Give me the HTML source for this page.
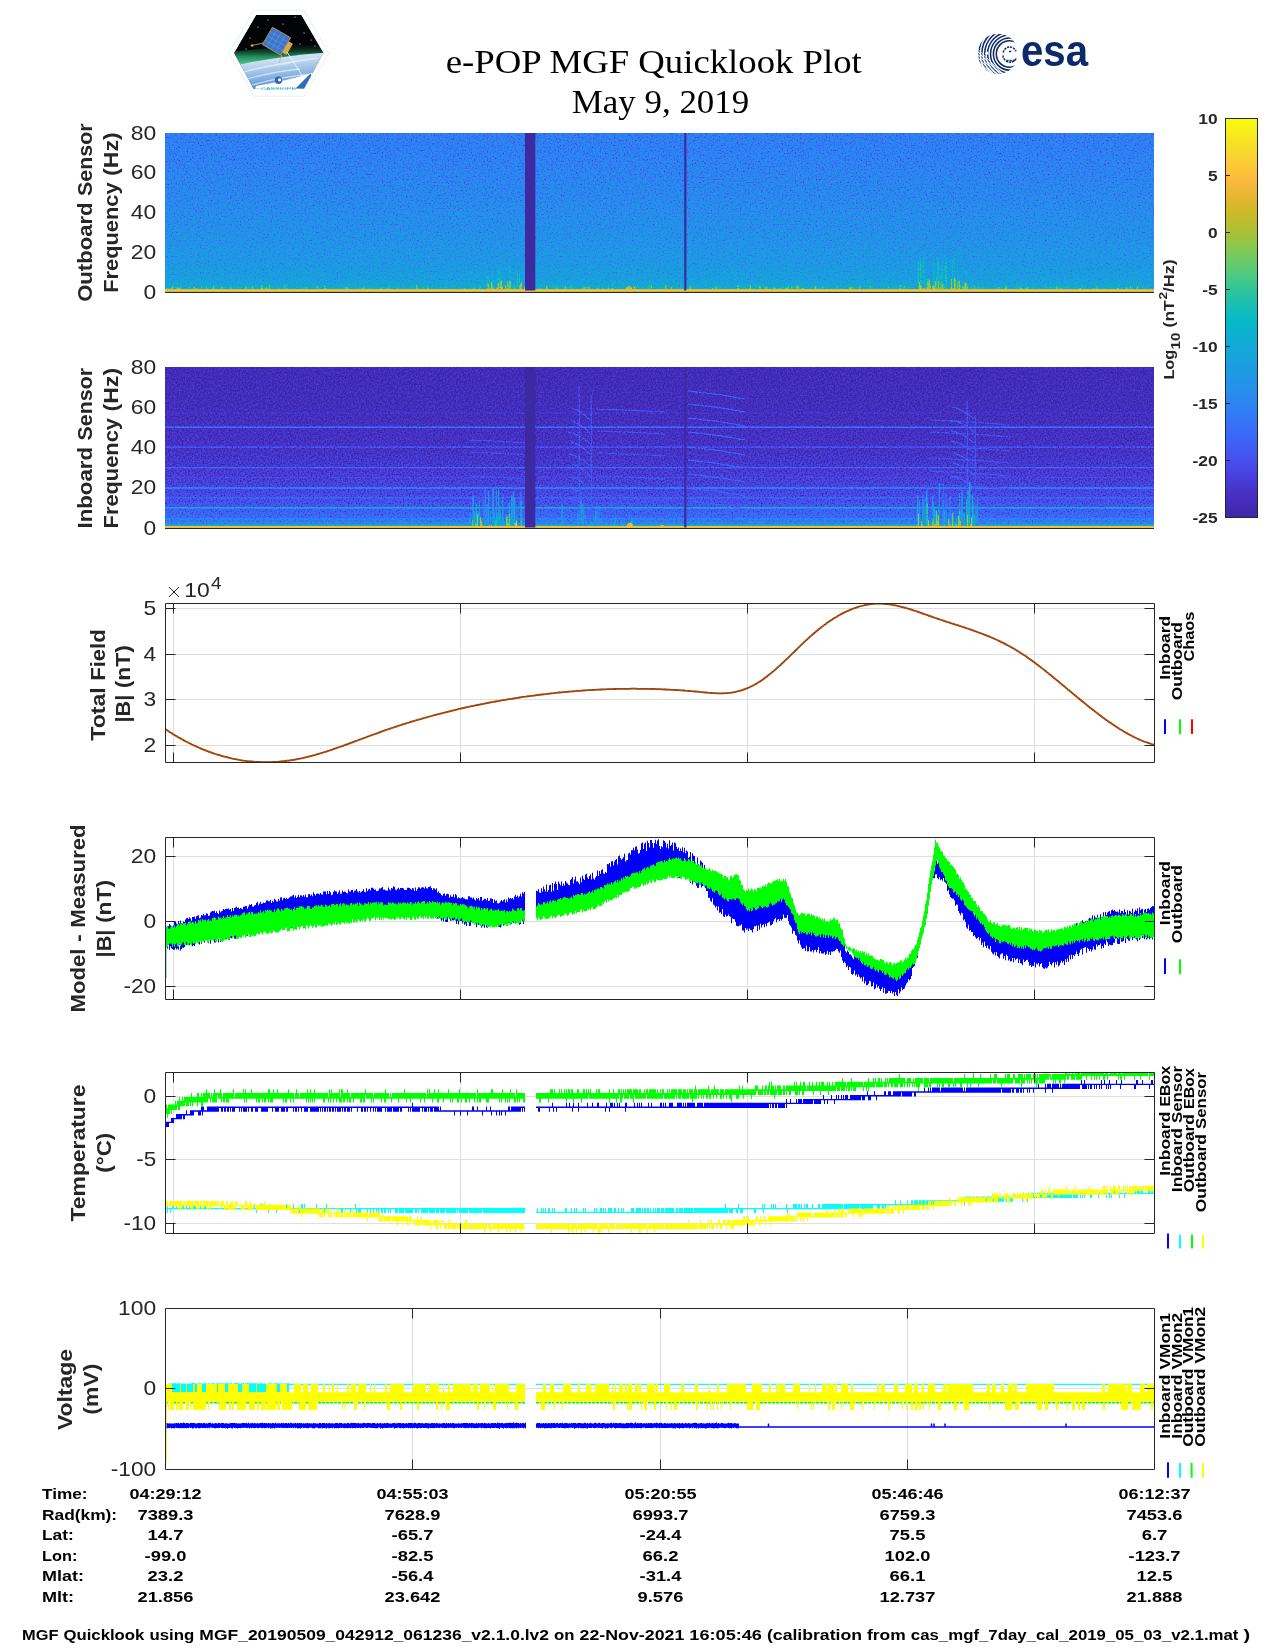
<!DOCTYPE html><html><head><meta charset="utf-8"><title>e-POP MGF Quicklook Plot</title><style>html,body{margin:0;padding:0;background:#fff;}body{width:1275px;height:1650px;overflow:hidden;position:relative;}svg{position:absolute;left:0;top:0;display:block;will-change:transform;}text{font-family:"Liberation Sans",sans-serif;}</style></head><body>
<svg width="1275" height="1650" viewBox="0 0 1275 1650">
<defs><clipPath id="hexclip"><polygon points="256.0,15.0 301.5,15.0 323.5,53.0 304.0,88.8 253.5,88.8 234.0,53.0"/></clipPath><linearGradient id="earth" x1="0" y1="0" x2="0.25" y2="1"><stop offset="0" stop-color="#eef5fb"/><stop offset="0.3" stop-color="#c9def2"/><stop offset="0.65" stop-color="#8db6e2"/><stop offset="1" stop-color="#4f86c8"/></linearGradient><linearGradient id="aur" x1="0" y1="0" x2="0" y2="1"><stop offset="0" stop-color="#06140e" stop-opacity="0"/><stop offset="0.55" stop-color="#1f8a58"/><stop offset="0.85" stop-color="#52c48e"/><stop offset="1" stop-color="#bfe8dc"/></linearGradient><clipPath id="esac"><circle cx="997.9" cy="53.8" r="20.1"/></clipPath><clipPath id="esall"><path d="M976.9 47.8 L1005.9 75.8 L976.9 75.8 Z"/></clipPath><linearGradient id="gout" gradientUnits="userSpaceOnUse" x1="0" y1="133" x2="0" y2="292"><stop offset="0.0000" stop-color="#4e4e4e"/><stop offset="0.2327" stop-color="#525252"/><stop offset="0.4214" stop-color="#575757"/><stop offset="0.6730" stop-color="#606060"/><stop offset="0.8302" stop-color="#676767"/><stop offset="0.9245" stop-color="#6e6e6e"/><stop offset="0.9623" stop-color="#787878"/><stop offset="0.9786" stop-color="#808080"/><stop offset="0.9811" stop-color="#dedede"/><stop offset="0.9937" stop-color="#dbdbdb"/><stop offset="0.9938" stop-color="#9e9e9e"/><stop offset="1.0000" stop-color="#9e9e9e"/></linearGradient><filter id="fout" filterUnits="userSpaceOnUse" x="165" y="133" width="989" height="159" color-interpolation-filters="sRGB"><feTurbulence type="fractalNoise" baseFrequency="0.62" numOctaves="2" seed="5" result="n"/><feColorMatrix in="n" type="matrix" values="1 0 0 0 0  1 0 0 0 0  1 0 0 0 0  0 0 0 0 1" result="ng0"/><feComponentTransfer in="ng0" result="ng"><feFuncR type="table" tableValues="0 0.16 0.38 0.5 0.56 0.6"/><feFuncG type="table" tableValues="0 0.16 0.38 0.5 0.56 0.6"/><feFuncB type="table" tableValues="0 0.16 0.38 0.5 0.56 0.6"/></feComponentTransfer><feComposite in="SourceGraphic" in2="ng" operator="arithmetic" k1="0" k2="1" k3="0.6" k4="-0.3000" result="v"/><feComponentTransfer in="v"><feFuncR type="table" tableValues="0.2431 0.2531 0.2631 0.2730 0.2766 0.2791 0.2816 0.2803 0.2774 0.2745 0.2637 0.2528 0.2418 0.2303 0.2179 0.2054 0.1935 0.1831 0.1727 0.1614 0.1501 0.1391 0.1291 0.1192 0.1091 0.0966 0.0842 0.0717 0.0583 0.0448 0.0313 0.0235 0.0530 0.0826 0.1163 0.1528 0.1896 0.2404 0.2912 0.3420 0.3949 0.4479 0.5008 0.5564 0.6120 0.6675 0.7135 0.7595 0.8045 0.8418 0.8792 0.9141 0.9474 0.9807 0.9873 0.9907 0.9873 0.9786 0.9698 0.9658 0.9685 0.9711 0.9738 0.9765"/><feFuncG type="table" tableValues="0.1490 0.1590 0.1689 0.1789 0.1973 0.2172 0.2372 0.2614 0.2874 0.3135 0.3375 0.3616 0.3856 0.4090 0.4314 0.4538 0.4766 0.5008 0.5251 0.5422 0.5591 0.5754 0.5891 0.6028 0.6166 0.6315 0.6465 0.6614 0.6769 0.6925 0.7080 0.7228 0.7321 0.7415 0.7507 0.7598 0.7689 0.7778 0.7867 0.7955 0.7936 0.7909 0.7883 0.7779 0.7673 0.7567 0.7472 0.7377 0.7287 0.7224 0.7162 0.7155 0.7184 0.7213 0.7456 0.7725 0.7997 0.8270 0.8544 0.8812 0.9069 0.9327 0.9585 0.9843"/><feFuncB type="table" tableValues="0.6588 0.6887 0.7186 0.7485 0.7805 0.8128 0.8452 0.8752 0.9041 0.9331 0.9442 0.9551 0.9660 0.9725 0.9725 0.9725 0.9700 0.9596 0.9492 0.9351 0.9210 0.9077 0.8978 0.8878 0.8777 0.8652 0.8528 0.8403 0.8260 0.8115 0.7969 0.7807 0.7527 0.7246 0.6878 0.6453 0.6028 0.5596 0.5164 0.4732 0.4283 0.3832 0.3382 0.2958 0.2534 0.2114 0.1925 0.1735 0.1584 0.1708 0.1833 0.2004 0.2207 0.2409 0.2326 0.2209 0.2052 0.1866 0.1679 0.1474 0.1243 0.1011 0.0780 0.0549"/></feComponentTransfer></filter><linearGradient id="gin" gradientUnits="userSpaceOnUse" x1="0" y1="367" x2="0" y2="528"><stop offset="0.0000" stop-color="#111111"/><stop offset="0.2671" stop-color="#131313"/><stop offset="0.5155" stop-color="#181818"/><stop offset="0.7019" stop-color="#212121"/><stop offset="0.8261" stop-color="#2b2b2b"/><stop offset="0.9006" stop-color="#383838"/><stop offset="0.9503" stop-color="#424242"/><stop offset="0.9752" stop-color="#575757"/><stop offset="0.9851" stop-color="#808080"/><stop offset="0.9876" stop-color="#dedede"/><stop offset="1.0000" stop-color="#dedede"/></linearGradient><filter id="fin" filterUnits="userSpaceOnUse" x="165" y="367" width="989" height="161" color-interpolation-filters="sRGB"><feTurbulence type="fractalNoise" baseFrequency="0.62" numOctaves="2" seed="9" result="n"/><feColorMatrix in="n" type="matrix" values="1 0 0 0 0  1 0 0 0 0  1 0 0 0 0  0 0 0 0 1" result="ng0"/><feComponentTransfer in="ng0" result="ng"><feFuncR type="table" tableValues="0 0.16 0.38 0.5 0.56 0.6"/><feFuncG type="table" tableValues="0 0.16 0.38 0.5 0.56 0.6"/><feFuncB type="table" tableValues="0 0.16 0.38 0.5 0.56 0.6"/></feComponentTransfer><feComposite in="SourceGraphic" in2="ng" operator="arithmetic" k1="0" k2="1" k3="0.5" k4="-0.2500" result="v"/><feComponentTransfer in="v"><feFuncR type="table" tableValues="0.2431 0.2531 0.2631 0.2730 0.2766 0.2791 0.2816 0.2803 0.2774 0.2745 0.2637 0.2528 0.2418 0.2303 0.2179 0.2054 0.1935 0.1831 0.1727 0.1614 0.1501 0.1391 0.1291 0.1192 0.1091 0.0966 0.0842 0.0717 0.0583 0.0448 0.0313 0.0235 0.0530 0.0826 0.1163 0.1528 0.1896 0.2404 0.2912 0.3420 0.3949 0.4479 0.5008 0.5564 0.6120 0.6675 0.7135 0.7595 0.8045 0.8418 0.8792 0.9141 0.9474 0.9807 0.9873 0.9907 0.9873 0.9786 0.9698 0.9658 0.9685 0.9711 0.9738 0.9765"/><feFuncG type="table" tableValues="0.1490 0.1590 0.1689 0.1789 0.1973 0.2172 0.2372 0.2614 0.2874 0.3135 0.3375 0.3616 0.3856 0.4090 0.4314 0.4538 0.4766 0.5008 0.5251 0.5422 0.5591 0.5754 0.5891 0.6028 0.6166 0.6315 0.6465 0.6614 0.6769 0.6925 0.7080 0.7228 0.7321 0.7415 0.7507 0.7598 0.7689 0.7778 0.7867 0.7955 0.7936 0.7909 0.7883 0.7779 0.7673 0.7567 0.7472 0.7377 0.7287 0.7224 0.7162 0.7155 0.7184 0.7213 0.7456 0.7725 0.7997 0.8270 0.8544 0.8812 0.9069 0.9327 0.9585 0.9843"/><feFuncB type="table" tableValues="0.6588 0.6887 0.7186 0.7485 0.7805 0.8128 0.8452 0.8752 0.9041 0.9331 0.9442 0.9551 0.9660 0.9725 0.9725 0.9725 0.9700 0.9596 0.9492 0.9351 0.9210 0.9077 0.8978 0.8878 0.8777 0.8652 0.8528 0.8403 0.8260 0.8115 0.7969 0.7807 0.7527 0.7246 0.6878 0.6453 0.6028 0.5596 0.5164 0.4732 0.4283 0.3832 0.3382 0.2958 0.2534 0.2114 0.1925 0.1735 0.1584 0.1708 0.1833 0.2004 0.2207 0.2409 0.2326 0.2209 0.2052 0.1866 0.1679 0.1474 0.1243 0.1011 0.0780 0.0549"/></feComponentTransfer></filter><linearGradient id="parula" x1="0" y1="0" x2="0" y2="1"><stop offset="0.000" stop-color="#f9fb0e"/><stop offset="0.070" stop-color="#f6de28"/><stop offset="0.120" stop-color="#fdc837"/><stop offset="0.157" stop-color="#fbb83e"/><stop offset="0.200" stop-color="#e4b630"/><stop offset="0.240" stop-color="#ccba28"/><stop offset="0.286" stop-color="#aac136"/><stop offset="0.333" stop-color="#80c956"/><stop offset="0.380" stop-color="#58cb78"/><stop offset="0.429" stop-color="#30c49a"/><stop offset="0.470" stop-color="#18beb6"/><stop offset="0.510" stop-color="#05b8c8"/><stop offset="0.570" stop-color="#12a9d6"/><stop offset="0.620" stop-color="#1c9de0"/><stop offset="0.670" stop-color="#2492e8"/><stop offset="0.714" stop-color="#2c86f2"/><stop offset="0.750" stop-color="#3278f8"/><stop offset="0.800" stop-color="#3c66f8"/><stop offset="0.857" stop-color="#4650ee"/><stop offset="0.900" stop-color="#483eda"/><stop offset="0.950" stop-color="#462ec0"/><stop offset="1.000" stop-color="#3e26a8"/></linearGradient><clipPath id="tfclip"><rect x="165" y="603" width="990" height="160"/></clipPath><clipPath id="mmclip"><rect x="165" y="837" width="990" height="163"/></clipPath><clipPath id="tpclip"><rect x="165" y="1072" width="990" height="162"/></clipPath><clipPath id="vlclip"><rect x="165" y="1308" width="990" height="162"/></clipPath></defs>
<polygon points="254.0,10.2 304.0,10.2 329.0,53.2 304.0,96.2 254.0,96.2 229.0,53.2" fill="#fff" stroke="#c4e8f4" stroke-width="0.9" stroke-dasharray="1.2 0.8"/>
<g clip-path="url(#hexclip)">
<polygon points="256.0,15.0 301.5,15.0 323.5,53.0 304.0,88.8 253.5,88.8 234.0,53.0" fill="#020306"/>
<path d="M230 52 L326 42 L326 54 L230 68 Z" fill="url(#aur)"/>
<path d="M230 67 Q275 56 326 52.5 L326 92 L230 92 Z" fill="url(#earth)"/>
<path d="M238 74 Q262 66 290 63 M244 80 Q270 72 300 69 M252 85 Q280 77 312 74 M270 66 Q290 62 318 58" stroke="#ffffff" stroke-width="1.4" fill="none" opacity="0.55"/>
<path d="M236 78 Q250 84 258 90 L236 90 Z" fill="#3f78c0" opacity="0.5"/>
<path d="M256 86 Q286 81 312 73 L326 71 L326 92 L254 92 Z" fill="#fff"/>
<path d="M295.5 88.5 L310.5 73.5 L313 79 L305 89 Z" fill="#2e6cc0"/>
<g transform="rotate(30 276 42)"><rect x="265.5" y="31" width="21" height="20" fill="#3b76cc" stroke="#c99a48" stroke-width="0.8"/><path d="M265.5 36 H286.5 M265.5 41 H286.5 M265.5 46 H286.5 M270.5 31 V51 M275.5 31 V51 M280.5 31 V51" stroke="#6a9ee0" stroke-width="0.5"/><rect x="286.5" y="35" width="5" height="13" fill="#d8a850"/></g>
<path d="M263 43 L252 45.5 M282 55 L279 63" stroke="#d9b06a" stroke-width="0.8" fill="none"/>
<path d="M287 52 L302.5 76" stroke="#eef4ff" stroke-width="0.9" fill="none"/>
<circle cx="252" cy="45.5" r="1.3" fill="#f0a030"/>
<circle cx="258" cy="27" r="0.55" fill="#fff"/>
<circle cx="295" cy="17" r="0.55" fill="#fff"/>
<circle cx="283" cy="24" r="0.55" fill="#fff"/>
<circle cx="246" cy="49" r="0.55" fill="#fff"/>
<circle cx="304" cy="33" r="0.55" fill="#fff"/>
<circle cx="311" cy="40" r="0.55" fill="#fff"/>
<circle cx="268" cy="20" r="0.55" fill="#fff"/>
<circle cx="300" cy="44" r="0.55" fill="#fff"/>
<circle cx="315" cy="46" r="0.55" fill="#fff"/>
<circle cx="250" cy="38" r="0.55" fill="#fff"/>
<circle cx="278.5" cy="80.3" r="3.7" fill="#2c68b8"/><circle cx="279.6" cy="79.8" r="1.6" fill="#fff"/>
</g>
<text x="278.5" y="90.2" font-size="4.3" text-anchor="middle" fill="#33a9d9" textLength="35" lengthAdjust="spacingAndGlyphs">CASSIOPE</text>
<g clip-path="url(#esac)">
<g fill="none" stroke="#0c2a6a" stroke-width="1.55"><circle cx="1009.5" cy="54.0" r="13.2"/><circle cx="1009.5" cy="54.0" r="16.1"/><circle cx="1009.5" cy="54.0" r="19.0"/><circle cx="1009.5" cy="54.0" r="21.9"/><circle cx="1009.5" cy="54.0" r="24.8"/><circle cx="1009.5" cy="54.0" r="27.7"/><circle cx="1009.5" cy="54.0" r="30.6"/><circle cx="1009.5" cy="54.0" r="33.5"/><circle cx="1009.5" cy="54.0" r="36.4"/><circle cx="1009.5" cy="54.0" r="39.3"/><circle cx="1009.5" cy="54.0" r="42.2"/><circle cx="1009.5" cy="54.0" r="45.1"/></g>
<g clip-path="url(#esall)"><path d="M937.9 23.8 l60 60M940.9 23.8 l60 60M943.9 23.8 l60 60M946.9 23.8 l60 60M949.9 23.8 l60 60M952.9 23.8 l60 60M955.9 23.8 l60 60M958.9 23.8 l60 60M961.9 23.8 l60 60M964.9 23.8 l60 60M967.9 23.8 l60 60M970.9 23.8 l60 60M973.9 23.8 l60 60M976.9 23.8 l60 60M979.9 23.8 l60 60M982.9 23.8 l60 60M985.9 23.8 l60 60M988.9 23.8 l60 60M991.9 23.8 l60 60M994.9 23.8 l60 60M997.9 23.8 l60 60M1000.9 23.8 l60 60M1003.9 23.8 l60 60M1006.9 23.8 l60 60" stroke="#fff" stroke-width="1.1" fill="none" opacity="0.9"/></g>
<circle cx="1009.5" cy="54.0" r="11.6" fill="#fff"/>
<circle cx="987" cy="53.2" r="1.6" fill="#fff"/>
</g>
<path d="M1003.3 52.5 A6.6 6.6 0 0 1 1016 51.3 M1009 51.4 H1011.7 M1003 55.5 A7 7 0 0 0 1016.5 57.8 M1006.5 60.6 H1015" stroke="#0c2a6a" stroke-width="1.5" fill="none" stroke-dasharray="2.2 0.9"/>
<text x="1021" y="66" font-size="45" font-weight="bold" fill="#0c2a6a" textLength="67" lengthAdjust="spacingAndGlyphs">esa</text>
<text x="653.80" y="72.80" font-size="33.60" text-anchor="middle" fill="#000" style="font-family:&quot;Liberation Serif&quot;,serif" textLength="416.00" lengthAdjust="spacingAndGlyphs">e-POP MGF Quicklook Plot</text>
<text x="660.50" y="112.50" font-size="33.60" text-anchor="middle" fill="#000" style="font-family:&quot;Liberation Serif&quot;,serif" textLength="177.50" lengthAdjust="spacingAndGlyphs">May 9, 2019</text>
<g filter="url(#fout)"><rect x="165" y="133" width="989" height="159" fill="url(#gout)"/>
<path d="M498.0 289V287.8" stroke="#8c8c8c" stroke-width="0.54"/><path d="M505.8 289V284.0" stroke="#6e6e6e" stroke-width="0.75"/><path d="M487.4 289V282.4" stroke="#6f6f6f" stroke-width="0.55"/><path d="M501.7 289V270.6" stroke="#717171" stroke-width="0.61"/><path d="M509.2 289V266.1" stroke="#898989" stroke-width="0.70"/><path d="M522.1 289V288.8" stroke="#979797" stroke-width="0.64"/><path d="M491.3 289V288.2" stroke="#7b7b7b" stroke-width="0.91"/><path d="M492.7 289V278.5" stroke="#8c8c8c" stroke-width="0.69"/><path d="M506.3 289V288.7" stroke="#6e6e6e" stroke-width="0.60"/><path d="M511.2 289V282.6" stroke="#7b7b7b" stroke-width="0.79"/><path d="M502.8 289V285.4" stroke="#949494" stroke-width="0.85"/><path d="M495.0 289V278.7" stroke="#868686" stroke-width="0.94"/><path d="M513.0 289V285.6" stroke="#9d9d9d" stroke-width="0.56"/><path d="M501.5 289V273.0" stroke="#737373" stroke-width="0.74"/><path d="M487.5 289V275.9" stroke="#929292" stroke-width="0.79"/><path d="M518.4 289V285.1" stroke="#8f8f8f" stroke-width="0.80"/><path d="M507.5 289V281.9" stroke="#969696" stroke-width="0.97"/><path d="M503.5 289V276.0" stroke="#6e6e6e" stroke-width="0.85"/><path d="M509.9 289V264.3" stroke="#959595" stroke-width="0.64"/><path d="M500.3 289V275.9" stroke="#6c6c6c" stroke-width="0.73"/><path d="M492.2 289V288.2" stroke="#6e6e6e" stroke-width="0.88"/><path d="M490.8 289V286.3" stroke="#7f7f7f" stroke-width="0.94"/><path d="M489.0 289V282.1" stroke="#878787" stroke-width="0.94"/><path d="M516.3 289V269.2" stroke="#797979" stroke-width="0.71"/><path d="M499.3 289V268.5" stroke="#9c9c9c" stroke-width="0.58"/><path d="M492.5 289V286.6" stroke="#777777" stroke-width="0.74"/><path d="M507.8 289V286.1" stroke="#6b6b6b" stroke-width="0.71"/><path d="M499.7 289V278.9" stroke="#9c9c9c" stroke-width="0.85"/><path d="M505.1 289V277.4" stroke="#8e8e8e" stroke-width="0.53"/><path d="M519.3 289V272.2" stroke="#989898" stroke-width="0.90"/><path d="M500.5 289V283.3" stroke="#707070" stroke-width="0.82"/><path d="M488.3 289V288.7" stroke="#767676" stroke-width="0.58"/><path d="M498.6 289V288.8" stroke="#6b6b6b" stroke-width="0.58"/><path d="M489.8 289V284.0" stroke="#6c6c6c" stroke-width="0.94"/><path d="M508.7 289V287.8" stroke="#787878" stroke-width="0.67"/><path d="M499.5 289V288.1" stroke="#969696" stroke-width="1.00"/><path d="M503.2 289V281.2" stroke="#6f6f6f" stroke-width="0.55"/><path d="M498.7 289V286.0" stroke="#959595" stroke-width="0.58"/><path d="M486.9 289V265.9" stroke="#868686" stroke-width="0.57"/><path d="M506.1 289V288.9" stroke="#868686" stroke-width="0.99"/><path d="M517.9 289V275.0" stroke="#787878" stroke-width="0.68"/><path d="M492.2 289V272.5" stroke="#868686" stroke-width="0.89"/><path d="M498.2 289V286.7" stroke="#949494" stroke-width="0.99"/><path d="M517.5 289V271.3" stroke="#959595" stroke-width="0.87"/><path d="M494.4 289V280.3" stroke="#7d7d7d" stroke-width="0.51"/><path d="M487.0 289V285.7" stroke="#787878" stroke-width="0.85"/><path d="M521.4 289V282.1" stroke="#9b9b9b" stroke-width="0.99"/><path d="M521.3 289V284.0" stroke="#767676" stroke-width="0.61"/><path d="M493.3 289V287.0" stroke="#8b8b8b" stroke-width="0.95"/><path d="M517.1 289V281.3" stroke="#8c8c8c" stroke-width="0.90"/><path d="M489.1 289V276.1" stroke="#999999" stroke-width="0.89"/><path d="M513.8 289V281.3" stroke="#747474" stroke-width="0.89"/><path d="M498.3 289V271.5" stroke="#9d9d9d" stroke-width="0.70"/><path d="M500.9 289V266.1" stroke="#909090" stroke-width="0.59"/><path d="M490.7 289V287.8" stroke="#999999" stroke-width="0.90"/>
<path d="M923.6 289V261.7" stroke="#a2a2a2" stroke-width="0.83"/><path d="M934.2 289V274.8" stroke="#727272" stroke-width="0.51"/><path d="M966.5 289V270.4" stroke="#898989" stroke-width="0.97"/><path d="M938.6 289V259.3" stroke="#999999" stroke-width="0.61"/><path d="M929.1 289V283.8" stroke="#797979" stroke-width="0.79"/><path d="M929.5 289V279.8" stroke="#727272" stroke-width="0.96"/><path d="M934.4 289V278.4" stroke="#8c8c8c" stroke-width="0.95"/><path d="M937.9 289V256.7" stroke="#878787" stroke-width="0.77"/><path d="M943.2 289V288.9" stroke="#848484" stroke-width="0.59"/><path d="M916.2 289V263.2" stroke="#757575" stroke-width="0.74"/><path d="M953.7 289V274.5" stroke="#7d7d7d" stroke-width="0.76"/><path d="M944.9 289V263.9" stroke="#717171" stroke-width="0.78"/><path d="M928.9 289V284.3" stroke="#969696" stroke-width="0.75"/><path d="M945.2 289V265.1" stroke="#9e9e9e" stroke-width="0.72"/><path d="M947.9 289V276.6" stroke="#888888" stroke-width="0.85"/><path d="M939.5 289V275.5" stroke="#868686" stroke-width="0.97"/><path d="M952.4 289V259.0" stroke="#a0a0a0" stroke-width="0.63"/><path d="M945.1 289V255.3" stroke="#9a9a9a" stroke-width="0.57"/><path d="M922.3 289V279.0" stroke="#6f6f6f" stroke-width="0.62"/><path d="M919.8 289V269.5" stroke="#979797" stroke-width="0.95"/><path d="M924.0 289V267.3" stroke="#909090" stroke-width="0.57"/><path d="M961.9 289V253.9" stroke="#777777" stroke-width="0.98"/><path d="M936.7 289V277.3" stroke="#a3a3a3" stroke-width="0.92"/><path d="M924.4 289V279.4" stroke="#888888" stroke-width="0.67"/><path d="M926.2 289V283.1" stroke="#949494" stroke-width="0.51"/><path d="M944.8 289V279.0" stroke="#6c6c6c" stroke-width="0.67"/><path d="M948.4 289V276.3" stroke="#6f6f6f" stroke-width="0.99"/><path d="M957.0 289V253.7" stroke="#717171" stroke-width="0.63"/><path d="M918.1 289V264.2" stroke="#7a7a7a" stroke-width="0.56"/><path d="M938.0 289V257.1" stroke="#999999" stroke-width="0.63"/><path d="M923.8 289V256.7" stroke="#8b8b8b" stroke-width="0.85"/><path d="M920.7 289V288.6" stroke="#929292" stroke-width="0.71"/><path d="M919.8 289V255.6" stroke="#8f8f8f" stroke-width="0.90"/><path d="M920.4 289V260.1" stroke="#6f6f6f" stroke-width="0.93"/><path d="M939.6 289V282.4" stroke="#8a8a8a" stroke-width="0.96"/><path d="M929.9 289V287.6" stroke="#898989" stroke-width="0.62"/><path d="M921.7 289V287.0" stroke="#6e6e6e" stroke-width="0.60"/><path d="M932.2 289V283.5" stroke="#969696" stroke-width="0.64"/><path d="M942.0 289V286.7" stroke="#7f7f7f" stroke-width="0.51"/><path d="M929.0 289V289.0" stroke="#949494" stroke-width="0.78"/><path d="M925.9 289V277.8" stroke="#a0a0a0" stroke-width="0.55"/><path d="M958.6 289V279.3" stroke="#878787" stroke-width="0.92"/><path d="M936.4 289V276.5" stroke="#929292" stroke-width="0.99"/><path d="M933.8 289V261.4" stroke="#939393" stroke-width="0.82"/><path d="M937.0 289V282.2" stroke="#6e6e6e" stroke-width="0.56"/><path d="M919.7 289V266.1" stroke="#797979" stroke-width="0.58"/><path d="M920.4 289V260.9" stroke="#9c9c9c" stroke-width="0.84"/><path d="M930.7 289V285.2" stroke="#7c7c7c" stroke-width="0.73"/><path d="M924.2 289V278.8" stroke="#7a7a7a" stroke-width="0.98"/><path d="M966.6 289V274.9" stroke="#797979" stroke-width="0.98"/><path d="M932.1 289V281.9" stroke="#6b6b6b" stroke-width="0.69"/><path d="M940.7 289V276.7" stroke="#767676" stroke-width="0.75"/><path d="M916.3 289V284.6" stroke="#707070" stroke-width="0.70"/><path d="M918.2 289V288.9" stroke="#7c7c7c" stroke-width="0.62"/><path d="M946.5 289V275.6" stroke="#959595" stroke-width="0.83"/><path d="M953.2 289V258.9" stroke="#818181" stroke-width="0.66"/><path d="M967.2 289V287.2" stroke="#949494" stroke-width="0.82"/><path d="M918.3 289V261.3" stroke="#9d9d9d" stroke-width="0.81"/><path d="M954.2 289V262.5" stroke="#737373" stroke-width="0.76"/><path d="M942.2 289V261.3" stroke="#989898" stroke-width="0.91"/><path d="M946.4 289V258.1" stroke="#919191" stroke-width="0.85"/><path d="M928.0 289V288.9" stroke="#737373" stroke-width="0.68"/><path d="M921.5 289V261.2" stroke="#8a8a8a" stroke-width="0.81"/><path d="M948.6 289V269.0" stroke="#878787" stroke-width="0.50"/><path d="M957.5 289V265.7" stroke="#878787" stroke-width="0.77"/><path d="M950.3 289V288.5" stroke="#949494" stroke-width="0.63"/><path d="M919.9 289V284.6" stroke="#949494" stroke-width="0.60"/><path d="M954.5 289V253.4" stroke="#878787" stroke-width="0.69"/><path d="M940.9 289V268.9" stroke="#969696" stroke-width="0.81"/><path d="M949.4 289V288.4" stroke="#737373" stroke-width="0.63"/>
<path d="M644.6 289V287.7" stroke="#9c9c9c" stroke-width="0.61"/><path d="M603.6 289V287.9" stroke="#a2a2a2" stroke-width="0.95"/><path d="M640.5 289V287.8" stroke="#9a9a9a" stroke-width="0.83"/><path d="M628.0 289V288.7" stroke="#adadad" stroke-width="0.70"/><path d="M658.7 289V280.9" stroke="#808080" stroke-width="0.83"/><path d="M649.2 289V280.5" stroke="#969696" stroke-width="0.73"/><path d="M612.6 289V280.8" stroke="#8a8a8a" stroke-width="0.89"/><path d="M608.5 289V285.8" stroke="#b0b0b0" stroke-width="0.67"/><path d="M649.2 289V285.9" stroke="#adadad" stroke-width="0.95"/><path d="M613.9 289V281.4" stroke="#989898" stroke-width="0.61"/>
<path d="M488.1 289V286.1" stroke="#d3d3d3" stroke-width="0.78"/><path d="M492.9 289V287.4" stroke="#cdcdcd" stroke-width="1.10"/><path d="M488.1 289V283.3" stroke="#e4e4e4" stroke-width="0.67"/><path d="M520.4 289V283.8" stroke="#e6e6e6" stroke-width="0.77"/><path d="M501.0 289V287.0" stroke="#ebebeb" stroke-width="0.95"/><path d="M500.6 289V286.7" stroke="#cbcbcb" stroke-width="0.63"/><path d="M491.6 289V282.3" stroke="#cccccc" stroke-width="1.16"/><path d="M496.7 289V287.9" stroke="#d5d5d5" stroke-width="0.71"/><path d="M501.1 289V280.6" stroke="#e6e6e6" stroke-width="1.09"/><path d="M510.1 289V281.2" stroke="#e8e8e8" stroke-width="0.93"/><path d="M513.2 289V288.9" stroke="#dfdfdf" stroke-width="0.87"/><path d="M514.3 289V284.5" stroke="#cccccc" stroke-width="0.63"/><path d="M520.4 289V288.7" stroke="#d4d4d4" stroke-width="0.81"/><path d="M498.4 289V283.5" stroke="#eaeaea" stroke-width="0.76"/><path d="M511.0 289V287.7" stroke="#d7d7d7" stroke-width="0.84"/><path d="M493.9 289V288.5" stroke="#c8c8c8" stroke-width="1.14"/><path d="M505.4 289V288.2" stroke="#e7e7e7" stroke-width="1.20"/><path d="M503.7 289V288.6" stroke="#c8c8c8" stroke-width="0.65"/><path d="M500.0 289V288.8" stroke="#cacaca" stroke-width="0.76"/><path d="M507.9 289V281.6" stroke="#e0e0e0" stroke-width="0.85"/><path d="M502.5 289V285.8" stroke="#d0d0d0" stroke-width="0.80"/><path d="M490.2 289V287.8" stroke="#e9e9e9" stroke-width="0.68"/><path d="M505.6 289V284.7" stroke="#e5e5e5" stroke-width="0.73"/><path d="M497.5 289V288.0" stroke="#d1d1d1" stroke-width="0.87"/><path d="M521.4 289V282.1" stroke="#e5e5e5" stroke-width="0.61"/>
<path d="M919.6 289V282.6" stroke="#e6e6e6" stroke-width="0.88"/><path d="M947.4 289V289.0" stroke="#d0d0d0" stroke-width="1.16"/><path d="M959.3 289V280.4" stroke="#e9e9e9" stroke-width="0.75"/><path d="M923.5 289V288.4" stroke="#d6d6d6" stroke-width="1.01"/><path d="M965.1 289V282.5" stroke="#dbdbdb" stroke-width="1.06"/><path d="M940.9 289V284.8" stroke="#c1c1c1" stroke-width="1.07"/><path d="M929.6 289V279.4" stroke="#dbdbdb" stroke-width="0.78"/><path d="M924.4 289V287.8" stroke="#dbdbdb" stroke-width="1.02"/><path d="M923.6 289V288.8" stroke="#d6d6d6" stroke-width="0.95"/><path d="M937.4 289V288.0" stroke="#d9d9d9" stroke-width="0.61"/><path d="M933.1 289V285.8" stroke="#e9e9e9" stroke-width="0.99"/><path d="M962.2 289V285.7" stroke="#c9c9c9" stroke-width="0.75"/><path d="M966.0 289V282.7" stroke="#cdcdcd" stroke-width="0.61"/><path d="M942.9 289V283.1" stroke="#d1d1d1" stroke-width="0.75"/><path d="M951.4 289V279.3" stroke="#c9c9c9" stroke-width="0.62"/><path d="M934.9 289V286.2" stroke="#dddddd" stroke-width="0.72"/><path d="M957.9 289V282.2" stroke="#d5d5d5" stroke-width="0.72"/><path d="M966.5 289V287.3" stroke="#e3e3e3" stroke-width="0.74"/><path d="M929.1 289V281.9" stroke="#cccccc" stroke-width="1.17"/><path d="M942.8 289V288.2" stroke="#c9c9c9" stroke-width="0.85"/><path d="M951.3 289V278.9" stroke="#c6c6c6" stroke-width="0.84"/><path d="M928.6 289V278.5" stroke="#c5c5c5" stroke-width="0.63"/><path d="M921.0 289V286.5" stroke="#e6e6e6" stroke-width="1.13"/><path d="M954.6 289V278.0" stroke="#e8e8e8" stroke-width="0.80"/><path d="M927.3 289V279.1" stroke="#e0e0e0" stroke-width="0.62"/><path d="M951.2 289V286.7" stroke="#cfcfcf" stroke-width="0.80"/><path d="M926.5 289V289.0" stroke="#cbcbcb" stroke-width="0.81"/><path d="M965.8 289V288.6" stroke="#e9e9e9" stroke-width="0.72"/><path d="M935.8 289V281.0" stroke="#e3e3e3" stroke-width="0.86"/><path d="M920.5 289V285.7" stroke="#cfcfcf" stroke-width="1.15"/><path d="M927.7 289V286.8" stroke="#e6e6e6" stroke-width="0.62"/><path d="M938.5 289V281.1" stroke="#e0e0e0" stroke-width="0.62"/><path d="M919.7 289V288.9" stroke="#e7e7e7" stroke-width="0.75"/><path d="M955.4 289V279.7" stroke="#cecece" stroke-width="0.76"/><path d="M965.9 289V283.9" stroke="#cbcbcb" stroke-width="1.03"/>
<path d="M1005.3 289V288.1" stroke="#808080" stroke-width="0.98"/><path d="M1053.3 289V285.6" stroke="#b0b0b0" stroke-width="0.61"/><path d="M998.7 289V286.9" stroke="#b0b0b0" stroke-width="1.08"/><path d="M1010.9 289V288.2" stroke="#959595" stroke-width="0.85"/><path d="M1054.2 289V288.5" stroke="#a8a8a8" stroke-width="0.97"/><path d="M1045.8 289V284.4" stroke="#9e9e9e" stroke-width="0.76"/><path d="M1005.6 289V287.6" stroke="#a7a7a7" stroke-width="0.64"/><path d="M995.8 289V284.6" stroke="#8c8c8c" stroke-width="0.63"/><path d="M982.7 289V286.3" stroke="#909090" stroke-width="1.09"/><path d="M1050.7 289V282.1" stroke="#8d8d8d" stroke-width="0.64"/>
<path d="M625 290 q4 -8 8 0 Z" fill="#d9d9d9"/>
<path d="M261.2 289V287.7" stroke="#b9b9b9" stroke-width="1.11"/><path d="M397.2 289V288.0" stroke="#b4b4b4" stroke-width="1.27"/><path d="M904.3 289V285.9" stroke="#b7b7b7" stroke-width="0.88"/><path d="M995.9 289V288.4" stroke="#b0b0b0" stroke-width="1.06"/><path d="M894.5 289V288.7" stroke="#9c9c9c" stroke-width="0.97"/><path d="M317.3 289V285.7" stroke="#b1b1b1" stroke-width="1.03"/><path d="M556.9 289V285.0" stroke="#adadad" stroke-width="0.96"/><path d="M963.9 289V287.0" stroke="#cbcbcb" stroke-width="0.87"/><path d="M634.6 289V286.1" stroke="#c2c2c2" stroke-width="1.44"/><path d="M205.8 289V288.4" stroke="#949494" stroke-width="0.93"/><path d="M1126.3 289V287.3" stroke="#c8c8c8" stroke-width="1.06"/><path d="M1020.9 289V287.9" stroke="#9d9d9d" stroke-width="1.34"/><path d="M1099.4 289V288.9" stroke="#b2b2b2" stroke-width="1.23"/><path d="M380.8 289V288.2" stroke="#959595" stroke-width="0.94"/><path d="M417.6 289V287.2" stroke="#b6b6b6" stroke-width="0.94"/><path d="M177.2 289V288.3" stroke="#b7b7b7" stroke-width="0.93"/><path d="M474.1 289V288.7" stroke="#bfbfbf" stroke-width="1.18"/><path d="M228.4 289V288.9" stroke="#a5a5a5" stroke-width="1.19"/><path d="M796.9 289V288.9" stroke="#979797" stroke-width="1.29"/><path d="M570.5 289V288.5" stroke="#a0a0a0" stroke-width="1.47"/><path d="M474.3 289V287.4" stroke="#a3a3a3" stroke-width="1.09"/><path d="M1019.0 289V285.0" stroke="#a3a3a3" stroke-width="0.94"/><path d="M884.6 289V288.7" stroke="#8d8d8d" stroke-width="1.43"/><path d="M584.2 289V286.1" stroke="#a6a6a6" stroke-width="1.42"/><path d="M620.9 289V288.8" stroke="#8d8d8d" stroke-width="1.19"/><path d="M798.3 289V285.6" stroke="#929292" stroke-width="1.24"/><path d="M532.0 289V287.7" stroke="#969696" stroke-width="1.00"/><path d="M680.4 289V285.5" stroke="#939393" stroke-width="1.14"/><path d="M960.4 289V285.2" stroke="#999999" stroke-width="0.89"/><path d="M1096.8 289V285.2" stroke="#ababab" stroke-width="0.84"/><path d="M1080.1 289V288.1" stroke="#c6c6c6" stroke-width="1.23"/><path d="M979.8 289V288.8" stroke="#bebebe" stroke-width="0.96"/><path d="M565.2 289V285.9" stroke="#c1c1c1" stroke-width="0.93"/><path d="M381.3 289V288.1" stroke="#adadad" stroke-width="1.07"/><path d="M287.5 289V288.6" stroke="#bababa" stroke-width="1.43"/><path d="M206.6 289V287.4" stroke="#bdbdbd" stroke-width="0.83"/><path d="M993.3 289V288.9" stroke="#b2b2b2" stroke-width="1.19"/><path d="M784.9 289V288.4" stroke="#a7a7a7" stroke-width="1.21"/><path d="M586.2 289V286.9" stroke="#a9a9a9" stroke-width="1.11"/><path d="M189.1 289V287.1" stroke="#ababab" stroke-width="0.96"/><path d="M919.6 289V286.3" stroke="#a9a9a9" stroke-width="0.93"/><path d="M633.1 289V288.9" stroke="#949494" stroke-width="1.10"/><path d="M256.5 289V287.9" stroke="#adadad" stroke-width="0.83"/><path d="M794.2 289V288.9" stroke="#bbbbbb" stroke-width="1.34"/><path d="M670.8 289V289.0" stroke="#acacac" stroke-width="1.06"/><path d="M1104.5 289V288.8" stroke="#c3c3c3" stroke-width="1.50"/><path d="M888.6 289V286.1" stroke="#999999" stroke-width="1.49"/><path d="M651.5 289V285.3" stroke="#c7c7c7" stroke-width="0.92"/><path d="M944.1 289V285.4" stroke="#909090" stroke-width="1.05"/><path d="M912.3 289V288.8" stroke="#c5c5c5" stroke-width="0.99"/><path d="M971.0 289V288.8" stroke="#acacac" stroke-width="1.44"/><path d="M371.6 289V288.5" stroke="#adadad" stroke-width="1.02"/><path d="M202.4 289V288.7" stroke="#979797" stroke-width="1.46"/><path d="M836.8 289V285.6" stroke="#979797" stroke-width="1.35"/><path d="M279.6 289V287.5" stroke="#b5b5b5" stroke-width="1.05"/><path d="M1027.6 289V287.4" stroke="#b1b1b1" stroke-width="1.42"/><path d="M269.2 289V285.0" stroke="#b4b4b4" stroke-width="1.08"/><path d="M953.3 289V288.5" stroke="#cbcbcb" stroke-width="1.20"/><path d="M521.6 289V286.4" stroke="#a8a8a8" stroke-width="0.92"/><path d="M899.9 289V289.0" stroke="#c1c1c1" stroke-width="0.98"/><path d="M796.9 289V285.1" stroke="#b2b2b2" stroke-width="1.26"/><path d="M474.6 289V289.0" stroke="#8e8e8e" stroke-width="0.90"/><path d="M774.0 289V288.0" stroke="#adadad" stroke-width="1.43"/><path d="M296.3 289V288.6" stroke="#b6b6b6" stroke-width="0.82"/><path d="M168.6 289V288.2" stroke="#939393" stroke-width="1.05"/><path d="M387.3 289V287.3" stroke="#b2b2b2" stroke-width="0.94"/><path d="M781.8 289V287.8" stroke="#959595" stroke-width="1.46"/><path d="M406.4 289V288.8" stroke="#929292" stroke-width="1.25"/><path d="M1026.0 289V286.3" stroke="#a6a6a6" stroke-width="0.98"/><path d="M177.3 289V287.0" stroke="#b0b0b0" stroke-width="1.05"/><path d="M803.2 289V287.9" stroke="#c8c8c8" stroke-width="1.31"/><path d="M411.3 289V285.6" stroke="#8f8f8f" stroke-width="1.17"/><path d="M566.7 289V288.6" stroke="#909090" stroke-width="1.35"/><path d="M178.2 289V287.5" stroke="#c8c8c8" stroke-width="0.90"/><path d="M362.9 289V287.2" stroke="#adadad" stroke-width="1.25"/><path d="M968.8 289V288.8" stroke="#a0a0a0" stroke-width="1.01"/><path d="M213.9 289V285.7" stroke="#bebebe" stroke-width="1.30"/><path d="M172.3 289V285.9" stroke="#bcbcbc" stroke-width="1.13"/><path d="M898.1 289V287.9" stroke="#9b9b9b" stroke-width="0.87"/><path d="M395.3 289V289.0" stroke="#a2a2a2" stroke-width="1.32"/><path d="M852.1 289V285.9" stroke="#bababa" stroke-width="0.99"/><path d="M712.6 289V287.9" stroke="#bfbfbf" stroke-width="1.17"/><path d="M427.8 289V287.0" stroke="#cacaca" stroke-width="0.95"/><path d="M1034.6 289V289.0" stroke="#9d9d9d" stroke-width="0.97"/><path d="M900.2 289V285.3" stroke="#bcbcbc" stroke-width="1.03"/><path d="M1034.7 289V288.3" stroke="#9b9b9b" stroke-width="1.44"/><path d="M788.5 289V286.8" stroke="#b7b7b7" stroke-width="1.49"/><path d="M629.4 289V286.0" stroke="#b9b9b9" stroke-width="1.40"/><path d="M597.5 289V286.6" stroke="#b1b1b1" stroke-width="1.02"/><path d="M375.2 289V287.1" stroke="#919191" stroke-width="1.44"/><path d="M308.7 289V289.0" stroke="#939393" stroke-width="1.45"/><path d="M506.4 289V288.8" stroke="#8e8e8e" stroke-width="0.83"/><path d="M849.6 289V287.1" stroke="#b9b9b9" stroke-width="1.32"/><path d="M230.9 289V287.3" stroke="#a3a3a3" stroke-width="1.37"/><path d="M974.9 289V285.7" stroke="#909090" stroke-width="1.41"/><path d="M1068.5 289V285.4" stroke="#939393" stroke-width="0.94"/><path d="M276.5 289V289.0" stroke="#c2c2c2" stroke-width="1.37"/><path d="M791.9 289V286.1" stroke="#b5b5b5" stroke-width="1.00"/><path d="M264.6 289V288.9" stroke="#bdbdbd" stroke-width="0.94"/><path d="M481.0 289V288.0" stroke="#8e8e8e" stroke-width="0.98"/><path d="M444.9 289V286.7" stroke="#a4a4a4" stroke-width="1.02"/><path d="M1117.5 289V287.7" stroke="#c3c3c3" stroke-width="1.23"/><path d="M196.6 289V288.0" stroke="#a8a8a8" stroke-width="1.34"/><path d="M508.3 289V286.7" stroke="#afafaf" stroke-width="0.95"/><path d="M1017.0 289V288.9" stroke="#c1c1c1" stroke-width="0.92"/><path d="M167.3 289V288.7" stroke="#bdbdbd" stroke-width="1.48"/><path d="M170.3 289V287.7" stroke="#acacac" stroke-width="1.36"/><path d="M348.1 289V287.7" stroke="#a2a2a2" stroke-width="1.38"/><path d="M423.2 289V285.4" stroke="#9e9e9e" stroke-width="0.95"/><path d="M856.4 289V287.7" stroke="#939393" stroke-width="1.25"/><path d="M245.8 289V286.3" stroke="#b9b9b9" stroke-width="1.35"/><path d="M785.8 289V288.2" stroke="#a6a6a6" stroke-width="1.08"/><path d="M1044.8 289V288.9" stroke="#c5c5c5" stroke-width="0.82"/><path d="M369.4 289V288.5" stroke="#c6c6c6" stroke-width="1.15"/><path d="M540.4 289V285.7" stroke="#9b9b9b" stroke-width="1.12"/><path d="M690.6 289V286.5" stroke="#bcbcbc" stroke-width="1.25"/><path d="M510.0 289V288.3" stroke="#969696" stroke-width="1.39"/><path d="M819.5 289V286.5" stroke="#979797" stroke-width="1.11"/><path d="M929.4 289V287.3" stroke="#949494" stroke-width="1.12"/><path d="M1039.6 289V288.6" stroke="#989898" stroke-width="1.01"/><path d="M860.0 289V286.0" stroke="#969696" stroke-width="0.91"/><path d="M410.4 289V288.3" stroke="#aeaeae" stroke-width="0.91"/><path d="M489.8 289V288.7" stroke="#cacaca" stroke-width="1.31"/><path d="M266.5 289V285.2" stroke="#939393" stroke-width="1.07"/><path d="M1137.0 289V286.2" stroke="#bbbbbb" stroke-width="1.10"/><path d="M359.6 289V287.1" stroke="#939393" stroke-width="0.94"/><path d="M549.3 289V289.0" stroke="#a6a6a6" stroke-width="1.35"/><path d="M850.4 289V287.7" stroke="#b5b5b5" stroke-width="1.12"/><path d="M306.0 289V287.2" stroke="#a6a6a6" stroke-width="1.32"/><path d="M1062.2 289V288.0" stroke="#b1b1b1" stroke-width="1.32"/><path d="M581.7 289V288.6" stroke="#bababa" stroke-width="1.42"/><path d="M930.0 289V286.7" stroke="#c3c3c3" stroke-width="1.28"/><path d="M799.2 289V287.9" stroke="#a0a0a0" stroke-width="1.24"/><path d="M262.6 289V288.0" stroke="#bebebe" stroke-width="1.30"/><path d="M787.4 289V288.6" stroke="#a7a7a7" stroke-width="1.12"/><path d="M779.5 289V288.0" stroke="#b7b7b7" stroke-width="1.45"/><path d="M346.7 289V287.0" stroke="#bebebe" stroke-width="1.07"/><path d="M649.5 289V285.2" stroke="#8f8f8f" stroke-width="1.18"/><path d="M324.8 289V286.3" stroke="#c8c8c8" stroke-width="1.16"/><path d="M265.8 289V287.4" stroke="#afafaf" stroke-width="1.30"/><path d="M671.5 289V287.0" stroke="#c1c1c1" stroke-width="1.17"/><path d="M571.0 289V285.3" stroke="#9a9a9a" stroke-width="1.28"/><path d="M553.4 289V286.4" stroke="#949494" stroke-width="1.49"/><path d="M516.9 289V289.0" stroke="#9e9e9e" stroke-width="1.08"/><path d="M179.1 289V288.0" stroke="#a7a7a7" stroke-width="1.29"/><path d="M513.5 289V288.5" stroke="#9b9b9b" stroke-width="1.32"/><path d="M1093.7 289V287.6" stroke="#9a9a9a" stroke-width="1.36"/><path d="M552.9 289V288.7" stroke="#949494" stroke-width="1.34"/><path d="M965.0 289V287.1" stroke="#aaaaaa" stroke-width="1.19"/><path d="M389.0 289V285.2" stroke="#a3a3a3" stroke-width="1.25"/><path d="M974.1 289V286.1" stroke="#aaaaaa" stroke-width="1.01"/><path d="M707.1 289V288.9" stroke="#c1c1c1" stroke-width="1.05"/><path d="M1005.6 289V288.5" stroke="#a4a4a4" stroke-width="0.98"/><path d="M586.6 289V288.7" stroke="#8c8c8c" stroke-width="1.31"/><path d="M443.6 289V288.6" stroke="#9f9f9f" stroke-width="1.14"/><path d="M588.9 289V287.1" stroke="#b6b6b6" stroke-width="1.05"/><path d="M1082.7 289V285.9" stroke="#909090" stroke-width="1.38"/><path d="M1060.0 289V286.3" stroke="#959595" stroke-width="1.38"/><path d="M790.9 289V289.0" stroke="#8d8d8d" stroke-width="1.47"/><path d="M813.4 289V288.6" stroke="#939393" stroke-width="0.90"/><path d="M396.6 289V286.3" stroke="#a2a2a2" stroke-width="0.91"/><path d="M1058.3 289V286.2" stroke="#979797" stroke-width="1.42"/><path d="M766.5 289V286.3" stroke="#b7b7b7" stroke-width="1.43"/><path d="M943.8 289V286.0" stroke="#999999" stroke-width="1.28"/><path d="M689.9 289V286.5" stroke="#a8a8a8" stroke-width="1.42"/><path d="M713.8 289V288.5" stroke="#9b9b9b" stroke-width="0.90"/><path d="M652.7 289V289.0" stroke="#aaaaaa" stroke-width="0.90"/><path d="M651.0 289V287.7" stroke="#afafaf" stroke-width="1.40"/><path d="M172.5 289V286.0" stroke="#aaaaaa" stroke-width="1.19"/><path d="M822.7 289V286.0" stroke="#a4a4a4" stroke-width="1.09"/><path d="M1114.1 289V288.9" stroke="#b5b5b5" stroke-width="1.25"/><path d="M194.2 289V287.2" stroke="#b8b8b8" stroke-width="1.45"/><path d="M492.2 289V285.1" stroke="#adadad" stroke-width="1.14"/><path d="M1051.9 289V289.0" stroke="#bababa" stroke-width="1.24"/><path d="M500.2 289V285.8" stroke="#a4a4a4" stroke-width="1.13"/><path d="M684.7 289V286.4" stroke="#9a9a9a" stroke-width="1.10"/><path d="M582.9 289V287.4" stroke="#c1c1c1" stroke-width="1.01"/><path d="M983.0 289V288.1" stroke="#acacac" stroke-width="0.99"/><path d="M665.8 289V285.2" stroke="#b6b6b6" stroke-width="1.35"/><path d="M492.6 289V288.4" stroke="#9f9f9f" stroke-width="1.21"/><path d="M792.6 289V286.3" stroke="#8f8f8f" stroke-width="1.31"/><path d="M1040.1 289V287.5" stroke="#8f8f8f" stroke-width="1.01"/><path d="M172.1 289V288.7" stroke="#c7c7c7" stroke-width="1.23"/><path d="M815.5 289V286.3" stroke="#c6c6c6" stroke-width="1.23"/><path d="M774.7 289V287.1" stroke="#b9b9b9" stroke-width="1.22"/><path d="M838.1 289V288.7" stroke="#b7b7b7" stroke-width="1.12"/><path d="M918.8 289V288.9" stroke="#989898" stroke-width="0.83"/><path d="M930.5 289V285.5" stroke="#b6b6b6" stroke-width="1.06"/><path d="M977.9 289V286.3" stroke="#b0b0b0" stroke-width="0.98"/><path d="M464.1 289V288.0" stroke="#a1a1a1" stroke-width="1.10"/><path d="M799.4 289V285.4" stroke="#909090" stroke-width="1.20"/><path d="M204.9 289V288.9" stroke="#c0c0c0" stroke-width="1.20"/><path d="M1072.7 289V287.9" stroke="#8d8d8d" stroke-width="1.07"/><path d="M750.3 289V285.4" stroke="#cbcbcb" stroke-width="1.13"/><path d="M573.1 289V288.9" stroke="#b5b5b5" stroke-width="0.95"/><path d="M315.8 289V289.0" stroke="#8d8d8d" stroke-width="1.28"/><path d="M286.1 289V285.2" stroke="#929292" stroke-width="1.41"/><path d="M293.3 289V289.0" stroke="#bababa" stroke-width="0.97"/><path d="M890.0 289V288.7" stroke="#8f8f8f" stroke-width="1.34"/><path d="M870.3 289V285.9" stroke="#bbbbbb" stroke-width="0.86"/><path d="M786.5 289V286.7" stroke="#aaaaaa" stroke-width="1.45"/><path d="M416.7 289V285.2" stroke="#bababa" stroke-width="0.81"/><path d="M180.5 289V287.0" stroke="#c0c0c0" stroke-width="0.86"/><path d="M473.0 289V286.6" stroke="#979797" stroke-width="1.40"/><path d="M646.0 289V289.0" stroke="#a4a4a4" stroke-width="1.20"/><path d="M599.0 289V286.9" stroke="#959595" stroke-width="1.36"/><path d="M524.5 289V287.0" stroke="#b4b4b4" stroke-width="1.09"/><path d="M546.7 289V286.3" stroke="#c8c8c8" stroke-width="1.35"/><path d="M725.4 289V288.4" stroke="#909090" stroke-width="1.48"/><path d="M860.1 289V286.0" stroke="#a1a1a1" stroke-width="1.22"/><path d="M1130.7 289V286.0" stroke="#b3b3b3" stroke-width="1.02"/><path d="M589.0 289V285.7" stroke="#a4a4a4" stroke-width="1.28"/><path d="M760.0 289V285.6" stroke="#c0c0c0" stroke-width="1.00"/><path d="M167.7 289V288.5" stroke="#a7a7a7" stroke-width="1.21"/><path d="M971.4 289V285.7" stroke="#8f8f8f" stroke-width="1.38"/><path d="M967.2 289V285.8" stroke="#b1b1b1" stroke-width="0.99"/><path d="M1006.1 289V286.2" stroke="#b8b8b8" stroke-width="1.44"/><path d="M508.3 289V288.9" stroke="#b0b0b0" stroke-width="1.36"/><path d="M363.8 289V286.5" stroke="#c8c8c8" stroke-width="0.96"/><path d="M765.0 289V286.9" stroke="#aaaaaa" stroke-width="0.94"/><path d="M417.4 289V286.5" stroke="#bfbfbf" stroke-width="1.12"/><path d="M252.6 289V286.2" stroke="#bdbdbd" stroke-width="0.96"/><path d="M738.1 289V285.6" stroke="#c5c5c5" stroke-width="1.17"/><path d="M636.4 289V287.3" stroke="#989898" stroke-width="0.93"/><path d="M344.3 289V286.7" stroke="#a3a3a3" stroke-width="1.20"/><path d="M563.3 289V287.6" stroke="#969696" stroke-width="0.83"/><path d="M1150.2 289V288.2" stroke="#939393" stroke-width="1.24"/><path d="M943.1 289V288.8" stroke="#b2b2b2" stroke-width="1.04"/><path d="M678.7 289V289.0" stroke="#8e8e8e" stroke-width="1.49"/><path d="M1020.8 289V287.7" stroke="#b0b0b0" stroke-width="0.98"/><path d="M935.1 289V288.0" stroke="#c9c9c9" stroke-width="1.34"/><path d="M974.2 289V285.2" stroke="#9c9c9c" stroke-width="0.83"/><path d="M364.4 289V288.7" stroke="#929292" stroke-width="0.84"/><path d="M716.1 289V285.8" stroke="#a9a9a9" stroke-width="1.46"/><path d="M1064.1 289V289.0" stroke="#b2b2b2" stroke-width="1.08"/><path d="M284.4 289V285.3" stroke="#9d9d9d" stroke-width="1.20"/><path d="M798.3 289V285.3" stroke="#b7b7b7" stroke-width="1.08"/><path d="M608.5 289V288.8" stroke="#cacaca" stroke-width="1.49"/><path d="M384.8 289V289.0" stroke="#9d9d9d" stroke-width="1.05"/><path d="M1057.0 289V285.6" stroke="#c2c2c2" stroke-width="0.83"/><path d="M942.2 289V286.7" stroke="#b5b5b5" stroke-width="1.49"/><path d="M221.0 289V288.8" stroke="#bcbcbc" stroke-width="1.46"/><path d="M834.1 289V288.4" stroke="#b2b2b2" stroke-width="1.33"/><path d="M270.0 289V288.3" stroke="#9d9d9d" stroke-width="0.89"/><path d="M641.1 289V288.8" stroke="#9b9b9b" stroke-width="0.90"/><path d="M834.8 289V289.0" stroke="#bababa" stroke-width="0.94"/><path d="M201.5 289V285.5" stroke="#9a9a9a" stroke-width="1.45"/><path d="M1021.5 289V285.7" stroke="#959595" stroke-width="1.11"/><path d="M261.7 289V285.4" stroke="#c2c2c2" stroke-width="1.24"/><path d="M612.5 289V288.3" stroke="#c1c1c1" stroke-width="1.13"/><path d="M786.0 289V288.8" stroke="#9a9a9a" stroke-width="0.84"/><path d="M870.4 289V287.4" stroke="#959595" stroke-width="1.41"/><path d="M428.9 289V288.0" stroke="#969696" stroke-width="0.99"/><path d="M994.6 289V288.3" stroke="#979797" stroke-width="1.14"/><path d="M479.9 289V285.6" stroke="#949494" stroke-width="1.49"/><path d="M222.1 289V285.7" stroke="#b7b7b7" stroke-width="0.95"/><path d="M637.2 289V288.5" stroke="#9d9d9d" stroke-width="0.94"/><path d="M525.5 289V285.1" stroke="#cccccc" stroke-width="1.45"/><path d="M262.3 289V288.4" stroke="#c5c5c5" stroke-width="0.84"/><path d="M883.0 289V288.4" stroke="#cbcbcb" stroke-width="0.81"/>
</g>
<g filter="url(#fin)"><rect x="165" y="367" width="989" height="161" fill="url(#gin)"/>
<path d="M165 427.3H1154" stroke="#454545" stroke-width="1.5"/>
<path d="M165 447.1H1154" stroke="#383838" stroke-width="1.3"/>
<path d="M165 467.6H1154" stroke="#3d3d3d" stroke-width="1.4"/>
<path d="M165 477.6H1154" stroke="#2b2b2b" stroke-width="1.0"/>
<path d="M165 488.0H1154" stroke="#545454" stroke-width="1.5"/>
<path d="M165 497.9H1154" stroke="#454545" stroke-width="1.0"/>
<path d="M165 507.8H1154" stroke="#737373" stroke-width="1.6"/>
<path d="M165 519.0H1154" stroke="#5c5c5c" stroke-width="1.0"/>
<path d="M165 413.0H1154" stroke="#1f1f1f" stroke-width="0.9"/>
<path d="M165 392.0H1154" stroke="#171717" stroke-width="0.8"/>
<path d="M597 409 Q631 409.9 665 412 M597 431 Q631 431.9 665 434 M597 453 Q631 453.9 665 456 M597 476 Q631 476.9 665 479 M597 498 Q631 498.9 665 501 M597 513 Q631 513.9 665 516 M470 440 Q498 440.9 525 443 M470 452 Q498 452.9 525 455 M470 476 Q498 476.9 525 479 M470 500 Q498 500.9 525 503 M930 420 Q970 421.5 1010 425 M930 432 Q970 433.5 1010 437 M930 446 Q970 447.5 1010 451 M930 458 Q970 459.5 1010 463 M930 471 Q970 472.5 1010 476 M930 484 Q970 485.5 1010 489 M930 497 Q970 498.5 1010 502 M930 509 Q970 510.5 1010 514" stroke="#333333" stroke-width="1.1" fill="none"/>
<path d="M688 391 Q716 393.4 745 399 M688 404 Q716 406.4 745 412 M688 418 Q716 420.4 745 426 M688 432 Q716 434.4 745 440 M688 447 Q716 449.4 745 455 M688 460 Q716 462.4 745 468 M688 474 Q716 476.4 745 482 M688 488 Q716 490.4 745 496 M688 501 Q716 503.4 745 509 M688 514 Q716 516.4 745 522" stroke="#404040" stroke-width="1.1" fill="none"/>
<path d="M579 385 C580 425 578 475 581 526 M591 395 C592 435 590 485 593 526 M967 400 C968 440 966 490 969 526 M975 415 C976 455 974 505 977 526" stroke="#383838" stroke-width="1.0" fill="none"/>
<path d="M572 408 Q580 410 590 420 M952 407 Q963 409 974 419 M571 421 Q580 423 590 433 M950 420 Q963 422 974 432 M568 432 Q580 434 590 444 M951 431 Q963 433 974 443 M571 442 Q580 444 590 454 M951 441 Q963 443 974 453 M569 454 Q580 456 590 466 M953 453 Q963 455 974 465 M572 464 Q580 466 590 476 M953 463 Q963 465 974 475 M571 477 Q580 479 590 489 M951 476 Q963 478 974 488 M568 488 Q580 490 590 500 M952 487 Q963 489 974 499 M572 499 Q580 501 590 511 M953 498 Q963 500 974 510 M570 511 Q580 513 590 523 M950 510 Q963 512 974 522" stroke="#404040" stroke-width="1.0" fill="none"/>
<path d="M512.8 526V519.2" stroke="#5c5c5c" stroke-width="0.50"/><path d="M514.1 526V512.4" stroke="#606060" stroke-width="0.72"/><path d="M518.3 526V522.7" stroke="#7d7d7d" stroke-width="0.57"/><path d="M479.5 526V501.0" stroke="#888888" stroke-width="0.60"/><path d="M474.2 526V525.2" stroke="#808080" stroke-width="0.75"/><path d="M484.5 526V523.0" stroke="#808080" stroke-width="0.85"/><path d="M513.0 526V510.0" stroke="#616161" stroke-width="0.53"/><path d="M508.8 526V516.9" stroke="#898989" stroke-width="0.53"/><path d="M513.0 526V519.4" stroke="#929292" stroke-width="0.93"/><path d="M496.1 526V526.0" stroke="#979797" stroke-width="0.74"/><path d="M516.2 526V521.4" stroke="#606060" stroke-width="0.92"/><path d="M489.5 526V523.9" stroke="#6e6e6e" stroke-width="0.80"/><path d="M470.2 526V512.7" stroke="#747474" stroke-width="0.76"/><path d="M476.4 526V503.8" stroke="#909090" stroke-width="0.93"/><path d="M487.0 526V504.0" stroke="#6f6f6f" stroke-width="0.88"/><path d="M473.2 526V495.4" stroke="#9b9b9b" stroke-width="0.75"/><path d="M497.2 526V512.2" stroke="#7b7b7b" stroke-width="0.51"/><path d="M521.3 526V522.5" stroke="#606060" stroke-width="0.55"/><path d="M483.3 526V498.5" stroke="#545454" stroke-width="0.55"/><path d="M507.0 526V523.2" stroke="#535353" stroke-width="0.80"/><path d="M500.6 526V512.5" stroke="#878787" stroke-width="0.55"/><path d="M516.1 526V503.7" stroke="#555555" stroke-width="0.56"/><path d="M496.2 526V513.4" stroke="#676767" stroke-width="0.56"/><path d="M491.5 526V524.4" stroke="#7f7f7f" stroke-width="0.93"/><path d="M477.8 526V510.4" stroke="#8b8b8b" stroke-width="0.58"/><path d="M513.8 526V491.7" stroke="#6f6f6f" stroke-width="0.71"/><path d="M514.5 526V512.4" stroke="#707070" stroke-width="0.97"/><path d="M511.2 526V519.3" stroke="#646464" stroke-width="0.67"/><path d="M493.1 526V489.1" stroke="#8f8f8f" stroke-width="0.96"/><path d="M513.2 526V496.8" stroke="#565656" stroke-width="0.76"/><path d="M520.8 526V491.9" stroke="#656565" stroke-width="0.71"/><path d="M503.5 526V518.4" stroke="#7a7a7a" stroke-width="0.53"/><path d="M493.0 526V513.3" stroke="#535353" stroke-width="0.57"/><path d="M521.4 526V500.6" stroke="#999999" stroke-width="0.82"/><path d="M512.9 526V494.8" stroke="#959595" stroke-width="0.52"/><path d="M504.0 526V521.4" stroke="#868686" stroke-width="0.64"/><path d="M498.7 526V492.5" stroke="#818181" stroke-width="0.63"/><path d="M497.6 526V516.0" stroke="#9a9a9a" stroke-width="0.64"/><path d="M486.2 526V507.0" stroke="#5b5b5b" stroke-width="0.80"/><path d="M520.7 526V512.9" stroke="#666666" stroke-width="0.73"/><path d="M498.3 526V524.2" stroke="#5b5b5b" stroke-width="0.57"/><path d="M485.6 526V517.0" stroke="#686868" stroke-width="0.62"/><path d="M474.7 526V511.6" stroke="#929292" stroke-width="0.80"/><path d="M500.2 526V506.9" stroke="#616161" stroke-width="0.86"/><path d="M494.4 526V511.5" stroke="#808080" stroke-width="0.73"/><path d="M486.5 526V522.1" stroke="#636363" stroke-width="0.76"/><path d="M490.3 526V509.9" stroke="#535353" stroke-width="0.68"/><path d="M515.7 526V522.2" stroke="#7c7c7c" stroke-width="0.75"/><path d="M485.1 526V488.8" stroke="#686868" stroke-width="0.89"/><path d="M478.4 526V525.5" stroke="#949494" stroke-width="0.72"/><path d="M473.3 526V517.6" stroke="#737373" stroke-width="0.87"/><path d="M475.8 526V522.5" stroke="#9b9b9b" stroke-width="0.87"/><path d="M478.2 526V519.3" stroke="#6d6d6d" stroke-width="0.84"/><path d="M502.7 526V496.7" stroke="#909090" stroke-width="0.76"/><path d="M509.2 526V502.4" stroke="#8c8c8c" stroke-width="0.74"/><path d="M511.6 526V504.1" stroke="#989898" stroke-width="0.56"/><path d="M516.2 526V526.0" stroke="#8c8c8c" stroke-width="0.79"/><path d="M496.4 526V490.2" stroke="#7d7d7d" stroke-width="0.71"/><path d="M511.5 526V495.4" stroke="#808080" stroke-width="0.69"/><path d="M494.0 526V515.1" stroke="#898989" stroke-width="0.65"/><path d="M490.7 526V511.2" stroke="#6f6f6f" stroke-width="0.66"/><path d="M511.7 526V496.7" stroke="#787878" stroke-width="0.72"/><path d="M479.8 526V520.3" stroke="#5d5d5d" stroke-width="0.79"/><path d="M500.8 526V525.2" stroke="#989898" stroke-width="0.66"/><path d="M514.7 526V497.4" stroke="#9b9b9b" stroke-width="0.60"/><path d="M492.6 526V493.3" stroke="#525252" stroke-width="0.52"/><path d="M499.9 526V513.6" stroke="#989898" stroke-width="0.89"/><path d="M498.5 526V488.1" stroke="#797979" stroke-width="0.76"/><path d="M506.3 526V517.6" stroke="#6d6d6d" stroke-width="0.80"/><path d="M488.6 526V491.1" stroke="#858585" stroke-width="0.76"/>
<path d="M564.0 526V520.6" stroke="#696969" stroke-width="0.78"/><path d="M583.0 526V504.8" stroke="#8a8a8a" stroke-width="0.74"/><path d="M577.6 526V513.8" stroke="#8c8c8c" stroke-width="0.67"/><path d="M581.2 526V507.2" stroke="#5c5c5c" stroke-width="0.66"/><path d="M599.1 526V506.9" stroke="#707070" stroke-width="0.56"/><path d="M595.8 526V511.6" stroke="#828282" stroke-width="1.00"/><path d="M595.5 526V519.5" stroke="#5b5b5b" stroke-width="0.64"/><path d="M580.5 526V517.3" stroke="#5d5d5d" stroke-width="0.59"/><path d="M585.2 526V514.4" stroke="#666666" stroke-width="1.00"/><path d="M585.5 526V525.8" stroke="#6a6a6a" stroke-width="0.89"/><path d="M572.3 526V511.6" stroke="#525252" stroke-width="0.65"/><path d="M593.7 526V514.9" stroke="#797979" stroke-width="0.60"/><path d="M579.9 526V515.9" stroke="#616161" stroke-width="0.82"/><path d="M581.3 526V500.1" stroke="#737373" stroke-width="0.71"/><path d="M564.9 526V524.7" stroke="#7e7e7e" stroke-width="0.55"/><path d="M564.0 526V524.5" stroke="#707070" stroke-width="0.91"/><path d="M584.5 526V507.6" stroke="#555555" stroke-width="0.51"/><path d="M590.8 526V521.7" stroke="#7c7c7c" stroke-width="0.68"/><path d="M566.8 526V522.9" stroke="#575757" stroke-width="0.95"/><path d="M583.3 526V521.2" stroke="#6c6c6c" stroke-width="0.69"/><path d="M562.2 526V504.4" stroke="#747474" stroke-width="0.98"/><path d="M577.6 526V513.9" stroke="#606060" stroke-width="0.52"/><path d="M597.2 526V505.8" stroke="#646464" stroke-width="0.95"/><path d="M592.6 526V522.1" stroke="#757575" stroke-width="0.98"/><path d="M579.8 526V502.1" stroke="#606060" stroke-width="0.69"/>
<path d="M960.5 526V521.9" stroke="#6c6c6c" stroke-width="0.94"/><path d="M946.0 526V494.3" stroke="#676767" stroke-width="0.59"/><path d="M938.2 526V522.9" stroke="#a6a6a6" stroke-width="0.65"/><path d="M950.8 526V524.6" stroke="#808080" stroke-width="0.69"/><path d="M941.0 526V525.4" stroke="#5c5c5c" stroke-width="0.91"/><path d="M937.8 526V521.2" stroke="#626262" stroke-width="0.64"/><path d="M930.7 526V525.8" stroke="#8b8b8b" stroke-width="0.67"/><path d="M925.7 526V499.7" stroke="#5a5a5a" stroke-width="0.63"/><path d="M967.8 526V524.3" stroke="#787878" stroke-width="0.92"/><path d="M965.9 526V523.6" stroke="#707070" stroke-width="0.86"/><path d="M939.4 526V483.0" stroke="#646464" stroke-width="0.98"/><path d="M947.3 526V521.7" stroke="#797979" stroke-width="0.57"/><path d="M959.8 526V520.6" stroke="#a0a0a0" stroke-width="0.79"/><path d="M938.8 526V521.1" stroke="#868686" stroke-width="0.61"/><path d="M970.1 526V524.4" stroke="#7e7e7e" stroke-width="0.77"/><path d="M932.8 526V495.6" stroke="#737373" stroke-width="0.83"/><path d="M951.2 526V518.9" stroke="#737373" stroke-width="0.54"/><path d="M927.0 526V490.5" stroke="#6d6d6d" stroke-width="0.83"/><path d="M922.8 526V507.7" stroke="#717171" stroke-width="0.75"/><path d="M934.4 526V525.4" stroke="#6d6d6d" stroke-width="0.61"/><path d="M923.8 526V499.0" stroke="#6a6a6a" stroke-width="0.70"/><path d="M972.4 526V495.4" stroke="#9e9e9e" stroke-width="0.93"/><path d="M924.2 526V520.1" stroke="#545454" stroke-width="0.84"/><path d="M957.1 526V517.4" stroke="#757575" stroke-width="0.83"/><path d="M959.4 526V521.0" stroke="#9b9b9b" stroke-width="0.68"/><path d="M955.0 526V523.0" stroke="#5c5c5c" stroke-width="0.96"/><path d="M961.5 526V499.3" stroke="#555555" stroke-width="0.52"/><path d="M926.0 526V522.6" stroke="#6c6c6c" stroke-width="0.69"/><path d="M918.4 526V518.9" stroke="#898989" stroke-width="0.59"/><path d="M968.0 526V507.3" stroke="#909090" stroke-width="0.63"/><path d="M943.0 526V500.9" stroke="#707070" stroke-width="0.50"/><path d="M967.7 526V495.3" stroke="#6a6a6a" stroke-width="0.52"/><path d="M969.0 526V505.3" stroke="#565656" stroke-width="0.62"/><path d="M922.9 526V494.4" stroke="#646464" stroke-width="0.96"/><path d="M962.5 526V525.1" stroke="#8e8e8e" stroke-width="0.70"/><path d="M962.3 526V491.9" stroke="#6a6a6a" stroke-width="0.54"/><path d="M974.7 526V514.3" stroke="#a2a2a2" stroke-width="0.85"/><path d="M961.8 526V491.9" stroke="#888888" stroke-width="0.73"/><path d="M919.4 526V500.1" stroke="#777777" stroke-width="0.76"/><path d="M973.5 526V524.3" stroke="#949494" stroke-width="0.52"/><path d="M959.6 526V493.4" stroke="#686868" stroke-width="0.77"/><path d="M976.1 526V503.6" stroke="#818181" stroke-width="0.62"/><path d="M919.7 526V517.1" stroke="#757575" stroke-width="0.60"/><path d="M935.3 526V524.1" stroke="#8f8f8f" stroke-width="0.84"/><path d="M930.7 526V521.3" stroke="#7e7e7e" stroke-width="0.72"/><path d="M974.0 526V517.4" stroke="#6c6c6c" stroke-width="0.94"/><path d="M924.8 526V507.6" stroke="#6f6f6f" stroke-width="0.91"/><path d="M950.0 526V496.3" stroke="#606060" stroke-width="0.83"/><path d="M953.1 526V512.7" stroke="#949494" stroke-width="0.92"/><path d="M923.1 526V519.7" stroke="#717171" stroke-width="0.60"/><path d="M919.7 526V520.0" stroke="#636363" stroke-width="0.85"/><path d="M943.8 526V524.6" stroke="#6e6e6e" stroke-width="0.73"/><path d="M938.5 526V523.3" stroke="#585858" stroke-width="0.51"/><path d="M977.5 526V496.9" stroke="#595959" stroke-width="0.86"/><path d="M976.8 526V507.6" stroke="#5b5b5b" stroke-width="0.74"/><path d="M942.9 526V522.8" stroke="#818181" stroke-width="0.50"/><path d="M973.0 526V503.2" stroke="#888888" stroke-width="0.97"/><path d="M956.5 526V520.9" stroke="#676767" stroke-width="0.57"/><path d="M917.7 526V495.4" stroke="#9a9a9a" stroke-width="0.65"/><path d="M927.5 526V503.6" stroke="#9b9b9b" stroke-width="0.96"/><path d="M926.4 526V494.8" stroke="#9a9a9a" stroke-width="0.87"/><path d="M936.3 526V522.9" stroke="#999999" stroke-width="0.66"/><path d="M938.8 526V508.3" stroke="#727272" stroke-width="0.92"/><path d="M930.8 526V525.7" stroke="#838383" stroke-width="0.81"/><path d="M966.8 526V499.7" stroke="#a0a0a0" stroke-width="0.97"/><path d="M946.7 526V510.8" stroke="#5f5f5f" stroke-width="0.65"/><path d="M952.0 526V525.2" stroke="#8d8d8d" stroke-width="0.58"/><path d="M943.5 526V482.2" stroke="#595959" stroke-width="0.52"/><path d="M943.2 526V522.8" stroke="#909090" stroke-width="0.50"/><path d="M968.1 526V490.2" stroke="#969696" stroke-width="0.71"/><path d="M933.6 526V502.2" stroke="#7e7e7e" stroke-width="0.71"/><path d="M937.0 526V513.7" stroke="#8b8b8b" stroke-width="0.91"/><path d="M972.0 526V523.4" stroke="#6b6b6b" stroke-width="0.72"/><path d="M950.9 526V517.5" stroke="#636363" stroke-width="0.54"/><path d="M936.1 526V512.7" stroke="#a6a6a6" stroke-width="0.95"/><path d="M969.7 526V481.9" stroke="#a5a5a5" stroke-width="0.81"/><path d="M966.3 526V525.5" stroke="#8c8c8c" stroke-width="0.80"/><path d="M934.4 526V507.2" stroke="#a4a4a4" stroke-width="0.74"/><path d="M956.1 526V519.3" stroke="#6f6f6f" stroke-width="0.94"/><path d="M917.7 526V522.8" stroke="#8c8c8c" stroke-width="0.72"/>
<path d="M614.3 526V520.3" stroke="#8a8a8a" stroke-width="0.89"/><path d="M630.8 526V522.0" stroke="#979797" stroke-width="0.80"/><path d="M615.7 526V525.3" stroke="#ababab" stroke-width="0.87"/><path d="M615.6 526V517.3" stroke="#838383" stroke-width="0.65"/><path d="M636.5 526V524.8" stroke="#929292" stroke-width="0.88"/><path d="M621.3 526V521.5" stroke="#7a7a7a" stroke-width="0.86"/><path d="M639.4 526V525.8" stroke="#8d8d8d" stroke-width="0.64"/><path d="M632.0 526V517.3" stroke="#969696" stroke-width="0.96"/>
<path d="M510.6 526V525.6" stroke="#eaeaea" stroke-width="1.03"/><path d="M477.2 526V515.6" stroke="#cccccc" stroke-width="0.70"/><path d="M521.0 526V520.4" stroke="#dfdfdf" stroke-width="0.68"/><path d="M511.6 526V525.9" stroke="#c4c4c4" stroke-width="0.82"/><path d="M472.8 526V519.9" stroke="#c2c2c2" stroke-width="0.78"/><path d="M508.1 526V522.4" stroke="#e5e5e5" stroke-width="0.97"/><path d="M516.5 526V520.4" stroke="#e6e6e6" stroke-width="1.12"/><path d="M480.6 526V517.3" stroke="#c9c9c9" stroke-width="1.06"/><path d="M506.7 526V515.7" stroke="#bebebe" stroke-width="0.82"/><path d="M509.6 526V513.1" stroke="#dcdcdc" stroke-width="0.63"/><path d="M502.8 526V525.7" stroke="#d4d4d4" stroke-width="1.08"/><path d="M477.8 526V513.6" stroke="#dadada" stroke-width="0.75"/><path d="M481.9 526V522.1" stroke="#e2e2e2" stroke-width="0.95"/><path d="M477.8 526V526.0" stroke="#bdbdbd" stroke-width="1.08"/><path d="M481.4 526V520.6" stroke="#c6c6c6" stroke-width="1.01"/><path d="M491.4 526V525.4" stroke="#e4e4e4" stroke-width="0.92"/><path d="M507.2 526V516.0" stroke="#e8e8e8" stroke-width="0.61"/><path d="M489.5 526V525.3" stroke="#d1d1d1" stroke-width="1.12"/><path d="M512.8 526V525.9" stroke="#c1c1c1" stroke-width="1.09"/><path d="M506.7 526V522.9" stroke="#d0d0d0" stroke-width="0.69"/><path d="M515.1 526V522.9" stroke="#e4e4e4" stroke-width="0.97"/><path d="M475.9 526V523.6" stroke="#c3c3c3" stroke-width="1.14"/><path d="M502.1 526V525.9" stroke="#c0c0c0" stroke-width="0.82"/><path d="M495.9 526V520.2" stroke="#cbcbcb" stroke-width="0.81"/><path d="M472.3 526V520.2" stroke="#c9c9c9" stroke-width="0.61"/>
<path d="M944.2 526V510.3" stroke="#bababa" stroke-width="0.69"/><path d="M956.2 526V524.0" stroke="#c6c6c6" stroke-width="0.90"/><path d="M932.9 526V519.5" stroke="#d3d3d3" stroke-width="1.17"/><path d="M974.6 526V525.9" stroke="#d4d4d4" stroke-width="1.06"/><path d="M967.7 526V515.4" stroke="#d8d8d8" stroke-width="0.98"/><path d="M938.7 526V523.9" stroke="#e0e0e0" stroke-width="1.12"/><path d="M971.5 526V517.3" stroke="#c7c7c7" stroke-width="1.06"/><path d="M960.2 526V520.6" stroke="#d8d8d8" stroke-width="0.81"/><path d="M949.4 526V522.2" stroke="#bbbbbb" stroke-width="0.80"/><path d="M936.4 526V510.3" stroke="#d0d0d0" stroke-width="0.82"/><path d="M931.9 526V524.4" stroke="#c9c9c9" stroke-width="0.68"/><path d="M918.4 526V513.2" stroke="#cfcfcf" stroke-width="0.87"/><path d="M950.4 526V523.6" stroke="#c0c0c0" stroke-width="0.64"/><path d="M935.2 526V523.6" stroke="#dddddd" stroke-width="0.93"/><path d="M971.4 526V523.1" stroke="#e7e7e7" stroke-width="0.95"/><path d="M922.6 526V525.0" stroke="#d5d5d5" stroke-width="1.19"/><path d="M938.3 526V515.4" stroke="#cdcdcd" stroke-width="1.12"/><path d="M921.9 526V521.0" stroke="#e5e5e5" stroke-width="0.77"/><path d="M932.7 526V526.0" stroke="#c0c0c0" stroke-width="0.76"/><path d="M958.2 526V524.6" stroke="#cccccc" stroke-width="0.72"/><path d="M952.4 526V513.3" stroke="#d9d9d9" stroke-width="0.72"/><path d="M959.8 526V510.9" stroke="#d6d6d6" stroke-width="0.65"/><path d="M964.1 526V513.1" stroke="#c9c9c9" stroke-width="0.68"/><path d="M928.7 526V520.1" stroke="#e4e4e4" stroke-width="0.98"/><path d="M970.6 526V524.7" stroke="#c8c8c8" stroke-width="1.05"/><path d="M955.0 526V522.2" stroke="#dadada" stroke-width="0.80"/><path d="M921.3 526V522.1" stroke="#bababa" stroke-width="0.98"/><path d="M937.1 526V520.8" stroke="#d6d6d6" stroke-width="0.75"/><path d="M944.4 526V526.0" stroke="#e7e7e7" stroke-width="0.94"/><path d="M974.3 526V525.8" stroke="#d7d7d7" stroke-width="1.03"/><path d="M936.8 526V525.6" stroke="#c0c0c0" stroke-width="0.69"/><path d="M961.7 526V525.7" stroke="#e1e1e1" stroke-width="0.85"/><path d="M948.7 526V519.1" stroke="#d4d4d4" stroke-width="0.99"/><path d="M952.3 526V523.3" stroke="#dddddd" stroke-width="0.75"/><path d="M958.6 526V515.6" stroke="#dfdfdf" stroke-width="0.79"/>
<path d="M626 527 q4 -9 8 0 Z M659 527 q3 -5 6 0 Z" fill="#d9d9d9"/>
</g>
<path d="M165 290.4H1154" stroke="#f3b938" stroke-width="2.8"/>
<path d="M165 527H1154" stroke="#f5bd38" stroke-width="2"/>
<rect x="525" y="133" width="10.3" height="157.5" fill="#3d2aa0"/>
<rect x="684.2" y="133" width="2.2" height="157.5" fill="#3d2aa0"/>
<rect x="525" y="367" width="10.3" height="160.5" fill="#3d2aa0"/>
<rect x="684.2" y="367" width="2.2" height="160.5" fill="#3d2aa0"/>
<path d="M165 292.5H1154M165 528.5H1154" stroke="#262626" stroke-width="1"/>
<text x="156.20" y="139.50" font-size="21.00" text-anchor="end" fill="#262626" textLength="25.45" lengthAdjust="spacingAndGlyphs">80</text>
<text x="156.20" y="179.25" font-size="21.00" text-anchor="end" fill="#262626" textLength="25.45" lengthAdjust="spacingAndGlyphs">60</text>
<text x="156.20" y="219.00" font-size="21.00" text-anchor="end" fill="#262626" textLength="25.45" lengthAdjust="spacingAndGlyphs">40</text>
<text x="156.20" y="258.75" font-size="21.00" text-anchor="end" fill="#262626" textLength="25.45" lengthAdjust="spacingAndGlyphs">20</text>
<text x="156.20" y="298.50" font-size="21.00" text-anchor="end" fill="#262626" textLength="12.72" lengthAdjust="spacingAndGlyphs">0</text>
<text x="156.20" y="373.50" font-size="21.00" text-anchor="end" fill="#262626" textLength="25.45" lengthAdjust="spacingAndGlyphs">80</text>
<text x="156.20" y="413.75" font-size="21.00" text-anchor="end" fill="#262626" textLength="25.45" lengthAdjust="spacingAndGlyphs">60</text>
<text x="156.20" y="454.00" font-size="21.00" text-anchor="end" fill="#262626" textLength="25.45" lengthAdjust="spacingAndGlyphs">40</text>
<text x="156.20" y="494.25" font-size="21.00" text-anchor="end" fill="#262626" textLength="25.45" lengthAdjust="spacingAndGlyphs">20</text>
<text x="156.20" y="534.50" font-size="21.00" text-anchor="end" fill="#262626" textLength="12.72" lengthAdjust="spacingAndGlyphs">0</text>
<g transform="translate(91.90 212.60) rotate(-90)" font-size="19.60" font-weight="bold" fill="#262626"><text x="-89.25" y="0" textLength="99.45" lengthAdjust="spacingAndGlyphs">Outboard</text><text x="16.70" y="0" textLength="72.55" lengthAdjust="spacingAndGlyphs">Sensor</text></g>
<g transform="translate(117.90 212.60) rotate(-90)" font-size="19.60" font-weight="bold" fill="#262626"><text x="-80.27" y="0" textLength="110.47" lengthAdjust="spacingAndGlyphs">Frequency</text><text x="36.71" y="0" textLength="43.56" lengthAdjust="spacingAndGlyphs">(Hz)</text></g>
<g transform="translate(92.20 448.20) rotate(-90)" font-size="19.60" font-weight="bold" fill="#262626"><text x="-80.33" y="0" textLength="81.60" lengthAdjust="spacingAndGlyphs">Inboard</text><text x="7.78" y="0" textLength="72.55" lengthAdjust="spacingAndGlyphs">Sensor</text></g>
<g transform="translate(117.80 448.20) rotate(-90)" font-size="19.60" font-weight="bold" fill="#262626"><text x="-80.27" y="0" textLength="110.47" lengthAdjust="spacingAndGlyphs">Frequency</text><text x="36.71" y="0" textLength="43.56" lengthAdjust="spacingAndGlyphs">(Hz)</text></g>
<rect x="1225.5" y="118.5" width="32" height="399" fill="url(#parula)" stroke="#262626" stroke-width="1"/>
<text x="1217.60" y="123.60" font-size="14.60" font-weight="bold" text-anchor="end" fill="#262626" textLength="19.34" lengthAdjust="spacingAndGlyphs">10</text>
<text x="1217.60" y="180.60" font-size="14.60" font-weight="bold" text-anchor="end" fill="#262626" textLength="9.67" lengthAdjust="spacingAndGlyphs">5</text>
<text x="1217.60" y="237.60" font-size="14.60" font-weight="bold" text-anchor="end" fill="#262626" textLength="9.67" lengthAdjust="spacingAndGlyphs">0</text>
<text x="1217.60" y="294.60" font-size="14.60" font-weight="bold" text-anchor="end" fill="#262626" textLength="15.44" lengthAdjust="spacingAndGlyphs">-5</text>
<text x="1217.60" y="351.60" font-size="14.60" font-weight="bold" text-anchor="end" fill="#262626" textLength="25.11" lengthAdjust="spacingAndGlyphs">-10</text>
<text x="1217.60" y="408.60" font-size="14.60" font-weight="bold" text-anchor="end" fill="#262626" textLength="25.11" lengthAdjust="spacingAndGlyphs">-15</text>
<text x="1217.60" y="465.60" font-size="14.60" font-weight="bold" text-anchor="end" fill="#262626" textLength="25.11" lengthAdjust="spacingAndGlyphs">-20</text>
<text x="1217.60" y="522.60" font-size="14.60" font-weight="bold" text-anchor="end" fill="#262626" textLength="25.11" lengthAdjust="spacingAndGlyphs">-25</text>
<path d="M1225.5 175.5h4.5M1225.5 232.5h4.5M1225.5 289.5h4.5M1225.5 346.5h4.5M1225.5 403.5h4.5M1225.5 460.5h4.5" stroke="#262626" stroke-width="1"/>
<text x="1174.20" y="379.60" font-size="15.40" font-weight="bold" fill="#262626" textLength="29.93" lengthAdjust="spacingAndGlyphs" transform="rotate(-90 1174.20 379.60)">Log</text>
<text x="1179.60" y="349.40" font-size="12.81" font-weight="bold" fill="#262626" textLength="16.98" lengthAdjust="spacingAndGlyphs" transform="rotate(-90 1179.60 349.40)">10</text>
<text x="1174.20" y="327.40" font-size="15.40" font-weight="bold" fill="#262626" textLength="27.16" lengthAdjust="spacingAndGlyphs" transform="rotate(-90 1174.20 327.40)">(nT</text>
<text x="1166.60" y="299.60" font-size="11.55" font-weight="bold" fill="#262626" textLength="7.65" lengthAdjust="spacingAndGlyphs" transform="rotate(-90 1166.60 299.60)">2</text>
<text x="1174.20" y="292.20" font-size="15.40" font-weight="bold" fill="#262626" textLength="32.88" lengthAdjust="spacingAndGlyphs" transform="rotate(-90 1174.20 292.20)">/Hz)</text>
<path d="M165 608.5H1155M165 654.5H1155M165 699.5H1155M165 745.5H1155M173.5 603V763M460.5 603V763M747.5 603V763M1034.5 603V763" stroke="#dfdfdf" stroke-width="1" fill="none"/>
<g clip-path="url(#tfclip)"><path d="M165.5 729.3 167.5 730.6 169.5 731.9 171.5 733.1 173.5 734.4 175.5 735.6 177.5 736.7 179.5 737.9 181.5 739 183.5 740.1 185.5 741.2 187.5 742.2 189.5 743.2 191.5 744.2 193.5 745.2 195.5 746.1 197.5 747 199.5 747.9 201.5 748.8 203.5 749.6 205.5 750.4 207.5 751.2 209.5 751.9 211.5 752.6 213.5 753.3 215.5 754 217.5 754.6 219.5 755.2 221.5 755.8 223.5 756.4 225.5 756.9 227.5 757.4 229.5 757.9 231.5 758.4 233.5 758.8 235.5 759.2 237.5 759.6 239.5 759.9 241.5 760.3 243.5 760.6 245.5 760.8 247.5 761.1 249.5 761.3 251.5 761.5 253.5 761.7 255.5 761.8 257.5 761.9 259.5 762 261.5 762.1 263.5 762.2 265.5 762.2 267.5 762.2 269.5 762.1 271.5 762.1 273.5 762 275.5 761.9 277.5 761.8 279.5 761.6 281.5 761.4 283.5 761.2 285.5 761 287.5 760.7 289.5 760.5 291.5 760.1 293.5 759.8 295.5 759.5 297.5 759.1 299.5 758.7 301.5 758.3 303.5 757.8 305.5 757.4 307.5 756.9 309.5 756.4 311.5 755.9 313.5 755.3 315.5 754.8 317.5 754.2 319.5 753.6 321.5 753 323.5 752.4 325.5 751.8 327.5 751.1 329.5 750.5 331.5 749.8 333.5 749.1 335.5 748.4 337.5 747.7 339.5 747 341.5 746.3 343.5 745.6 345.5 744.9 347.5 744.2 349.5 743.4 351.5 742.7 353.5 741.9 355.5 741.2 357.5 740.5 359.5 739.7 361.5 739 363.5 738.2 365.5 737.5 367.5 736.7 369.5 736 371.5 735.2 373.5 734.5 375.5 733.8 377.5 733.1 379.5 732.3 381.5 731.6 383.5 730.9 385.5 730.2 387.5 729.5 389.5 728.8 391.5 728.2 393.5 727.5 395.5 726.8 397.5 726.2 399.5 725.5 401.5 724.9 403.5 724.2 405.5 723.6 407.5 723 409.5 722.4 411.5 721.7 413.5 721.1 415.5 720.5 417.5 719.9 419.5 719.4 421.5 718.8 423.5 718.2 425.5 717.6 427.5 717.1 429.5 716.5 431.5 716 433.5 715.4 435.5 714.9 437.5 714.4 439.5 713.8 441.5 713.3 443.5 712.8 445.5 712.3 447.5 711.8 449.5 711.3 451.5 710.8 453.5 710.3 455.5 709.8 457.5 709.4 459.5 708.9 461.5 708.4 463.5 708 465.5 707.5 467.5 707.1 469.5 706.7 471.5 706.2 473.5 705.8 475.5 705.4 477.5 705 479.5 704.6 481.5 704.2 483.5 703.8 485.5 703.4 487.5 703 489.5 702.6 491.5 702.2 493.5 701.9 495.5 701.5 497.5 701.1 499.5 700.8 501.5 700.4 503.5 700.1 505.5 699.8 507.5 699.4 509.5 699.1 511.5 698.8 513.5 698.5 515.5 698.1 517.5 697.8 519.5 697.5 521.5 697.2 523.5 696.9 525.5 696.7 527.5 696.4 529.5 696.1 531.5 695.8 533.5 695.6 535.5 695.3 537.5 695 539.5 694.8 541.5 694.5 543.5 694.3 545.5 694.1 547.5 693.8 549.5 693.6 551.5 693.4 553.5 693.2 555.5 692.9 557.5 692.7 559.5 692.5 561.5 692.3 563.5 692.1 565.5 692 567.5 691.8 569.5 691.6 571.5 691.4 573.5 691.3 575.5 691.1 577.5 690.9 579.5 690.8 581.5 690.6 583.5 690.5 585.5 690.4 587.5 690.2 589.5 690.1 591.5 690 593.5 689.9 595.5 689.8 597.5 689.7 599.5 689.6 601.5 689.5 603.5 689.4 605.5 689.3 607.5 689.2 609.5 689.2 611.5 689.1 613.5 689 615.5 689 617.5 688.9 619.5 688.9 621.5 688.9 623.5 688.8 625.5 688.8 627.5 688.8 629.5 688.8 631.5 688.7 633.5 688.7 635.5 688.7 637.5 688.8 639.5 688.8 641.5 688.8 643.5 688.8 645.5 688.8 647.5 688.9 649.5 688.9 651.5 689 653.5 689 655.5 689.1 657.5 689.1 659.5 689.2 661.5 689.3 663.5 689.4 665.5 689.5 667.5 689.6 669.5 689.7 671.5 689.8 673.5 689.9 675.5 690 677.5 690.1 679.5 690.2 681.5 690.4 683.5 690.5 685.5 690.7 687.5 690.8 689.5 691 691.5 691.2 693.5 691.3 695.5 691.5 697.5 691.7 699.5 691.9 701.5 692.1 703.5 692.3 705.5 692.5 707.5 692.7 709.5 692.8 711.5 693 713.5 693.1 715.5 693.2 717.5 693.3 719.5 693.4 721.5 693.4 723.5 693.3 725.5 693.2 727.5 693.1 729.5 692.9 731.5 692.7 733.5 692.3 735.5 691.9 737.5 691.5 739.5 690.9 741.5 690.3 743.5 689.6 745.5 688.9 747.5 688.1 749.5 687.2 751.5 686.2 753.5 685.2 755.5 684.1 757.5 682.9 759.5 681.7 761.5 680.4 763.5 679 765.5 677.5 767.5 676 769.5 674.4 771.5 672.8 773.5 671.1 775.5 669.4 777.5 667.6 779.5 665.8 781.5 664 783.5 662.1 785.5 660.2 787.5 658.3 789.5 656.4 791.5 654.4 793.5 652.5 795.5 650.5 797.5 648.6 799.5 646.6 801.5 644.7 803.5 642.8 805.5 640.9 807.5 639.1 809.5 637.2 811.5 635.4 813.5 633.7 815.5 632 817.5 630.3 819.5 628.7 821.5 627.1 823.5 625.6 825.5 624.1 827.5 622.6 829.5 621.3 831.5 619.9 833.5 618.6 835.5 617.4 837.5 616.2 839.5 615 841.5 613.9 843.5 612.9 845.5 611.9 847.5 611 849.5 610.1 851.5 609.3 853.5 608.5 855.5 607.8 857.5 607.1 859.5 606.5 861.5 606 863.5 605.5 865.5 605 867.5 604.6 869.5 604.3 871.5 604.1 873.5 603.9 875.5 603.7 877.5 603.7 879.5 603.7 881.5 603.7 883.5 603.8 885.5 604 887.5 604.2 889.5 604.4 891.5 604.7 893.5 605.1 895.5 605.4 897.5 605.9 899.5 606.3 901.5 606.8 903.5 607.3 905.5 607.9 907.5 608.5 909.5 609.1 911.5 609.7 913.5 610.4 915.5 611 917.5 611.7 919.5 612.4 921.5 613.1 923.5 613.8 925.5 614.5 927.5 615.2 929.5 615.9 931.5 616.6 933.5 617.3 935.5 618 937.5 618.7 939.5 619.4 941.5 620 943.5 620.7 945.5 621.4 947.5 622 949.5 622.6 951.5 623.3 953.5 623.9 955.5 624.6 957.5 625.2 959.5 625.9 961.5 626.5 963.5 627.2 965.5 627.9 967.5 628.5 969.5 629.2 971.5 629.9 973.5 630.6 975.5 631.3 977.5 632 979.5 632.8 981.5 633.5 983.5 634.3 985.5 635.1 987.5 635.9 989.5 636.7 991.5 637.5 993.5 638.4 995.5 639.3 997.5 640.2 999.5 641.1 1001.5 642.1 1003.5 643.1 1005.5 644.1 1007.5 645.2 1009.5 646.3 1011.5 647.4 1013.5 648.5 1015.5 649.7 1017.5 650.9 1019.5 652.2 1021.5 653.5 1023.5 654.8 1025.5 656.1 1027.5 657.5 1029.5 658.9 1031.5 660.3 1033.5 661.8 1035.5 663.3 1037.5 664.8 1039.5 666.3 1041.5 667.9 1043.5 669.4 1045.5 671 1047.5 672.6 1049.5 674.2 1051.5 675.8 1053.5 677.5 1055.5 679.1 1057.5 680.7 1059.5 682.4 1061.5 684.1 1063.5 685.7 1065.5 687.4 1067.5 689.1 1069.5 690.7 1071.5 692.4 1073.5 694.1 1075.5 695.7 1077.5 697.4 1079.5 699 1081.5 700.7 1083.5 702.3 1085.5 703.9 1087.5 705.6 1089.5 707.2 1091.5 708.8 1093.5 710.3 1095.5 711.9 1097.5 713.4 1099.5 715 1101.5 716.5 1103.5 717.9 1105.5 719.4 1107.5 720.8 1109.5 722.2 1111.5 723.6 1113.5 725 1115.5 726.3 1117.5 727.6 1119.5 728.9 1121.5 730.1 1123.5 731.3 1125.5 732.5 1127.5 733.6 1129.5 734.7 1131.5 735.8 1133.5 736.8 1135.5 737.8 1137.5 738.7 1139.5 739.6 1141.5 740.5 1143.5 741.3 1145.5 742 1147.5 742.7 1149.5 743.4 1151.5 744 1153.5 744.5 1154.5 744.8" stroke="#d81c08" stroke-width="1.8" fill="none"/><path d="M165.5 729.3 167.5 730.6 169.5 731.9 171.5 733.1 173.5 734.4 175.5 735.6 177.5 736.7 179.5 737.9 181.5 739 183.5 740.1 185.5 741.2 187.5 742.2 189.5 743.2 191.5 744.2 193.5 745.2 195.5 746.1 197.5 747 199.5 747.9 201.5 748.8 203.5 749.6 205.5 750.4 207.5 751.2 209.5 751.9 211.5 752.6 213.5 753.3 215.5 754 217.5 754.6 219.5 755.2 221.5 755.8 223.5 756.4 225.5 756.9 227.5 757.4 229.5 757.9 231.5 758.4 233.5 758.8 235.5 759.2 237.5 759.6 239.5 759.9 241.5 760.3 243.5 760.6 245.5 760.8 247.5 761.1 249.5 761.3 251.5 761.5 253.5 761.7 255.5 761.8 257.5 761.9 259.5 762 261.5 762.1 263.5 762.2 265.5 762.2 267.5 762.2 269.5 762.1 271.5 762.1 273.5 762 275.5 761.9 277.5 761.8 279.5 761.6 281.5 761.4 283.5 761.2 285.5 761 287.5 760.7 289.5 760.5 291.5 760.1 293.5 759.8 295.5 759.5 297.5 759.1 299.5 758.7 301.5 758.3 303.5 757.8 305.5 757.4 307.5 756.9 309.5 756.4 311.5 755.9 313.5 755.3 315.5 754.8 317.5 754.2 319.5 753.6 321.5 753 323.5 752.4 325.5 751.8 327.5 751.1 329.5 750.5 331.5 749.8 333.5 749.1 335.5 748.4 337.5 747.7 339.5 747 341.5 746.3 343.5 745.6 345.5 744.9 347.5 744.2 349.5 743.4 351.5 742.7 353.5 741.9 355.5 741.2 357.5 740.5 359.5 739.7 361.5 739 363.5 738.2 365.5 737.5 367.5 736.7 369.5 736 371.5 735.2 373.5 734.5 375.5 733.8 377.5 733.1 379.5 732.3 381.5 731.6 383.5 730.9 385.5 730.2 387.5 729.5 389.5 728.8 391.5 728.2 393.5 727.5 395.5 726.8 397.5 726.2 399.5 725.5 401.5 724.9 403.5 724.2 405.5 723.6 407.5 723 409.5 722.4 411.5 721.7 413.5 721.1 415.5 720.5 417.5 719.9 419.5 719.4 421.5 718.8 423.5 718.2 425.5 717.6 427.5 717.1 429.5 716.5 431.5 716 433.5 715.4 435.5 714.9 437.5 714.4 439.5 713.8 441.5 713.3 443.5 712.8 445.5 712.3 447.5 711.8 449.5 711.3 451.5 710.8 453.5 710.3 455.5 709.8 457.5 709.4 459.5 708.9 461.5 708.4 463.5 708 465.5 707.5 467.5 707.1 469.5 706.7 471.5 706.2 473.5 705.8 475.5 705.4 477.5 705 479.5 704.6 481.5 704.2 483.5 703.8 485.5 703.4 487.5 703 489.5 702.6 491.5 702.2 493.5 701.9 495.5 701.5 497.5 701.1 499.5 700.8 501.5 700.4 503.5 700.1 505.5 699.8 507.5 699.4 509.5 699.1 511.5 698.8 513.5 698.5 515.5 698.1 517.5 697.8 519.5 697.5 521.5 697.2 523.5 696.9 525.5 696.7 527.5 696.4 529.5 696.1 531.5 695.8 533.5 695.6 535.5 695.3 537.5 695 539.5 694.8 541.5 694.5 543.5 694.3 545.5 694.1 547.5 693.8 549.5 693.6 551.5 693.4 553.5 693.2 555.5 692.9 557.5 692.7 559.5 692.5 561.5 692.3 563.5 692.1 565.5 692 567.5 691.8 569.5 691.6 571.5 691.4 573.5 691.3 575.5 691.1 577.5 690.9 579.5 690.8 581.5 690.6 583.5 690.5 585.5 690.4 587.5 690.2 589.5 690.1 591.5 690 593.5 689.9 595.5 689.8 597.5 689.7 599.5 689.6 601.5 689.5 603.5 689.4 605.5 689.3 607.5 689.2 609.5 689.2 611.5 689.1 613.5 689 615.5 689 617.5 688.9 619.5 688.9 621.5 688.9 623.5 688.8 625.5 688.8 627.5 688.8 629.5 688.8 631.5 688.7 633.5 688.7 635.5 688.7 637.5 688.8 639.5 688.8 641.5 688.8 643.5 688.8 645.5 688.8 647.5 688.9 649.5 688.9 651.5 689 653.5 689 655.5 689.1 657.5 689.1 659.5 689.2 661.5 689.3 663.5 689.4 665.5 689.5 667.5 689.6 669.5 689.7 671.5 689.8 673.5 689.9 675.5 690 677.5 690.1 679.5 690.2 681.5 690.4 683.5 690.5 685.5 690.7 687.5 690.8 689.5 691 691.5 691.2 693.5 691.3 695.5 691.5 697.5 691.7 699.5 691.9 701.5 692.1 703.5 692.3 705.5 692.5 707.5 692.7 709.5 692.8 711.5 693 713.5 693.1 715.5 693.2 717.5 693.3 719.5 693.4 721.5 693.4 723.5 693.3 725.5 693.2 727.5 693.1 729.5 692.9 731.5 692.7 733.5 692.3 735.5 691.9 737.5 691.5 739.5 690.9 741.5 690.3 743.5 689.6 745.5 688.9 747.5 688.1 749.5 687.2 751.5 686.2 753.5 685.2 755.5 684.1 757.5 682.9 759.5 681.7 761.5 680.4 763.5 679 765.5 677.5 767.5 676 769.5 674.4 771.5 672.8 773.5 671.1 775.5 669.4 777.5 667.6 779.5 665.8 781.5 664 783.5 662.1 785.5 660.2 787.5 658.3 789.5 656.4 791.5 654.4 793.5 652.5 795.5 650.5 797.5 648.6 799.5 646.6 801.5 644.7 803.5 642.8 805.5 640.9 807.5 639.1 809.5 637.2 811.5 635.4 813.5 633.7 815.5 632 817.5 630.3 819.5 628.7 821.5 627.1 823.5 625.6 825.5 624.1 827.5 622.6 829.5 621.3 831.5 619.9 833.5 618.6 835.5 617.4 837.5 616.2 839.5 615 841.5 613.9 843.5 612.9 845.5 611.9 847.5 611 849.5 610.1 851.5 609.3 853.5 608.5 855.5 607.8 857.5 607.1 859.5 606.5 861.5 606 863.5 605.5 865.5 605 867.5 604.6 869.5 604.3 871.5 604.1 873.5 603.9 875.5 603.7 877.5 603.7 879.5 603.7 881.5 603.7 883.5 603.8 885.5 604 887.5 604.2 889.5 604.4 891.5 604.7 893.5 605.1 895.5 605.4 897.5 605.9 899.5 606.3 901.5 606.8 903.5 607.3 905.5 607.9 907.5 608.5 909.5 609.1 911.5 609.7 913.5 610.4 915.5 611 917.5 611.7 919.5 612.4 921.5 613.1 923.5 613.8 925.5 614.5 927.5 615.2 929.5 615.9 931.5 616.6 933.5 617.3 935.5 618 937.5 618.7 939.5 619.4 941.5 620 943.5 620.7 945.5 621.4 947.5 622 949.5 622.6 951.5 623.3 953.5 623.9 955.5 624.6 957.5 625.2 959.5 625.9 961.5 626.5 963.5 627.2 965.5 627.9 967.5 628.5 969.5 629.2 971.5 629.9 973.5 630.6 975.5 631.3 977.5 632 979.5 632.8 981.5 633.5 983.5 634.3 985.5 635.1 987.5 635.9 989.5 636.7 991.5 637.5 993.5 638.4 995.5 639.3 997.5 640.2 999.5 641.1 1001.5 642.1 1003.5 643.1 1005.5 644.1 1007.5 645.2 1009.5 646.3 1011.5 647.4 1013.5 648.5 1015.5 649.7 1017.5 650.9 1019.5 652.2 1021.5 653.5 1023.5 654.8 1025.5 656.1 1027.5 657.5 1029.5 658.9 1031.5 660.3 1033.5 661.8 1035.5 663.3 1037.5 664.8 1039.5 666.3 1041.5 667.9 1043.5 669.4 1045.5 671 1047.5 672.6 1049.5 674.2 1051.5 675.8 1053.5 677.5 1055.5 679.1 1057.5 680.7 1059.5 682.4 1061.5 684.1 1063.5 685.7 1065.5 687.4 1067.5 689.1 1069.5 690.7 1071.5 692.4 1073.5 694.1 1075.5 695.7 1077.5 697.4 1079.5 699 1081.5 700.7 1083.5 702.3 1085.5 703.9 1087.5 705.6 1089.5 707.2 1091.5 708.8 1093.5 710.3 1095.5 711.9 1097.5 713.4 1099.5 715 1101.5 716.5 1103.5 717.9 1105.5 719.4 1107.5 720.8 1109.5 722.2 1111.5 723.6 1113.5 725 1115.5 726.3 1117.5 727.6 1119.5 728.9 1121.5 730.1 1123.5 731.3 1125.5 732.5 1127.5 733.6 1129.5 734.7 1131.5 735.8 1133.5 736.8 1135.5 737.8 1137.5 738.7 1139.5 739.6 1141.5 740.5 1143.5 741.3 1145.5 742 1147.5 742.7 1149.5 743.4 1151.5 744 1153.5 744.5 1154.5 744.8" stroke="#14b010" stroke-width="1.8" fill="none" stroke-dasharray="1.2 2.0" opacity="0.8"/></g>
<path d="M165.5 603.5H1154.5V762.5H165.5ZM166 608.5h9.5M1154 608.5h-9.5M166 654.5h9.5M1154 654.5h-9.5M166 699.5h9.5M1154 699.5h-9.5M166 745.5h9.5M1154 745.5h-9.5M173.5 604v9.5M173.5 762v-9.5M460.5 604v9.5M460.5 762v-9.5M747.5 604v9.5M747.5 762v-9.5M1034.5 604v9.5M1034.5 762v-9.5" stroke="#262626" stroke-width="1" fill="none"/>
<text x="156.20" y="614.80" font-size="21.00" text-anchor="end" fill="#262626" textLength="12.72" lengthAdjust="spacingAndGlyphs">5</text>
<text x="156.20" y="660.80" font-size="21.00" text-anchor="end" fill="#262626" textLength="12.72" lengthAdjust="spacingAndGlyphs">4</text>
<text x="156.20" y="705.80" font-size="21.00" text-anchor="end" fill="#262626" textLength="12.72" lengthAdjust="spacingAndGlyphs">3</text>
<text x="156.20" y="751.80" font-size="21.00" text-anchor="end" fill="#262626" textLength="12.72" lengthAdjust="spacingAndGlyphs">2</text>
<path d="M169 587L179 597M179 587L169 597" stroke="#262626" stroke-width="1"/>
<text x="184.20" y="597.20" font-size="21.00" fill="#262626" textLength="25.45" lengthAdjust="spacingAndGlyphs">10</text>
<text x="211.00" y="588.80" font-size="17.32" fill="#262626" textLength="10.50" lengthAdjust="spacingAndGlyphs">4</text>
<g transform="translate(105.20 685.00) rotate(-90)" font-size="19.60" font-weight="bold" fill="#262626"><text x="-55.78" y="0" textLength="53.49" lengthAdjust="spacingAndGlyphs">Total</text><text x="4.20" y="0" textLength="51.58" lengthAdjust="spacingAndGlyphs">Field</text></g>
<g transform="translate(130.20 683.90) rotate(-90)" font-size="19.60" font-weight="bold" fill="#262626"><text x="-38.73" y="0" textLength="27.87" lengthAdjust="spacingAndGlyphs">|B|</text><text x="-4.36" y="0" textLength="43.09" lengthAdjust="spacingAndGlyphs">(nT)</text></g>
<text x="1170.40" y="679.80" font-size="15.40" font-weight="bold" fill="#000" textLength="64.12" lengthAdjust="spacingAndGlyphs" transform="rotate(-90 1170.40 679.80)">Inboard</text>
<text x="1181.90" y="700.20" font-size="15.40" font-weight="bold" fill="#000" textLength="78.15" lengthAdjust="spacingAndGlyphs" transform="rotate(-90 1181.90 700.20)">Outboard</text>
<text x="1193.90" y="661.60" font-size="15.40" font-weight="bold" fill="#000" textLength="49.92" lengthAdjust="spacingAndGlyphs" transform="rotate(-90 1193.90 661.60)">Chaos</text>
<path d="M1165 719.3V734" stroke="#0000ff" stroke-width="2"/>
<path d="M1180 719.3V734" stroke="#00ff00" stroke-width="2"/>
<path d="M1192 719.3V734" stroke="#ff0000" stroke-width="2"/>
<path d="M165 856.5H1155M165 921.5H1155M165 986.5H1155M173.5 837V1000M460.5 837V1000M747.5 837V1000M1034.5 837V1000" stroke="#dfdfdf" stroke-width="1" fill="none"/>
<g clip-path="url(#mmclip)">
<path d="M166 928.1h1V926.2h1V926.2h1V924.1h1V925.2h1V926.4h1V927.2h1V925.6h1V922.1h1V921.8h1V923.5h1V925.2h1V921.1h1V923.4h1V920.4h1V922.9h1V923.6h1V921.5h1V922h1V919.4h1V918.2h1V917.8h1V918.9h1V917.3h1V918.4h1V920.8h1V917.1h1V917h1V916.6h1V918.8h1V916.3h1V915.7h1V915.2h1V918.3h1V917.4h1V914.9h1V915.6h1V913.9h1V915.6h1V915.2h1V913.3h1V913.7h1V915.9h1V915.6h1V912.6h1V911.6h1V911.1h1V911.2h1V910.8h1V913.1h1V911.3h1V913h1V914.1h1V910.4h1V912.3h1V911.2h1V910.7h1V908.9h1V909.8h1V908.9h1V908.7h1V908.7h1V908.4h1V909.8h1V908.9h1V911.5h1V908h1V911h1V907.9h1V907.6h1V906.7h1V907.9h1V907.5h1V908.9h1V908h1V908.5h1V909.3h1V906.7h1V906.6h1V906.2h1V906h1V908.7h1V906.5h1V904.6h1V904.9h1V903.9h1V906.6h1V906.7h1V905.4h1V904.9h1V903.1h1V901.7h1V905.2h1V903.6h1V901.8h1V903.9h1V903.5h1V902.4h1V902.9h1V902.5h1V900.5h1V900.5h1V901.2h1V901.2h1V899.7h1V902.9h1V900.7h1V901.9h1V898.8h1V899.8h1V901.5h1V901.5h1V898.9h1V900.8h1V897.6h1V897.2h1V900.2h1V898.3h1V897.8h1V899.1h1V897.8h1V899h1V898.4h1V897.5h1V896.6h1V896.5h1V895.5h1V894.8h1V897.6h1V895.6h1V897.9h1V896.8h1V894.7h1V897.3h1V895.2h1V895.4h1V896.6h1V895h1V896.8h1V894.6h1V897.2h1V897.3h1V894.2h1V893.9h1V895.8h1V894.5h1V896.3h1V892.3h1V893.9h1V895.6h1V893.7h1V893.4h1V893.7h1V894.4h1V893h1V894.3h1V894.7h1V891.6h1V891.4h1V891.4h1V894.3h1V891.1h1V893.9h1V891h1V892.3h1V895.2h1V894.4h1V891.7h1V890.5h1V891.3h1V891.4h1V894h1V892.2h1V890.2h1V893.8h1V893.6h1V890.5h1V891.9h1V891.5h1V892h1V893h1V893.5h1V889.5h1V891.4h1V891.5h1V890.1h1V890.1h1V892.4h1V890.7h1V890.5h1V888.9h1V891.3h1V892.4h1V891h1V892.6h1V891.8h1V891.1h1V889.3h1V891.8h1V892.2h1V888.3h1V891.3h1V889.4h1V888.7h1V890.6h1V887.8h1V887.7h1V888.5h1V889.8h1V889.6h1V891.3h1V890.9h1V890.6h1V888.5h1V888.4h1V887.7h1V887.1h1V889.8h1V889.5h1V890.2h1V890.6h1V890.7h1V887.4h1V889.5h1V890.4h1V888.1h1V888.5h1V886.3h1V886.9h1V889.6h1V890.2h1V888.8h1V887.8h1V889.4h1V888.1h1V888h1V887.9h1V888.6h1V889.9h1V890h1V890.1h1V887.7h1V887.8h1V887.9h1V888.7h1V890.1h1V887.9h1V888.4h1V891h1V887.6h1V890.9h1V888.9h1V887.3h1V887.4h1V888.8h1V887.4h1V887.3h1V887.4h1V888.5h1V886.5h1V888.3h1V888.6h1V887h1V886.7h1V886.2h1V888.1h1V889.9h1V888.3h1V888.4h1V889.7h1V888.2h1V892.5h1V891.3h1V893h1V893.6h1V894.9h1V895.7h1V893.7h1V893.6h1V895.7h1V894.2h1V893.7h1V894.3h1V897.7h1V895.2h1V896.8h1V896.7h1V894.3h1V897.4h1V894.1h1V895.2h1V898.4h1V897.3h1V897.9h1V898.4h1V898.1h1V897h1V898.2h1V898.6h1V899.2h1V899.3h1V899.5h1V896.2h1V896.2h1V897.4h1V897.6h1V898.7h1V897.4h1V899.5h1V900.4h1V897.9h1V899.2h1V897.9h1V900.4h1V896.9h1V897.1h1V900.7h1V899.8h1V898.7h1V898.9h1V900.2h1V898.1h1V900.9h1V900.8h1V898.6h1V898.5h1V899.1h1V902.9h1V899.5h1V901.3h1V900.4h1V903.3h1V903.6h1V902.8h1V901.4h1V900h1V901.3h1V900.3h1V899.3h1V902.4h1V899.6h1V901.7h1V897.6h1V898.7h1V897.9h1V898.8h1V897.9h1V899.4h1V896.4h1V894.8h1V897.1h1V895.5h1V897.4h1V896.2h1V893.8h1V896.5h1V892.3h1V893.4h1V891.8h1V919.8h-1V924.1h-1V921.2h-1V919.3h-1V924.1h-1V924.7h-1V920.8h-1V920.8h-1V922.2h-1V920.5h-1V919.7h-1V923.1h-1V922h-1V924.1h-1V922.4h-1V920.5h-1V923h-1V922.8h-1V921.2h-1V924.1h-1V924h-1V925.4h-1V922.6h-1V921.8h-1V927.5h-1V927h-1V927h-1V925.3h-1V925.5h-1V922.9h-1V923.1h-1V926.6h-1V927.2h-1V923.8h-1V924.9h-1V924.1h-1V926.6h-1V927.7h-1V927.5h-1V923.9h-1V927.7h-1V926.2h-1V926.3h-1V927.8h-1V925.6h-1V923.5h-1V924.7h-1V922.9h-1V927.3h-1V922.7h-1V923.6h-1V922.8h-1V923.1h-1V921.6h-1V925.8h-1V925.9h-1V921.7h-1V922h-1V925.9h-1V923.4h-1V924.7h-1V921.5h-1V923.5h-1V920.9h-1V921.1h-1V919.6h-1V924.4h-1V921h-1V923.9h-1V920.4h-1V919.7h-1V920.6h-1V920.3h-1V918.3h-1V920.8h-1V918.7h-1V917.2h-1V921.9h-1V922.1h-1V921.8h-1V918.1h-1V921.5h-1V919.2h-1V920.7h-1V917.9h-1V918.1h-1V915.3h-1V918.5h-1V914.9h-1V917.4h-1V912.6h-1V916h-1V916.7h-1V915.6h-1V915h-1V915.8h-1V912.8h-1V913.2h-1V912.5h-1V911.4h-1V911.8h-1V911.9h-1V916.5h-1V915h-1V915.2h-1V914.2h-1V914.6h-1V914.2h-1V916.5h-1V916.6h-1V914.5h-1V912.1h-1V911.4h-1V916.3h-1V915.2h-1V913.9h-1V913.4h-1V914.3h-1V914.6h-1V912.5h-1V916.6h-1V916.8h-1V912.5h-1V912.8h-1V914.7h-1V916.8h-1V911.4h-1V911.2h-1V916.9h-1V916h-1V911.8h-1V916.4h-1V914.1h-1V912h-1V916.7h-1V914.4h-1V915.3h-1V914.2h-1V911h-1V916.5h-1V916.6h-1V914.8h-1V914.6h-1V914.1h-1V913.5h-1V916.9h-1V911.1h-1V916.4h-1V915.4h-1V916.4h-1V915.6h-1V916.2h-1V912.6h-1V913.7h-1V917h-1V912.5h-1V914.3h-1V912.4h-1V917.8h-1V917.4h-1V917.8h-1V917.6h-1V914.9h-1V916.2h-1V915.9h-1V918.3h-1V918.9h-1V919.2h-1V917.2h-1V914.4h-1V914.2h-1V916.6h-1V916h-1V915.5h-1V918.7h-1V918.3h-1V919h-1V917.6h-1V919.9h-1V919.1h-1V918.4h-1V919.3h-1V921.1h-1V920.2h-1V916.9h-1V920.2h-1V919.6h-1V918.9h-1V920.8h-1V920.9h-1V916.3h-1V919.7h-1V921.9h-1V917.9h-1V919.6h-1V919h-1V920.5h-1V919.4h-1V920.3h-1V923.1h-1V918.8h-1V922.7h-1V919.4h-1V921h-1V923.9h-1V920h-1V919.5h-1V921.9h-1V919.3h-1V922.6h-1V922.4h-1V921.7h-1V920.8h-1V922.6h-1V923.4h-1V925.2h-1V921.9h-1V921.7h-1V925h-1V922.8h-1V924.4h-1V922.6h-1V924.9h-1V924.7h-1V926.5h-1V923.4h-1V924.7h-1V922h-1V926.8h-1V926.2h-1V926.2h-1V926.8h-1V924.7h-1V927.8h-1V926.4h-1V927.1h-1V926.5h-1V927.9h-1V924.1h-1V926.5h-1V923h-1V928.8h-1V926.5h-1V927.7h-1V928.4h-1V929.2h-1V925.1h-1V929.9h-1V924.9h-1V926.8h-1V925.7h-1V929.6h-1V928h-1V928.1h-1V930.5h-1V928.8h-1V927.3h-1V926.2h-1V928.4h-1V929h-1V930.5h-1V928.8h-1V930.4h-1V930.6h-1V929.2h-1V926.8h-1V930.2h-1V928.9h-1V927.6h-1V930.7h-1V932.4h-1V934h-1V930h-1V934.3h-1V933.9h-1V931.9h-1V930h-1V935.8h-1V935.5h-1V934.4h-1V930.8h-1V935.3h-1V933.1h-1V931.5h-1V934.7h-1V934.3h-1V938.1h-1V935.5h-1V936h-1V938.7h-1V938.5h-1V935.4h-1V934h-1V938.3h-1V937.7h-1V940.1h-1V936.6h-1V937.2h-1V939h-1V938.8h-1V936.3h-1V935.7h-1V941.4h-1V940.9h-1V942h-1V937.8h-1V942.4h-1V937.5h-1V937.4h-1V942.6h-1V942.4h-1V939.1h-1V938.1h-1V937.8h-1V943.7h-1V938h-1V943.3h-1V939.8h-1V939.3h-1V939.5h-1V942.5h-1V941.2h-1V939.9h-1V943.7h-1V940.7h-1V944.4h-1V940.8h-1V943h-1V940.4h-1V943.1h-1V946h-1V944.9h-1V946.2h-1V944.2h-1V942.5h-1V945.1h-1V943.4h-1V945.1h-1V944.8h-1V943.9h-1V947.1h-1V948h-1V947.4h-1V949.1h-1V950.4h-1V945.1h-1V949.7h-1V948.6h-1V949.6h-1V947.7h-1V949.7h-1V949.8h-1V949h-1V948.2h-1V946.3h-1V949.8h-1V944.2h-1V948.4h-1V943.8h-1Z" fill="#0000ff"/>
<path d="M536 890.7h1V891.3h1V889.3h1V892.5h1V893.1h1V888.2h1V891.4h1V886.6h1V889.3h1V891.5h1V884.5h1V891.8h1V889.9h1V885.2h1V884.7h1V891.7h1V883.1h1V890.8h1V883.8h1V881.6h1V883.9h1V889.9h1V881.5h1V883.6h1V885.2h1V881.6h1V886h1V883.6h1V885.5h1V881.1h1V882.6h1V883.5h1V884.8h1V885.2h1V879.9h1V878.8h1V877h1V883.4h1V879.5h1V876.6h1V881.5h1V881.2h1V882.5h1V884.2h1V877.5h1V882.2h1V875.6h1V878.7h1V880h1V874.4h1V873.7h1V877.5h1V879h1V876h1V874.5h1V879.6h1V872.7h1V878.4h1V879.7h1V877.4h1V876h1V870.5h1V875.7h1V870.9h1V873.8h1V870h1V869.2h1V873.2h1V873.9h1V872h1V872.9h1V864.1h1V864.3h1V862.9h1V866.8h1V861.4h1V861.1h1V865.4h1V861.6h1V859.9h1V859.1h1V864.6h1V856.2h1V855.5h1V858.2h1V859.7h1V858.6h1V857.2h1V853.7h1V861.4h1V860.3h1V860h1V853.6h1V852.7h1V854.8h1V850.3h1V850.3h1V847.7h1V850.2h1V846.7h1V846.3h1V849.5h1V853.8h1V853.1h1V850.1h1V843.3h1V842.6h1V848.9h1V843.8h1V842.5h1V850.9h1V840.8h1V843.1h1V847.5h1V840h1V840.1h1V842.9h1V847.8h1V843h1V839.8h1V844.1h1V840.6h1V839.3h1V845.9h1V849.1h1V846.2h1V847.2h1V840.3h1V841.1h1V842.7h1V847.6h1V843.7h1V848.4h1V840.2h1V845.9h1V844.8h1V842.5h1V850.4h1V842.6h1V843.2h1V846.7h1V849h1V847.4h1V850.9h1V848.5h1V851.1h1V847.2h1V852.3h1V847.8h1V853.3h1V850.6h1V851.4h1V857.9h1V856.9h1V852h1V862.2h1V853.3h1V855.6h1V856.1h1V864.3h1V864.9h1V857.5h1V864.3h1V867.9h1V860.5h1V861.7h1V862.8h1V869.8h1V865.1h1V869.9h1V870.9h1V873h1V870.9h1V874.7h1V874.2h1V877.3h1V878.5h1V876.1h1V878.1h1V877h1V881.7h1V877.4h1V880.7h1V882.2h1V879.1h1V882.5h1V881.8h1V883.6h1V879.3h1V884h1V883.2h1V882.9h1V885.1h1V885.4h1V886.4h1V884.4h1V883.7h1V881.5h1V879.4h1V880.7h1V879h1V879.3h1V878.2h1V887.4h1V889.7h1V891.6h1V893.6h1V892.7h1V893h1V899h1V894.7h1V897.9h1V898h1V893.1h1V894.3h1V894.6h1V899.1h1V895.6h1V895.6h1V894.6h1V896.6h1V892.4h1V893.2h1V891.2h1V895.3h1V891h1V894.1h1V894h1V889.9h1V888.2h1V888.6h1V893.8h1V890.3h1V889.8h1V887.2h1V885.3h1V886.6h1V884.5h1V890.3h1V884.5h1V883.8h1V884.5h1V887.2h1V887.4h1V888.9h1V888h1V887.9h1V888h1V886.4h1V882.5h1V891.3h1V891.8h1V894.4h1V893.4h1V902.1h1V902.2h1V902.4h1V904.6h1V908.4h1V913.2h1V915h1V917.3h1V919.2h1V917.3h1V917.6h1V921.1h1V917h1V918.2h1V920.1h1V921.9h1V920.3h1V917.4h1V919.2h1V919.7h1V917.7h1V920.5h1V919.2h1V918.9h1V920.8h1V925.5h1V919.7h1V924.7h1V926.1h1V926.3h1V927.4h1V922.5h1V927.5h1V922.3h1V928.7h1V927.5h1V925.7h1V923.8h1V924.7h1V929.3h1V923.1h1V926.2h1V921.9h1V926.5h1V922.6h1V925h1V922.1h1V929.8h1V930.9h1V933.2h1V930h1V936.9h1V934.5h1V940.8h1V943.9h1V951.3h1V952.5h1V950.5h1V952h1V954.2h1V954.4h1V955.6h1V957.6h1V959.3h1V953.8h1V954.7h1V955.1h1V953.6h1V954.6h1V954.1h1V955.8h1V958.2h1V955.7h1V955.9h1V956.3h1V959.1h1V962.4h1V958h1V960.8h1V959.9h1V962.2h1V965h1V965.3h1V959.4h1V960.1h1V961.6h1V967.1h1V963.3h1V967h1V965.8h1V962.6h1V966.7h1V968.2h1V970h1V964h1V967.6h1V968.9h1V965.9h1V968.2h1V965.6h1V969.6h1V970.3h1V966.3h1V970.9h1V971h1V973.4h1V967.5h1V972.4h1V967.7h1V971h1V969.2h1V968.2h1V964h1V964h1V962.6h1V964.3h1V961.8h1V967.5h1V961.5h1V960.5h1V959.2h1V959.1h1V955.3h1V956.7h1V954.1h1V953.1h1V946.4h1V943.3h1V943.4h1V939.9h1V934.2h1V926.8h1V927.7h1V919.5h1V914.8h1V906.4h1V900.2h1V898.1h1V884.2h1V882.8h1V871.2h1V867.9h1V865.8h1V859.8h1V858.9h1V862.4h1V860.2h1V863.8h1V862.3h1V866h1V860.1h1V865.1h1V866h1V867.4h1V863.2h1V864.4h1V869.6h1V866.1h1V869.9h1V867.2h1V871.4h1V873h1V871.5h1V874.6h1V872.7h1V874.9h1V879h1V880.1h1V879h1V883.9h1V882.2h1V888.3h1V889.6h1V892h1V890.2h1V890.4h1V892.3h1V896.8h1V901.6h1V899.4h1V898.6h1V902.7h1V905.6h1V907.5h1V904.1h1V908.2h1V911h1V909.9h1V914.2h1V913h1V918.6h1V917.5h1V917.6h1V917.8h1V924.5h1V919.6h1V924.2h1V921.9h1V928.1h1V923.8h1V924.2h1V924.4h1V929.6h1V925.4h1V926.1h1V931.3h1V926.9h1V929h1V927.4h1V933.8h1V928.6h1V933.5h1V930.4h1V931.5h1V930.6h1V932.8h1V929.1h1V928.7h1V930.3h1V929.9h1V935.6h1V934.6h1V929.8h1V931h1V931.7h1V935.3h1V929.6h1V933.5h1V936.4h1V935.7h1V931.5h1V932.4h1V932.6h1V931.7h1V933.1h1V936.9h1V932.3h1V936.5h1V936.1h1V936.9h1V935.8h1V937.4h1V935.2h1V937.5h1V937.8h1V938.3h1V938.9h1V937h1V932.9h1V936.3h1V934.9h1V938.1h1V933.9h1V934h1V934.4h1V937.8h1V932.7h1V937.2h1V935h1V937.5h1V933.8h1V938.1h1V938h1V933.5h1V935.2h1V935.3h1V934.6h1V933.8h1V935.6h1V933.2h1V937.7h1V931.5h1V930.5h1V932.3h1V931.8h1V931.9h1V933.4h1V928.7h1V932.4h1V932.5h1V928.4h1V930h1V925.8h1V926h1V924.6h1V926.1h1V923.2h1V929h1V926.7h1V927.1h1V925.3h1V921.8h1V920.3h1V921.9h1V924.6h1V921.2h1V921.1h1V921.2h1V919.3h1V917.8h1V918.5h1V918.4h1V915.2h1V919.6h1V915.8h1V917.5h1V917.8h1V914.7h1V918.1h1V917.8h1V914.3h1V918.9h1V918.7h1V912.3h1V916.9h1V912h1V915.1h1V912.6h1V911.7h1V910.9h1V913.7h1V910.3h1V909.6h1V910.7h1V909.9h1V911.5h1V911.8h1V911.6h1V912.5h1V909.5h1V913.2h1V911h1V911.1h1V913h1V909.2h1V912h1V914.1h1V910.3h1V914.6h1V910.8h1V911.6h1V913h1V908.8h1V913.8h1V911.7h1V909.8h1V911.1h1V908.5h1V913.7h1V907.5h1V910.2h1V909.3h1V909.1h1V913.4h1V909.8h1V909h1V911.9h1V908.7h1V908.6h1V909.7h1V908.1h1V906.9h1V906.1h1V906.2h1V934.9h-1V939.4h-1V936h-1V935h-1V939.2h-1V934.5h-1V938.6h-1V939.6h-1V937.2h-1V939.3h-1V937.2h-1V938.1h-1V935.3h-1V938.6h-1V939.9h-1V936.4h-1V941.4h-1V939.6h-1V935.5h-1V937.8h-1V937h-1V940.3h-1V935.9h-1V938.3h-1V941.1h-1V940.5h-1V938.9h-1V938.2h-1V943.1h-1V937.3h-1V941.1h-1V941.6h-1V941.8h-1V937.4h-1V944h-1V943.9h-1V943.8h-1V938.5h-1V938.6h-1V942.7h-1V942.8h-1V945.1h-1V945.2h-1V944.9h-1V944.4h-1V946.1h-1V942.3h-1V940.6h-1V945.1h-1V943.7h-1V948.1h-1V946h-1V948.7h-1V943.6h-1V944.9h-1V944.9h-1V946.4h-1V944.2h-1V949.8h-1V949.6h-1V946.4h-1V949.7h-1V951.5h-1V949.1h-1V951h-1V949h-1V947.7h-1V952.7h-1V947.2h-1V947.4h-1V948.1h-1V954.5h-1V948.7h-1V949.8h-1V952.8h-1V955.9h-1V954h-1V951.4h-1V954.3h-1V955.9h-1V955.1h-1V958.8h-1V954.7h-1V959.5h-1V955.3h-1V961.7h-1V958.6h-1V962h-1V959.2h-1V964.9h-1V961.2h-1V962.8h-1V960.8h-1V962.8h-1V965.3h-1V966.4h-1V961.6h-1V964.8h-1V962.2h-1V967.4h-1V962h-1V963.3h-1V965.4h-1V964.3h-1V961.8h-1V966.1h-1V967.6h-1V968.4h-1V967.6h-1V968.8h-1V968.6h-1V967.2h-1V963.3h-1V964.1h-1V966.4h-1V963h-1V964.5h-1V963.6h-1V967.6h-1V962.3h-1V965.9h-1V965.8h-1V966.9h-1V965.1h-1V965.7h-1V961.9h-1V959.8h-1V960.1h-1V961.3h-1V962h-1V959.6h-1V965.2h-1V963.5h-1V963.2h-1V959.5h-1V962.9h-1V958.3h-1V959.1h-1V960.2h-1V958h-1V962.3h-1V958h-1V960.9h-1V961.6h-1V959.2h-1V960.4h-1V956h-1V954.5h-1V960.3h-1V955.9h-1V958.7h-1V953.3h-1V953.5h-1V954.5h-1V958.5h-1V957.3h-1V955.9h-1V952h-1V955.5h-1V952.3h-1V954.5h-1V953.4h-1V951.8h-1V945.9h-1V949.5h-1V948.5h-1V945.4h-1V947.9h-1V946h-1V941.8h-1V947.2h-1V942.5h-1V945h-1V937.9h-1V940.6h-1V937h-1V938.1h-1V938.7h-1V937.3h-1V935.3h-1V935.9h-1V932h-1V932h-1V929.9h-1V930.8h-1V924.7h-1V928.7h-1V927.4h-1V921.9h-1V919.2h-1V920.3h-1V913.5h-1V912.8h-1V915.3h-1V913.3h-1V911.1h-1V904.8h-1V904.6h-1V905.7h-1V900.6h-1V898.6h-1V898.8h-1V898.1h-1V896.9h-1V894.4h-1V889.8h-1V891h-1V884.1h-1V882.8h-1V881.7h-1V878h-1V880.7h-1V879.2h-1V880.3h-1V877.2h-1V879.3h-1V877.9h-1V874.2h-1V874.5h-1V878.3h-1V877.9h-1V876.5h-1V881.1h-1V886.7h-1V895.6h-1V896.2h-1V909h-1V910.7h-1V919.5h-1V920.9h-1V930.2h-1V933.6h-1V936.5h-1V943.6h-1V943.5h-1V950.4h-1V957.7h-1V958.8h-1V961.2h-1V966.1h-1V966.7h-1V967.9h-1V976.1h-1V979.1h-1V980.5h-1V979h-1V982.3h-1V983.4h-1V985.7h-1V988.6h-1V988.9h-1V990.3h-1V987.5h-1V991.6h-1V993.6h-1V989.2h-1V996h-1V994.9h-1V992h-1V996.1h-1V992.1h-1V993.6h-1V990.9h-1V993.1h-1V990.9h-1V991.1h-1V993.1h-1V993.6h-1V993.8h-1V988.2h-1V992.8h-1V987.2h-1V989.1h-1V991h-1V988.7h-1V985.9h-1V987.6h-1V984.4h-1V988.3h-1V989.3h-1V982.6h-1V986h-1V986.4h-1V981.5h-1V980.8h-1V983.7h-1V985.1h-1V985.2h-1V981.2h-1V983.5h-1V976.8h-1V981.5h-1V977.4h-1V978.6h-1V976.8h-1V974.4h-1V977.1h-1V974.2h-1V975.5h-1V970.5h-1V973.7h-1V974.7h-1V973.9h-1V967.4h-1V967.1h-1V970.1h-1V965.7h-1V967.2h-1V963.2h-1V961.7h-1V962.9h-1V960.4h-1V957.1h-1V950.6h-1V952.7h-1V951.6h-1V949h-1V948.7h-1V950h-1V951.3h-1V951.2h-1V951.8h-1V951.6h-1V954.9h-1V952.1h-1V954.7h-1V951.1h-1V953.7h-1V955h-1V952.3h-1V953.5h-1V953.6h-1V953.6h-1V951h-1V953.6h-1V947.2h-1V950.1h-1V952.3h-1V949.8h-1V950.2h-1V952.5h-1V950h-1V951.5h-1V951.6h-1V947.3h-1V951.2h-1V951.5h-1V945.7h-1V950.9h-1V948.1h-1V948.6h-1V948.9h-1V947.3h-1V944.8h-1V940.2h-1V943.5h-1V940.4h-1V935.7h-1V934.8h-1V931.3h-1V930.7h-1V933.8h-1V927.5h-1V925.8h-1V924.5h-1V921h-1V915.1h-1V917.8h-1V918h-1V917.8h-1V914.4h-1V919h-1V920.5h-1V919h-1V921h-1V919.1h-1V919.8h-1V922.3h-1V918.1h-1V919.2h-1V921.2h-1V924h-1V925.1h-1V925.4h-1V921.7h-1V922.5h-1V923.1h-1V926.3h-1V923.7h-1V927.3h-1V924.2h-1V925.2h-1V927.6h-1V923.7h-1V929.8h-1V925.4h-1V931h-1V925.6h-1V926.3h-1V926.3h-1V928.9h-1V932.5h-1V930.2h-1V929.8h-1V928.5h-1V931h-1V928.5h-1V929.7h-1V928.1h-1V932.4h-1V930.4h-1V930.6h-1V924.3h-1V925.4h-1V925.5h-1V926.3h-1V926.3h-1V925.7h-1V921.9h-1V919.2h-1V919h-1V918.4h-1V923.2h-1V916.8h-1V916.3h-1V914.5h-1V916.1h-1V916.4h-1V914.5h-1V916.9h-1V916.5h-1V908.9h-1V914.2h-1V912.3h-1V912.7h-1V906.5h-1V910.4h-1V906h-1V907.4h-1V905.4h-1V904.5h-1V898.2h-1V902.1h-1V900.7h-1V897.7h-1V897.7h-1V891.1h-1V891.1h-1V888h-1V886.7h-1V885.5h-1V885.9h-1V887.4h-1V884.4h-1V884.6h-1V888.1h-1V887.8h-1V885.8h-1V882.5h-1V881.6h-1V878.9h-1V884.5h-1V878.6h-1V883h-1V877.8h-1V876.5h-1V879.1h-1V873.9h-1V879.9h-1V873.5h-1V876.6h-1V874.9h-1V874.1h-1V876.1h-1V877.9h-1V877.6h-1V872.9h-1V873.5h-1V875.9h-1V872.8h-1V874h-1V874.6h-1V871.5h-1V869.2h-1V873.2h-1V871.9h-1V875.2h-1V870.2h-1V875.6h-1V872.1h-1V875.9h-1V870.4h-1V874h-1V873.8h-1V870h-1V870.5h-1V875.5h-1V873.9h-1V876.7h-1V871.8h-1V872.2h-1V870.7h-1V872.6h-1V877.4h-1V875.5h-1V872.5h-1V878.3h-1V877.9h-1V876h-1V878.5h-1V877h-1V875.6h-1V880.9h-1V877.7h-1V876.5h-1V878.4h-1V879.2h-1V882.8h-1V880.1h-1V882.6h-1V880.8h-1V884.5h-1V885.6h-1V884.3h-1V883.1h-1V887.5h-1V888.4h-1V887.4h-1V884.4h-1V884.5h-1V887.2h-1V889.2h-1V887.3h-1V892.4h-1V890.1h-1V888.6h-1V891h-1V889.2h-1V890.1h-1V892.4h-1V894.6h-1V895.9h-1V892.1h-1V892.8h-1V896h-1V897.6h-1V895.5h-1V898.2h-1V900.2h-1V898.9h-1V894.6h-1V901.4h-1V901.2h-1V897.2h-1V903h-1V899.8h-1V899.6h-1V898.6h-1V899.5h-1V899.4h-1V902.9h-1V902.1h-1V901.2h-1V901.5h-1V903.8h-1V904h-1V902.1h-1V905.7h-1V906.5h-1V902.4h-1V905.7h-1V903.2h-1V907.3h-1V907.3h-1V904.9h-1V907.8h-1V905.8h-1V903.8h-1V909.1h-1V905.6h-1V906.8h-1V908.1h-1V910.4h-1V905.5h-1V908.7h-1V912.3h-1V911.3h-1V911.3h-1V906.8h-1V911.9h-1V909.3h-1V911h-1V913.3h-1V909h-1V908.7h-1V908.3h-1V913.2h-1V912.6h-1V913.6h-1V912.5h-1V914.3h-1V913.7h-1V908.9h-1V913.5h-1V915.7h-1V915.2h-1V915.4h-1V913.2h-1V914.5h-1V911.1h-1V916h-1V912.4h-1V910.4h-1V912.9h-1V913.2h-1V915.1h-1V916.1h-1V916.3h-1Z" fill="#0000ff"/>
<path d="M166 927h1V926.6h1V928.5h1V929.1h1V927.3h1V925.7h1V926.3h1V927.3h1V925.6h1V927.4h1V925.9h1V924.1h1V923.9h1V925.6h1V923.4h1V923.3h1V924.7h1V923.3h1V923.3h1V922.4h1V925.2h1V923.7h1V921.8h1V922h1V921.2h1V922.9h1V921.8h1V922.2h1V923.4h1V921h1V923.3h1V923h1V920h1V920.4h1V919.4h1V921.7h1V919.1h1V919.9h1V920.3h1V919.5h1V921.7h1V919.9h1V918.9h1V920.9h1V920.2h1V921h1V918h1V917.7h1V917.3h1V918.1h1V919.8h1V919.7h1V916.6h1V917.7h1V917.6h1V919h1V918.1h1V916.1h1V918.3h1V917.5h1V917.3h1V915.1h1V917h1V916.5h1V915.3h1V917.6h1V915.2h1V916.6h1V915h1V914.7h1V914.8h1V915.8h1V915.3h1V916.6h1V915.3h1V914.7h1V913.2h1V912.6h1V912.5h1V915.2h1V913.2h1V914.1h1V912.5h1V912h1V914.1h1V911.7h1V911.9h1V914.2h1V913.4h1V913.8h1V913.6h1V913.8h1V912.1h1V913h1V910.3h1V912.6h1V912.2h1V911h1V913.1h1V909.9h1V911h1V909.7h1V910.5h1V909.7h1V910.6h1V910.6h1V911.9h1V912.2h1V908.9h1V912h1V910h1V908.5h1V908.5h1V910h1V911.4h1V908.8h1V909.7h1V910.7h1V908.5h1V908.2h1V908h1V907.5h1V908.8h1V908.5h1V909.9h1V909.1h1V910.4h1V909h1V906.8h1V910h1V908.1h1V907.4h1V908h1V906.3h1V906.5h1V906.3h1V906.6h1V907.3h1V909.3h1V907.9h1V908.4h1V905.8h1V906.1h1V906.3h1V908.7h1V908.9h1V907.2h1V907.4h1V905.9h1V905.6h1V905.3h1V906.5h1V905.1h1V906.3h1V905.7h1V904.7h1V905.5h1V906.8h1V907h1V904.4h1V905.1h1V906.5h1V906h1V905.1h1V907.1h1V904.2h1V903.9h1V903.8h1V904.6h1V904.9h1V903.9h1V904h1V906.4h1V904.3h1V903.3h1V906h1V903.4h1V903.2h1V903.8h1V905.3h1V904.3h1V904.9h1V904.8h1V905.9h1V903.2h1V903.1h1V904.7h1V903.4h1V904.5h1V903.5h1V903.5h1V902.5h1V905.9h1V902.5h1V903.5h1V904.2h1V904.8h1V905.4h1V903.3h1V903.3h1V904h1V903.5h1V902h1V904.4h1V902.5h1V903.4h1V902.5h1V902.5h1V902.2h1V902.6h1V901.7h1V904.4h1V901.9h1V903.8h1V902.5h1V901.7h1V902.4h1V905.2h1V904.8h1V904.6h1V905.1h1V905h1V902.1h1V903h1V902.6h1V903.4h1V902.3h1V903.1h1V903.8h1V903.2h1V904.2h1V904.3h1V902.3h1V903.2h1V902.5h1V904h1V903.1h1V902.3h1V902.7h1V902.7h1V904.1h1V902.2h1V903.6h1V903.5h1V902.1h1V902.3h1V904.8h1V903.3h1V903.8h1V901.9h1V903.7h1V902.3h1V901.5h1V903.1h1V903.6h1V901.8h1V901.4h1V901h1V901.1h1V903.4h1V903.5h1V901.8h1V903.2h1V901.1h1V902h1V902.7h1V901.1h1V902h1V902h1V902h1V903.1h1V901.4h1V903.2h1V901.9h1V904.7h1V903.3h1V902.4h1V902.5h1V903.5h1V902.1h1V902.6h1V902.8h1V902.3h1V902.6h1V902.7h1V903.1h1V904.9h1V903h1V903.7h1V902.8h1V903.3h1V905.5h1V904.7h1V905.9h1V904.1h1V904.8h1V904h1V904.5h1V904.4h1V905.2h1V905.9h1V906.9h1V908.4h1V906.4h1V906.1h1V905.8h1V906.4h1V907.5h1V906.5h1V909.4h1V906.5h1V907.9h1V907.3h1V907.5h1V910.3h1V908.1h1V909.2h1V908.6h1V908h1V908.8h1V908.6h1V907.9h1V911.3h1V910h1V909.3h1V908.5h1V910.4h1V910.3h1V910.3h1V909.9h1V910.2h1V910h1V909.1h1V911h1V910.9h1V910.8h1V910.4h1V910.8h1V910h1V912.5h1V910.9h1V910.7h1V912.1h1V911h1V911.5h1V911.3h1V908.6h1V909.5h1V910.4h1V911.1h1V911.2h1V908.2h1V908.1h1V909.7h1V908.1h1V908.3h1V910.7h1V911.1h1V910h1V921.7h-1V921.4h-1V919.5h-1V919.4h-1V922.5h-1V923.2h-1V923.5h-1V923.1h-1V923.3h-1V923.9h-1V922.9h-1V921.7h-1V921.6h-1V923.6h-1V925.1h-1V925h-1V922h-1V926h-1V926.1h-1V923.5h-1V925.5h-1V924.3h-1V924h-1V926.7h-1V924.4h-1V925.6h-1V926.6h-1V925.4h-1V927.2h-1V926.8h-1V927.3h-1V927.4h-1V927.1h-1V925.7h-1V927.5h-1V926.5h-1V925.7h-1V927.6h-1V925.3h-1V924.5h-1V924.5h-1V926h-1V924.6h-1V926.3h-1V925.4h-1V925h-1V922.7h-1V924.8h-1V923.2h-1V924.2h-1V924.7h-1V922.9h-1V923.6h-1V920.8h-1V920.6h-1V922.2h-1V923.1h-1V921.6h-1V922.2h-1V921.5h-1V922.3h-1V922.2h-1V920.8h-1V918h-1V919.3h-1V921.6h-1V920.7h-1V918.5h-1V919.5h-1V920.4h-1V917.3h-1V918.4h-1V918.1h-1V920.9h-1V919h-1V917.6h-1V916.7h-1V917.1h-1V919.4h-1V919.9h-1V918.8h-1V918.1h-1V920h-1V918.2h-1V919.4h-1V916.6h-1V919h-1V917.3h-1V919.1h-1V917.1h-1V916.6h-1V919.2h-1V918.3h-1V918.8h-1V918.3h-1V915.9h-1V918.5h-1V919.1h-1V916.1h-1V918.7h-1V916h-1V919.3h-1V915.8h-1V918.5h-1V916.4h-1V916.3h-1V918.4h-1V918.9h-1V917.3h-1V919.7h-1V919.4h-1V916.1h-1V918.4h-1V920h-1V920h-1V917.7h-1V917.9h-1V917.3h-1V919.8h-1V917.6h-1V919.5h-1V919h-1V917.7h-1V917.2h-1V919.2h-1V919.3h-1V916.6h-1V918.7h-1V917.8h-1V919.6h-1V919.9h-1V919.1h-1V918.8h-1V919.8h-1V918.7h-1V919.4h-1V918.7h-1V918.5h-1V918.1h-1V918.4h-1V917.4h-1V919.5h-1V916.9h-1V920.2h-1V918h-1V920h-1V916.9h-1V918.2h-1V917.7h-1V920.2h-1V916.5h-1V918.1h-1V918.3h-1V918.3h-1V920.8h-1V920.8h-1V918.7h-1V917.4h-1V919h-1V921.3h-1V921.4h-1V918.8h-1V921.2h-1V920.6h-1V921.8h-1V920.8h-1V918.8h-1V920.9h-1V922.4h-1V920.4h-1V922.4h-1V922.4h-1V919.1h-1V923.1h-1V922.3h-1V923.5h-1V923.5h-1V922.6h-1V923.6h-1V921.5h-1V924h-1V922.8h-1V922.4h-1V922.4h-1V924.4h-1V924.5h-1V922.5h-1V924.2h-1V924.9h-1V921.6h-1V924.7h-1V923.4h-1V924.8h-1V925.7h-1V924h-1V924.5h-1V923h-1V925.8h-1V925.6h-1V925.2h-1V926.1h-1V926.2h-1V926.4h-1V926.9h-1V925.5h-1V925.5h-1V925.9h-1V924.6h-1V927.4h-1V927.5h-1V924.4h-1V926.3h-1V927.8h-1V926.3h-1V924.4h-1V926.3h-1V928.4h-1V926.1h-1V925h-1V928.9h-1V928.1h-1V928.5h-1V926h-1V925.9h-1V926.6h-1V929.4h-1V926.9h-1V926.5h-1V930.1h-1V929.6h-1V929.3h-1V930.6h-1V928.5h-1V927.3h-1V928.8h-1V931h-1V930.9h-1V931.5h-1V927.8h-1V928h-1V930h-1V929.9h-1V930.6h-1V928.7h-1V930.3h-1V931h-1V932.2h-1V932.6h-1V932.4h-1V932.3h-1V931.6h-1V929.7h-1V932.8h-1V933.6h-1V931.4h-1V933.3h-1V932.9h-1V934.3h-1V933.6h-1V932.5h-1V931.4h-1V932.1h-1V934.8h-1V933.1h-1V932h-1V934.5h-1V934.3h-1V933.3h-1V934.2h-1V935.9h-1V935.9h-1V935.3h-1V936.5h-1V935.5h-1V936.9h-1V937h-1V933.7h-1V935h-1V936.3h-1V937.8h-1V934.8h-1V936.8h-1V935.3h-1V937.5h-1V938.3h-1V937.1h-1V938.8h-1V938.8h-1V939h-1V935.6h-1V936.2h-1V936.9h-1V938h-1V935.9h-1V936.5h-1V939.6h-1V939.9h-1V939.1h-1V938.6h-1V940.3h-1V939.8h-1V940.9h-1V941.1h-1V941.3h-1V940.4h-1V938.2h-1V939.2h-1V939.3h-1V942h-1V941.7h-1V939.2h-1V940.6h-1V940h-1V940.5h-1V939.9h-1V940.2h-1V942.6h-1V942.6h-1V939.9h-1V939.8h-1V941.2h-1V941.6h-1V941.1h-1V942.6h-1V941.4h-1V942.1h-1V944.2h-1V942.9h-1V941.6h-1V943.9h-1V943.2h-1V943.9h-1V942.5h-1V945.4h-1V944h-1V943.2h-1V945.5h-1V945.6h-1V942h-1V945.6h-1V945.1h-1V942.3h-1V942.4h-1V944.4h-1V946.2h-1V944.5h-1V946.6h-1V946.6h-1V942.9h-1V944.2h-1V946.8h-1V943.8h-1V946.7h-1V943.6h-1V943.7h-1V943.6h-1V944.9h-1V946.9h-1V947.1h-1Z" fill="#00ff00"/>
<path d="M536 906.4h1V905.2h1V902.9h1V904h1V905.2h1V904.2h1V904.4h1V902h1V902h1V903.9h1V903.1h1V901.2h1V903.8h1V901.6h1V900.2h1V902.2h1V900.4h1V900.2h1V901.1h1V900.4h1V901.9h1V899.8h1V898.7h1V898.9h1V898h1V899.5h1V898.3h1V897.6h1V897h1V897.2h1V898h1V898h1V898.5h1V898.6h1V897.6h1V896.4h1V898.4h1V895h1V896h1V894.8h1V895.1h1V894.3h1V894.1h1V894.9h1V894.5h1V893.1h1V893.1h1V895h1V893.8h1V894.6h1V894.1h1V893.2h1V892.2h1V891.3h1V893h1V892.1h1V890.4h1V892.7h1V889.8h1V889.4h1V889.7h1V888.6h1V888.4h1V889.3h1V887h1V886.9h1V887.8h1V888.8h1V884.9h1V885.3h1V884.8h1V883.6h1V884.4h1V883.6h1V884.8h1V882h1V884.3h1V882.8h1V881.6h1V880.6h1V882.6h1V880.1h1V882.3h1V880.3h1V880.8h1V877.9h1V879.4h1V877.2h1V878.4h1V876.1h1V876.4h1V876h1V876.8h1V877h1V875.5h1V873.8h1V873.3h1V872.7h1V873.1h1V872.7h1V872.3h1V872.2h1V873.8h1V871h1V872.9h1V870.9h1V869.5h1V868.7h1V867.7h1V870.1h1V867.8h1V866.9h1V867.2h1V868.6h1V865.4h1V865.5h1V865.1h1V864.3h1V865.4h1V866.1h1V863.1h1V862.2h1V861.9h1V861.4h1V861.4h1V860.7h1V861.5h1V862.5h1V859.9h1V861.8h1V860.9h1V861.5h1V859.5h1V857.7h1V859.5h1V859.6h1V858.7h1V858.5h1V859.1h1V858h1V857.6h1V858.7h1V857.6h1V858.8h1V858.3h1V860.5h1V860.9h1V860.9h1V858h1V859.5h1V861.6h1V861h1V859h1V859.6h1V861.4h1V861.2h1V860.7h1V861.1h1V863.2h1V861.8h1V865.5h1V863.6h1V865.1h1V865.3h1V865.4h1V864.6h1V868h1V868.6h1V868.2h1V868.2h1V869.5h1V869.6h1V869.6h1V868.3h1V870.6h1V871.4h1V869.4h1V871.1h1V870.8h1V870.8h1V871.5h1V872.3h1V872.7h1V873.5h1V874.1h1V873.6h1V874.9h1V877.9h1V875.5h1V875.7h1V877.6h1V877h1V880.3h1V880h1V876.3h1V875.8h1V877.9h1V876.4h1V874.8h1V874.7h1V874.1h1V874.9h1V875.6h1V879.7h1V880.7h1V885h1V884.7h1V889.3h1V890.6h1V891.9h1V889.7h1V890.9h1V888.6h1V891h1V890.3h1V888.4h1V889.4h1V891.4h1V889.1h1V889.7h1V891.2h1V887.9h1V887.5h1V887.9h1V887.4h1V888.4h1V885.9h1V886.2h1V886.3h1V884.6h1V887h1V883.7h1V882.6h1V882.9h1V883.5h1V883.7h1V882h1V880.8h1V881.2h1V880.4h1V880.1h1V878.9h1V881.2h1V878.7h1V881.3h1V880.7h1V881.2h1V878.7h1V880.7h1V878.9h1V881.8h1V885.8h1V886.6h1V891.6h1V894h1V897.2h1V898.2h1V902.7h1V905.6h1V909.1h1V912.8h1V912.4h1V915.3h1V914.9h1V914.2h1V912.8h1V912.8h1V913.7h1V913h1V915.7h1V915.6h1V913.9h1V913.7h1V913.6h1V916h1V914h1V915.6h1V914.9h1V915.9h1V918.5h1V916.4h1V916.2h1V918.5h1V916.9h1V918.4h1V920.1h1V918.2h1V920.7h1V918.5h1V921.5h1V921.5h1V920.8h1V922.2h1V921.3h1V919h1V920.2h1V919.5h1V918.3h1V917.8h1V920.4h1V919.7h1V919.6h1V923.6h1V923.2h1V927.3h1V929.3h1V929.5h1V936.9h1V938.8h1V943.5h1V945.9h1V947.2h1V947.4h1V946.8h1V947.5h1V949.5h1V949h1V948.1h1V948.8h1V950.8h1V949.5h1V952h1V950.6h1V952.8h1V951.1h1V953.1h1V951.1h1V952.2h1V951.5h1V955h1V952.8h1V955.4h1V953h1V955.5h1V955.6h1V955.5h1V955.7h1V958.2h1V958.7h1V959.3h1V959.5h1V959.8h1V960.8h1V960.5h1V959h1V959h1V960.3h1V959.9h1V962.2h1V963.8h1V961.5h1V962.5h1V964.5h1V962.3h1V961.9h1V963.6h1V965.7h1V963.3h1V963.1h1V964.3h1V963.2h1V962.4h1V962.3h1V962.2h1V960.3h1V960.5h1V962.2h1V961.2h1V959.7h1V957.8h1V959.2h1V957.6h1V957.9h1V953.8h1V954.1h1V950.8h1V949.3h1V949.5h1V947.3h1V945h1V944.2h1V940h1V936.7h1V932.2h1V928.1h1V926.2h1V920.5h1V915.5h1V910.8h1V903.7h1V899.9h1V892.5h1V884h1V877.5h1V871h1V865.4h1V860.9h1V854.5h1V847.6h1V839.7h1V842.7h1V842.6h1V845.7h1V847.5h1V850.7h1V851h1V851.9h1V855.3h1V855.5h1V857.8h1V858.8h1V861.1h1V861.1h1V861.9h1V865.2h1V864.5h1V865.7h1V867h1V868.5h1V869.7h1V873.7h1V874.1h1V875.1h1V878.7h1V877.2h1V879.7h1V881.8h1V882.7h1V885.1h1V889.3h1V888.5h1V890.7h1V891.7h1V894.3h1V894.8h1V898h1V897.7h1V900.9h1V900.9h1V901.3h1V904.2h1V907.1h1V905.4h1V907.2h1V910.8h1V910.8h1V911.3h1V913.4h1V914.1h1V915.2h1V916.7h1V919.3h1V921.9h1V921.5h1V920.3h1V922.9h1V924.1h1V922.2h1V922.5h1V925.1h1V924h1V923.1h1V925.7h1V925.2h1V927h1V926.3h1V924.7h1V925.1h1V924.4h1V925.3h1V925.8h1V925.4h1V925h1V925.2h1V927.2h1V928.8h1V928.9h1V927.8h1V927.6h1V929.2h1V927.8h1V926.9h1V929.6h1V926.7h1V930.3h1V927.3h1V930.1h1V928.8h1V928.3h1V927.6h1V927.8h1V928h1V930.7h1V928.2h1V929.5h1V928.7h1V931.1h1V931.6h1V929.4h1V930.1h1V930.7h1V930.6h1V932.9h1V929.7h1V930.4h1V930.6h1V932.7h1V932.4h1V931.6h1V929.9h1V929.5h1V930.7h1V929.2h1V931.5h1V932.2h1V929h1V930.7h1V930.3h1V929.7h1V931.4h1V930h1V929.3h1V929.5h1V928.9h1V928.8h1V928.4h1V928.3h1V930.3h1V926.7h1V927.2h1V927.6h1V926.1h1V928.2h1V925.6h1V925.4h1V927.4h1V924.5h1V925.8h1V924.6h1V923.5h1V925.6h1V922.6h1V925.6h1V922.9h1V921.6h1V921.3h1V922.8h1V923.6h1V922.1h1V921.8h1V920.4h1V921.9h1V919.8h1V920.7h1V920h1V919h1V919.2h1V921.5h1V919.7h1V918.7h1V919.3h1V917.3h1V918.5h1V917.4h1V919.6h1V916.8h1V916.6h1V916.2h1V916.9h1V916h1V915.8h1V916.2h1V917.8h1V916.5h1V917.7h1V916.1h1V915.5h1V916.3h1V915.7h1V915h1V915.4h1V915.7h1V914.8h1V915.1h1V915.7h1V916.3h1V914.2h1V914.4h1V915.4h1V914.3h1V914.3h1V916.2h1V915.7h1V915.5h1V913.6h1V913.9h1V916h1V914.3h1V916.7h1V913.9h1V916.6h1V915.8h1V914.9h1V915.9h1V913h1V915.4h1V914.6h1V913.2h1V912.7h1V912.6h1V913.2h1V913.4h1V912.8h1V914h1V913.5h1V915h1V912.4h1V913.3h1V936.8h-1V937.7h-1V938h-1V937.9h-1V936.1h-1V938h-1V934.7h-1V938h-1V936.5h-1V934.5h-1V937.9h-1V936.2h-1V934.6h-1V938.2h-1V937.9h-1V937.8h-1V938.5h-1V938.2h-1V938.7h-1V936.1h-1V938.3h-1V937h-1V937.3h-1V938.6h-1V938.8h-1V935.6h-1V936.2h-1V938.2h-1V938.4h-1V938.3h-1V936.1h-1V938.6h-1V938.1h-1V939.3h-1V937.1h-1V939.1h-1V937.9h-1V937.1h-1V936.2h-1V939h-1V937.4h-1V935.8h-1V936.2h-1V936.4h-1V938.9h-1V938.9h-1V939h-1V939.6h-1V939.7h-1V936.7h-1V939.6h-1V937.5h-1V938.5h-1V939h-1V938.6h-1V940.3h-1V940.5h-1V940h-1V938.9h-1V940.9h-1V940.4h-1V937.5h-1V938.9h-1V938.5h-1V940.7h-1V940.8h-1V941.5h-1V938.2h-1V940.8h-1V941.8h-1V938.5h-1V940.9h-1V939.4h-1V940h-1V942.5h-1V940.5h-1V941.3h-1V940.2h-1V940.7h-1V942.8h-1V941.1h-1V943.6h-1V941.3h-1V944.5h-1V943.5h-1V941.3h-1V945.1h-1V944.5h-1V944.3h-1V943.3h-1V945.8h-1V945.3h-1V945.4h-1V944.9h-1V945.8h-1V946.9h-1V944.7h-1V945.8h-1V945.8h-1V946.4h-1V945.6h-1V946h-1V948.7h-1V948.9h-1V946.5h-1V948.8h-1V947.1h-1V948.4h-1V947.9h-1V948h-1V948.5h-1V949.8h-1V951.3h-1V951.4h-1V950.7h-1V950.9h-1V949.7h-1V947.6h-1V948.8h-1V950.2h-1V949.5h-1V950.2h-1V948.8h-1V948.7h-1V947.6h-1V947.3h-1V945.9h-1V945.5h-1V948.3h-1V945.5h-1V948.9h-1V946.7h-1V948.5h-1V946.1h-1V948.2h-1V947.6h-1V947.9h-1V944.7h-1V946.3h-1V947.2h-1V944.4h-1V946.6h-1V942.7h-1V945.1h-1V942.7h-1V944.3h-1V943.8h-1V942.2h-1V942h-1V941h-1V941.8h-1V941.9h-1V941.4h-1V943.5h-1V943.3h-1V940.5h-1V939.8h-1V939h-1V942h-1V938h-1V936.8h-1V938.6h-1V936.8h-1V936.5h-1V932.4h-1V934.3h-1V932.9h-1V931.7h-1V930.1h-1V927h-1V924.3h-1V925h-1V923.5h-1V923.6h-1V921.7h-1V919.7h-1V917.4h-1V919.4h-1V915h-1V916.4h-1V914.3h-1V911.2h-1V911.1h-1V910.8h-1V909.9h-1V909.4h-1V908.5h-1V907.3h-1V905.7h-1V905.1h-1V900.8h-1V899.3h-1V901.1h-1V899.5h-1V895.3h-1V897.3h-1V894.3h-1V895h-1V891.3h-1V892.2h-1V892.5h-1V889.1h-1V888.2h-1V887.9h-1V887.9h-1V886.3h-1V884.6h-1V880.9h-1V880.2h-1V875.9h-1V874.2h-1V871.9h-1V871.9h-1V869.3h-1V867.5h-1V862.7h-1V860.4h-1V861h-1V865.7h-1V871.6h-1V876.5h-1V880.6h-1V885.1h-1V892.1h-1V899h-1V905.7h-1V914.1h-1V918.7h-1V925h-1V926.9h-1V933h-1V935.5h-1V939.1h-1V944.8h-1V948h-1V950.9h-1V955.7h-1V959.1h-1V963h-1V963.9h-1V964.7h-1V963.8h-1V966h-1V967.9h-1V967.7h-1V969.7h-1V967.9h-1V970.1h-1V973.3h-1V972.9h-1V974.3h-1V976h-1V974.7h-1V978.2h-1V979.1h-1V976.6h-1V980.1h-1V981.2h-1V979.5h-1V976.9h-1V978.9h-1V978.3h-1V977.6h-1V976.7h-1V977.4h-1V975h-1V973h-1V974.7h-1V974.8h-1V974.7h-1V971.5h-1V972.9h-1V971h-1V970.2h-1V969.8h-1V972.4h-1V970.9h-1V969.5h-1V971h-1V969.5h-1V967h-1V968.7h-1V969h-1V968.5h-1V965.3h-1V966.4h-1V967.1h-1V964.5h-1V965.8h-1V965.1h-1V962.6h-1V964.2h-1V963h-1V960.9h-1V958h-1V959.8h-1V957.8h-1V958.3h-1V957.6h-1V956.5h-1V955.2h-1V952.9h-1V951.6h-1V950.6h-1V951.7h-1V950.4h-1V948.2h-1V949.3h-1V946.7h-1V945.4h-1V946.5h-1V944.7h-1V943.9h-1V941.6h-1V940.9h-1V939.5h-1V937h-1V937.4h-1V939h-1V936.1h-1V937.6h-1V938.5h-1V935.8h-1V936.5h-1V935.1h-1V937.7h-1V935.3h-1V935.5h-1V938h-1V934.7h-1V937.4h-1V934h-1V934.6h-1V937.2h-1V934.4h-1V935.4h-1V936.3h-1V936.6h-1V936.6h-1V934.9h-1V933.3h-1V932.6h-1V935.5h-1V932.2h-1V934h-1V932.6h-1V934.4h-1V934.7h-1V932.3h-1V933h-1V932.8h-1V932.1h-1V933.4h-1V931.3h-1V934h-1V932.5h-1V929h-1V923.3h-1V922.7h-1V920.2h-1V914.9h-1V914.3h-1V913.2h-1V909.7h-1V908.4h-1V907.1h-1V905.4h-1V905.3h-1V902.9h-1V899.9h-1V898.3h-1V899.7h-1V902.2h-1V898.7h-1V901.2h-1V901.6h-1V901.3h-1V903.1h-1V903.6h-1V904.8h-1V904.7h-1V905.7h-1V904.2h-1V902.6h-1V903.7h-1V907.1h-1V907.5h-1V907.4h-1V906.1h-1V906.8h-1V907.5h-1V908.1h-1V907.2h-1V906.1h-1V905.8h-1V908.4h-1V908.8h-1V910h-1V910.2h-1V907.9h-1V907h-1V910.5h-1V911.3h-1V908.4h-1V911.5h-1V910.3h-1V911.1h-1V909.3h-1V906.6h-1V906h-1V903.4h-1V905h-1V903.7h-1V902.6h-1V899.2h-1V899.1h-1V898h-1V898.5h-1V900.1h-1V899.7h-1V898.6h-1V899.4h-1V899.5h-1V899h-1V898.9h-1V901.6h-1V901.2h-1V899.6h-1V897.8h-1V899.4h-1V898.2h-1V897.8h-1V893.8h-1V895.3h-1V895.4h-1V894.1h-1V891h-1V890.5h-1V890.7h-1V892.5h-1V891.8h-1V891.4h-1V889h-1V887.6h-1V889.3h-1V888.3h-1V888.6h-1V885.6h-1V885.7h-1V887.2h-1V885.9h-1V883.9h-1V882.4h-1V884.2h-1V884.1h-1V882.2h-1V883.5h-1V883.1h-1V883.5h-1V881.2h-1V881.9h-1V880.7h-1V880.1h-1V881.9h-1V881.4h-1V878.4h-1V879.6h-1V878.9h-1V880.3h-1V877.4h-1V876.4h-1V876.5h-1V879.2h-1V878.5h-1V877h-1V877.8h-1V878.7h-1V876.1h-1V876.8h-1V878.1h-1V878h-1V878.1h-1V877.7h-1V876.3h-1V878h-1V875.1h-1V877.6h-1V878.8h-1V879.1h-1V879h-1V878.7h-1V879.8h-1V880h-1V880.5h-1V880.6h-1V879.9h-1V880.5h-1V879.3h-1V881.9h-1V882.2h-1V880.8h-1V879.4h-1V883.2h-1V881.9h-1V880.5h-1V883.2h-1V884.4h-1V882.3h-1V885h-1V884.5h-1V885.9h-1V883.8h-1V883.8h-1V886.4h-1V887.1h-1V886.9h-1V887.6h-1V888.5h-1V887.6h-1V889h-1V887.2h-1V886.5h-1V887.9h-1V887.9h-1V890.7h-1V891.3h-1V892.3h-1V891.2h-1V892.4h-1V892h-1V892.6h-1V892.7h-1V895.1h-1V895h-1V894.9h-1V897.4h-1V894.7h-1V898.4h-1V897.4h-1V897.9h-1V898.5h-1V899.7h-1V900.2h-1V900.5h-1V899.5h-1V901.5h-1V899.4h-1V902.9h-1V900.4h-1V901.8h-1V904.5h-1V902.6h-1V905.7h-1V906.3h-1V906.6h-1V904.4h-1V906.4h-1V907.6h-1V908.4h-1V908.9h-1V909.4h-1V906.8h-1V907.8h-1V910.3h-1V908.8h-1V909.7h-1V909.2h-1V911.1h-1V911.1h-1V911.6h-1V910.5h-1V912.4h-1V909.1h-1V909.9h-1V912h-1V912.1h-1V911.9h-1V913.6h-1V910.9h-1V914.1h-1V913.5h-1V914.5h-1V912.8h-1V912.3h-1V912.7h-1V915.1h-1V915.8h-1V914.4h-1V913.4h-1V913.8h-1V915.8h-1V915.4h-1V916h-1V916.9h-1V914.7h-1V915.3h-1V915.2h-1V916.8h-1V918h-1V917.4h-1V916h-1V918.3h-1V915.6h-1V916.4h-1V917.7h-1V918.4h-1V919h-1V918.6h-1V919.2h-1V917.3h-1V916.3h-1V918.9h-1V919h-1V920.2h-1V918.7h-1V917.2h-1V920.5h-1V918.1h-1Z" fill="#00ff00"/>
<path d="M165.8 925V978" stroke="#10c070" stroke-width="1.2"/>
</g>
<path d="M165.5 837.5H1154.5V999.5H165.5ZM166 856.5h9.5M1154 856.5h-9.5M166 921.5h9.5M1154 921.5h-9.5M166 986.5h9.5M1154 986.5h-9.5M173.5 838v9.5M173.5 999v-9.5M460.5 838v9.5M460.5 999v-9.5M747.5 838v9.5M747.5 999v-9.5M1034.5 838v9.5M1034.5 999v-9.5" stroke="#262626" stroke-width="1" fill="none"/>
<text x="156.20" y="862.80" font-size="21.00" text-anchor="end" fill="#262626" textLength="25.45" lengthAdjust="spacingAndGlyphs">20</text>
<text x="156.20" y="927.80" font-size="21.00" text-anchor="end" fill="#262626" textLength="12.72" lengthAdjust="spacingAndGlyphs">0</text>
<text x="156.20" y="992.80" font-size="21.00" text-anchor="end" fill="#262626" textLength="32.67" lengthAdjust="spacingAndGlyphs">-20</text>
<g transform="translate(85.20 918.40) rotate(-90)" font-size="19.60" font-weight="bold" fill="#262626"><text x="-94.03" y="0" textLength="63.83" lengthAdjust="spacingAndGlyphs">Model</text><text x="-23.70" y="0" textLength="7.75" lengthAdjust="spacingAndGlyphs">-</text><text x="-9.45" y="0" textLength="103.48" lengthAdjust="spacingAndGlyphs">Measured</text></g>
<g transform="translate(110.90 918.70) rotate(-90)" font-size="19.60" font-weight="bold" fill="#262626"><text x="-38.73" y="0" textLength="27.87" lengthAdjust="spacingAndGlyphs">|B|</text><text x="-4.36" y="0" textLength="43.09" lengthAdjust="spacingAndGlyphs">(nT)</text></g>
<text x="1170.00" y="925.20" font-size="15.40" font-weight="bold" fill="#000" textLength="64.12" lengthAdjust="spacingAndGlyphs" transform="rotate(-90 1170.00 925.20)">Inboard</text>
<text x="1182.00" y="943.20" font-size="15.40" font-weight="bold" fill="#000" textLength="78.15" lengthAdjust="spacingAndGlyphs" transform="rotate(-90 1182.00 943.20)">Outboard</text>
<path d="M1165 958.2V974" stroke="#0000ff" stroke-width="2"/>
<path d="M1180 959.3V974" stroke="#00ff00" stroke-width="2"/>
<path d="M165 1096.5H1155M165 1159.5H1155M165 1223.5H1155M173.5 1072V1234M460.5 1072V1234M747.5 1072V1234M1034.5 1072V1234" stroke="#dfdfdf" stroke-width="1" fill="none"/>
<g clip-path="url(#tpclip)">
<path d="M166 1121.7h1V1121.7h1V1121.7h1V1121.7h1V1121.7h1V1117.9h1V1117.9h1V1117.9h1V1117.9h1V1117.9h1V1114.1h1V1114.1h1V1114.1h1V1114.1h1V1114.1h1V1114.1h1V1114.1h1V1114.1h1V1114.1h1V1114.1h1V1110.3h1V1114.1h1V1114.1h1V1114.1h1V1110.3h1V1110.3h1V1110.3h1V1110.3h1V1110.3h1V1110.3h1V1110.3h1V1110.3h1V1110.3h1V1110.3h1V1110.3h1V1106.5h1V1106.5h1V1106.5h1V1110.3h1V1110.3h1V1110.3h1V1106.5h1V1106.5h1V1106.5h1V1106.5h1V1106.5h1V1106.5h1V1106.5h1V1106.5h1V1106.5h1V1106.5h1V1106.5h1V1106.5h1V1106.5h1V1106.5h1V1106.5h1V1106.5h1V1106.5h1V1106.5h1V1106.5h1V1106.5h1V1106.5h1V1106.5h1V1106.5h1V1106.5h1V1106.5h1V1106.5h1V1106.5h1V1106.5h1V1106.5h1V1106.5h1V1106.5h1V1106.5h1V1106.5h1V1106.5h1V1106.5h1V1106.5h1V1106.5h1V1106.5h1V1106.5h1V1106.5h1V1106.5h1V1106.5h1V1106.5h1V1106.5h1V1106.5h1V1106.5h1V1106.5h1V1106.5h1V1106.5h1V1106.5h1V1106.5h1V1106.5h1V1106.5h1V1106.5h1V1106.5h1V1106.5h1V1106.5h1V1106.5h1V1106.5h1V1106.5h1V1106.5h1V1106.5h1V1106.5h1V1106.5h1V1106.5h1V1106.5h1V1106.5h1V1106.5h1V1106.5h1V1106.5h1V1106.5h1V1106.5h1V1106.5h1V1106.5h1V1106.5h1V1106.5h1V1106.5h1V1106.5h1V1106.5h1V1106.5h1V1106.5h1V1106.5h1V1106.5h1V1106.5h1V1106.5h1V1106.5h1V1106.5h1V1106.5h1V1106.5h1V1106.5h1V1106.5h1V1106.5h1V1106.5h1V1106.5h1V1106.5h1V1106.5h1V1106.5h1V1106.5h1V1106.5h1V1106.5h1V1106.5h1V1106.5h1V1106.5h1V1106.5h1V1106.5h1V1106.5h1V1106.5h1V1106.5h1V1106.5h1V1106.5h1V1106.5h1V1106.5h1V1106.5h1V1106.5h1V1106.5h1V1106.5h1V1106.5h1V1106.5h1V1106.5h1V1106.5h1V1106.5h1V1106.5h1V1106.5h1V1106.5h1V1106.5h1V1106.5h1V1106.5h1V1106.5h1V1106.5h1V1106.5h1V1106.5h1V1106.5h1V1106.5h1V1106.5h1V1106.5h1V1106.5h1V1106.5h1V1106.5h1V1106.5h1V1106.5h1V1106.5h1V1106.5h1V1106.5h1V1106.5h1V1106.5h1V1106.5h1V1106.5h1V1106.5h1V1106.5h1V1106.5h1V1106.5h1V1106.5h1V1106.5h1V1106.5h1V1106.5h1V1106.5h1V1106.5h1V1106.5h1V1106.5h1V1106.5h1V1106.5h1V1106.5h1V1106.5h1V1106.5h1V1106.5h1V1106.5h1V1106.5h1V1106.5h1V1106.5h1V1106.5h1V1106.5h1V1106.5h1V1106.5h1V1106.5h1V1106.5h1V1106.5h1V1106.5h1V1106.5h1V1106.5h1V1106.5h1V1106.5h1V1106.5h1V1106.5h1V1106.5h1V1106.5h1V1106.5h1V1106.5h1V1106.5h1V1106.5h1V1106.5h1V1106.5h1V1106.5h1V1106.5h1V1106.5h1V1106.5h1V1106.5h1V1106.5h1V1106.5h1V1106.5h1V1106.5h1V1106.5h1V1106.5h1V1106.5h1V1106.5h1V1106.5h1V1102.7h1V1106.5h1V1106.5h1V1106.5h1V1106.5h1V1106.5h1V1106.5h1V1106.5h1V1106.5h1V1106.5h1V1106.5h1V1106.5h1V1106.5h1V1106.5h1V1106.5h1V1106.5h1V1106.5h1V1106.5h1V1106.5h1V1106.5h1V1106.5h1V1106.5h1V1106.5h1V1106.5h1V1106.5h1V1106.5h1V1106.5h1V1110.3h1V1106.5h1V1110.3h1V1110.3h1V1110.3h1V1110.3h1V1110.3h1V1110.3h1V1110.3h1V1110.3h1V1110.3h1V1110.3h1V1110.3h1V1110.3h1V1110.3h1V1110.3h1V1110.3h1V1110.3h1V1110.3h1V1110.3h1V1110.3h1V1110.3h1V1110.3h1V1110.3h1V1110.3h1V1110.3h1V1110.3h1V1110.3h1V1110.3h1V1110.3h1V1110.3h1V1110.3h1V1110.3h1V1106.5h1V1106.5h1V1110.3h1V1110.3h1V1110.3h1V1106.5h1V1110.3h1V1110.3h1V1110.3h1V1110.3h1V1110.3h1V1110.3h1V1110.3h1V1110.3h1V1106.5h1V1110.3h1V1110.3h1V1110.3h1V1106.5h1V1110.3h1V1110.3h1V1110.3h1V1110.3h1V1110.3h1V1110.3h1V1110.3h1V1110.3h1V1110.3h1V1110.3h1V1110.3h1V1110.3h1V1110.3h1V1110.3h1V1110.3h1V1110.3h1V1110.3h1V1106.5h1V1106.5h1V1110.3h1V1106.5h1V1106.5h1V1106.5h1V1106.5h1V1106.5h1V1106.5h1V1106.5h1V1106.5h1V1106.5h1V1106.5h1V1106.5h1V1106.5h1V1106.5h1V1106.5h1V1111.7h-1V1107.9h-1V1111.7h-1V1107.9h-1V1111.7h-1V1111.7h-1V1111.7h-1V1111.7h-1V1111.7h-1V1111.7h-1V1111.7h-1V1111.7h-1V1111.7h-1V1111.7h-1V1111.7h-1V1111.7h-1V1111.7h-1V1111.7h-1V1111.7h-1V1115.5h-1V1111.7h-1V1111.7h-1V1111.7h-1V1115.5h-1V1111.7h-1V1115.5h-1V1111.7h-1V1111.7h-1V1115.5h-1V1111.7h-1V1111.7h-1V1111.7h-1V1111.7h-1V1115.5h-1V1111.7h-1V1111.7h-1V1111.7h-1V1111.7h-1V1111.7h-1V1111.7h-1V1111.7h-1V1111.7h-1V1115.5h-1V1111.7h-1V1111.7h-1V1111.7h-1V1111.7h-1V1111.7h-1V1111.7h-1V1111.7h-1V1111.7h-1V1111.7h-1V1111.7h-1V1111.7h-1V1111.7h-1V1111.7h-1V1111.7h-1V1115.5h-1V1111.7h-1V1111.7h-1V1111.7h-1V1111.7h-1V1111.7h-1V1111.7h-1V1115.5h-1V1111.7h-1V1111.7h-1V1111.7h-1V1111.7h-1V1111.7h-1V1115.5h-1V1111.7h-1V1111.7h-1V1111.7h-1V1111.7h-1V1111.7h-1V1111.7h-1V1111.7h-1V1111.7h-1V1111.7h-1V1111.7h-1V1111.7h-1V1111.7h-1V1111.7h-1V1111.7h-1V1111.7h-1V1111.7h-1V1111.7h-1V1111.7h-1V1111.7h-1V1111.7h-1V1107.9h-1V1111.7h-1V1111.7h-1V1111.7h-1V1107.9h-1V1111.7h-1V1107.9h-1V1111.7h-1V1111.7h-1V1111.7h-1V1107.9h-1V1111.7h-1V1107.9h-1V1107.9h-1V1111.7h-1V1111.7h-1V1111.7h-1V1111.7h-1V1111.7h-1V1111.7h-1V1111.7h-1V1111.7h-1V1107.9h-1V1111.7h-1V1107.9h-1V1111.7h-1V1107.9h-1V1107.9h-1V1107.9h-1V1107.9h-1V1107.9h-1V1107.9h-1V1111.7h-1V1111.7h-1V1107.9h-1V1111.7h-1V1111.7h-1V1111.7h-1V1111.7h-1V1111.7h-1V1111.7h-1V1107.9h-1V1111.7h-1V1111.7h-1V1111.7h-1V1111.7h-1V1111.7h-1V1107.9h-1V1111.7h-1V1107.9h-1V1107.9h-1V1107.9h-1V1111.7h-1V1111.7h-1V1111.7h-1V1111.7h-1V1111.7h-1V1107.9h-1V1111.7h-1V1107.9h-1V1111.7h-1V1107.9h-1V1107.9h-1V1111.7h-1V1107.9h-1V1107.9h-1V1111.7h-1V1107.9h-1V1111.7h-1V1111.7h-1V1107.9h-1V1111.7h-1V1111.7h-1V1107.9h-1V1107.9h-1V1107.9h-1V1111.7h-1V1107.9h-1V1107.9h-1V1107.9h-1V1107.9h-1V1107.9h-1V1111.7h-1V1107.9h-1V1111.7h-1V1111.7h-1V1111.7h-1V1107.9h-1V1111.7h-1V1111.7h-1V1107.9h-1V1111.7h-1V1107.9h-1V1111.7h-1V1111.7h-1V1111.7h-1V1111.7h-1V1107.9h-1V1111.7h-1V1107.9h-1V1111.7h-1V1111.7h-1V1107.9h-1V1111.7h-1V1111.7h-1V1107.9h-1V1111.7h-1V1107.9h-1V1111.7h-1V1111.7h-1V1107.9h-1V1111.7h-1V1107.9h-1V1111.7h-1V1107.9h-1V1111.7h-1V1111.7h-1V1111.7h-1V1111.7h-1V1111.7h-1V1111.7h-1V1111.7h-1V1111.7h-1V1111.7h-1V1107.9h-1V1107.9h-1V1111.7h-1V1111.7h-1V1111.7h-1V1111.7h-1V1107.9h-1V1107.9h-1V1111.7h-1V1107.9h-1V1107.9h-1V1111.7h-1V1107.9h-1V1111.7h-1V1111.7h-1V1107.9h-1V1111.7h-1V1107.9h-1V1107.9h-1V1107.9h-1V1107.9h-1V1107.9h-1V1111.7h-1V1111.7h-1V1107.9h-1V1111.7h-1V1111.7h-1V1111.7h-1V1111.7h-1V1107.9h-1V1107.9h-1V1111.7h-1V1111.7h-1V1111.7h-1V1111.7h-1V1107.9h-1V1107.9h-1V1111.7h-1V1107.9h-1V1107.9h-1V1107.9h-1V1107.9h-1V1111.7h-1V1111.7h-1V1111.7h-1V1111.7h-1V1111.7h-1V1111.7h-1V1111.7h-1V1107.9h-1V1107.9h-1V1107.9h-1V1111.7h-1V1111.7h-1V1111.7h-1V1107.9h-1V1107.9h-1V1111.7h-1V1111.7h-1V1107.9h-1V1107.9h-1V1111.7h-1V1107.9h-1V1111.7h-1V1111.7h-1V1111.7h-1V1111.7h-1V1107.9h-1V1111.7h-1V1107.9h-1V1111.7h-1V1107.9h-1V1107.9h-1V1107.9h-1V1107.9h-1V1111.7h-1V1111.7h-1V1111.7h-1V1107.9h-1V1111.7h-1V1107.9h-1V1111.7h-1V1111.7h-1V1107.9h-1V1111.7h-1V1111.7h-1V1107.9h-1V1111.7h-1V1111.7h-1V1107.9h-1V1107.9h-1V1111.7h-1V1111.7h-1V1111.7h-1V1111.7h-1V1111.7h-1V1111.7h-1V1111.7h-1V1111.7h-1V1111.7h-1V1111.7h-1V1111.7h-1V1111.7h-1V1111.7h-1V1111.7h-1V1111.7h-1V1111.7h-1V1115.5h-1V1111.7h-1V1115.5h-1V1115.5h-1V1115.5h-1V1111.7h-1V1111.7h-1V1111.7h-1V1111.7h-1V1115.5h-1V1115.5h-1V1115.5h-1V1115.5h-1V1115.5h-1V1115.5h-1V1115.5h-1V1115.5h-1V1115.5h-1V1119.3h-1V1119.3h-1V1115.5h-1V1119.3h-1V1119.3h-1V1119.3h-1V1119.3h-1V1119.3h-1V1119.3h-1V1119.3h-1V1119.3h-1V1123.1h-1V1123.1h-1V1123.1h-1V1123.1h-1V1123.1h-1V1126.9h-1V1126.9h-1V1126.9h-1Z" fill="#0000ff"/>
<path d="M536 1106.5h1V1106.5h1V1106.5h1V1106.5h1V1106.5h1V1106.5h1V1106.5h1V1106.5h1V1106.5h1V1106.5h1V1106.5h1V1106.5h1V1106.5h1V1106.5h1V1106.5h1V1106.5h1V1102.7h1V1106.5h1V1106.5h1V1106.5h1V1106.5h1V1106.5h1V1106.5h1V1106.5h1V1106.5h1V1106.5h1V1106.5h1V1106.5h1V1106.5h1V1106.5h1V1102.7h1V1106.5h1V1106.5h1V1102.7h1V1106.5h1V1106.5h1V1106.5h1V1102.7h1V1106.5h1V1106.5h1V1106.5h1V1106.5h1V1102.7h1V1106.5h1V1106.5h1V1106.5h1V1106.5h1V1106.5h1V1106.5h1V1106.5h1V1106.5h1V1102.7h1V1106.5h1V1106.5h1V1106.5h1V1106.5h1V1102.7h1V1106.5h1V1106.5h1V1106.5h1V1106.5h1V1102.7h1V1102.7h1V1106.5h1V1106.5h1V1106.5h1V1106.5h1V1106.5h1V1106.5h1V1106.5h1V1102.7h1V1106.5h1V1106.5h1V1106.5h1V1102.7h1V1102.7h1V1102.7h1V1106.5h1V1102.7h1V1106.5h1V1106.5h1V1102.7h1V1106.5h1V1102.7h1V1106.5h1V1106.5h1V1106.5h1V1106.5h1V1106.5h1V1102.7h1V1102.7h1V1106.5h1V1106.5h1V1106.5h1V1106.5h1V1106.5h1V1106.5h1V1106.5h1V1102.7h1V1106.5h1V1106.5h1V1102.7h1V1106.5h1V1102.7h1V1106.5h1V1102.7h1V1106.5h1V1106.5h1V1106.5h1V1106.5h1V1106.5h1V1106.5h1V1102.7h1V1106.5h1V1106.5h1V1102.7h1V1106.5h1V1106.5h1V1106.5h1V1106.5h1V1106.5h1V1106.5h1V1106.5h1V1106.5h1V1102.7h1V1102.7h1V1106.5h1V1102.7h1V1106.5h1V1102.7h1V1106.5h1V1106.5h1V1106.5h1V1102.7h1V1102.7h1V1102.7h1V1102.7h1V1106.5h1V1106.5h1V1106.5h1V1106.5h1V1102.7h1V1102.7h1V1102.7h1V1102.7h1V1102.7h1V1106.5h1V1102.7h1V1106.5h1V1102.7h1V1106.5h1V1102.7h1V1102.7h1V1102.7h1V1102.7h1V1102.7h1V1102.7h1V1102.7h1V1102.7h1V1106.5h1V1106.5h1V1102.7h1V1102.7h1V1102.7h1V1102.7h1V1102.7h1V1102.7h1V1106.5h1V1102.7h1V1102.7h1V1102.7h1V1102.7h1V1102.7h1V1102.7h1V1102.7h1V1102.7h1V1102.7h1V1102.7h1V1102.7h1V1102.7h1V1102.7h1V1102.7h1V1102.7h1V1102.7h1V1102.7h1V1102.7h1V1102.7h1V1102.7h1V1102.7h1V1102.7h1V1102.7h1V1102.7h1V1102.7h1V1102.7h1V1102.7h1V1102.7h1V1102.7h1V1102.7h1V1102.7h1V1102.7h1V1102.7h1V1102.7h1V1102.7h1V1102.7h1V1102.7h1V1102.7h1V1102.7h1V1102.7h1V1102.7h1V1102.7h1V1102.7h1V1102.7h1V1102.7h1V1102.7h1V1102.7h1V1102.7h1V1102.7h1V1102.7h1V1102.7h1V1102.7h1V1102.7h1V1102.7h1V1102.7h1V1102.7h1V1102.7h1V1102.7h1V1102.7h1V1102.7h1V1102.7h1V1102.7h1V1102.7h1V1102.7h1V1102.7h1V1102.7h1V1102.7h1V1102.7h1V1102.7h1V1102.7h1V1102.7h1V1102.7h1V1102.7h1V1102.7h1V1102.7h1V1102.7h1V1102.7h1V1102.7h1V1102.7h1V1102.7h1V1102.7h1V1102.7h1V1098.9h1V1102.7h1V1102.7h1V1102.7h1V1098.9h1V1102.7h1V1102.7h1V1102.7h1V1102.7h1V1102.7h1V1098.9h1V1102.7h1V1098.9h1V1098.9h1V1098.9h1V1098.9h1V1102.7h1V1098.9h1V1098.9h1V1098.9h1V1098.9h1V1098.9h1V1098.9h1V1098.9h1V1098.9h1V1098.9h1V1098.9h1V1098.9h1V1098.9h1V1098.9h1V1098.9h1V1098.9h1V1098.9h1V1098.9h1V1098.9h1V1098.9h1V1098.9h1V1095.1h1V1098.9h1V1098.9h1V1098.9h1V1098.9h1V1098.9h1V1098.9h1V1098.9h1V1095.1h1V1098.9h1V1098.9h1V1098.9h1V1098.9h1V1095.1h1V1098.9h1V1095.1h1V1098.9h1V1098.9h1V1095.1h1V1098.9h1V1095.1h1V1098.9h1V1095.1h1V1095.1h1V1095.1h1V1098.9h1V1098.9h1V1095.1h1V1095.1h1V1095.1h1V1095.1h1V1095.1h1V1095.1h1V1095.1h1V1095.1h1V1095.1h1V1095.1h1V1095.1h1V1095.1h1V1095.1h1V1095.1h1V1095.1h1V1095.1h1V1095.1h1V1091.3h1V1095.1h1V1095.1h1V1095.1h1V1095.1h1V1095.1h1V1095.1h1V1091.3h1V1095.1h1V1095.1h1V1095.1h1V1095.1h1V1095.1h1V1095.1h1V1095.1h1V1095.1h1V1095.1h1V1091.3h1V1091.3h1V1095.1h1V1095.1h1V1091.3h1V1091.3h1V1091.3h1V1095.1h1V1095.1h1V1091.3h1V1091.3h1V1091.3h1V1091.3h1V1091.3h1V1091.3h1V1091.3h1V1091.3h1V1091.3h1V1091.3h1V1091.3h1V1091.3h1V1091.3h1V1091.3h1V1091.3h1V1091.3h1V1091.3h1V1091.3h1V1091.3h1V1091.3h1V1091.3h1V1091.3h1V1091.3h1V1091.3h1V1091.3h1V1091.3h1V1091.3h1V1091.3h1V1091.3h1V1091.3h1V1091.3h1V1087.5h1V1091.3h1V1091.3h1V1091.3h1V1087.5h1V1091.3h1V1087.5h1V1091.3h1V1087.5h1V1087.5h1V1087.5h1V1087.5h1V1087.5h1V1087.5h1V1087.5h1V1087.5h1V1091.3h1V1087.5h1V1087.5h1V1087.5h1V1087.5h1V1087.5h1V1087.5h1V1087.5h1V1087.5h1V1087.5h1V1087.5h1V1087.5h1V1087.5h1V1087.5h1V1087.5h1V1087.5h1V1087.5h1V1087.5h1V1087.5h1V1087.5h1V1087.5h1V1087.5h1V1087.5h1V1091.3h1V1087.5h1V1091.3h1V1087.5h1V1087.5h1V1087.5h1V1087.5h1V1087.5h1V1087.5h1V1087.5h1V1087.5h1V1087.5h1V1087.5h1V1087.5h1V1087.5h1V1087.5h1V1087.5h1V1087.5h1V1087.5h1V1087.5h1V1087.5h1V1087.5h1V1087.5h1V1087.5h1V1087.5h1V1087.5h1V1087.5h1V1087.5h1V1087.5h1V1087.5h1V1087.5h1V1087.5h1V1087.5h1V1087.5h1V1087.5h1V1087.5h1V1087.5h1V1087.5h1V1087.5h1V1087.5h1V1087.5h1V1087.5h1V1087.5h1V1087.5h1V1087.5h1V1087.5h1V1087.5h1V1087.5h1V1087.5h1V1087.5h1V1087.5h1V1087.5h1V1087.5h1V1087.5h1V1087.5h1V1087.5h1V1087.5h1V1087.5h1V1087.5h1V1087.5h1V1087.5h1V1087.5h1V1087.5h1V1087.5h1V1087.5h1V1087.5h1V1087.5h1V1087.5h1V1087.5h1V1087.5h1V1087.5h1V1087.5h1V1087.5h1V1087.5h1V1087.5h1V1083.7h1V1087.5h1V1087.5h1V1087.5h1V1087.5h1V1087.5h1V1087.5h1V1083.7h1V1087.5h1V1083.7h1V1083.7h1V1083.7h1V1083.7h1V1087.5h1V1083.7h1V1083.7h1V1083.7h1V1083.7h1V1083.7h1V1083.7h1V1083.7h1V1087.5h1V1083.7h1V1087.5h1V1083.7h1V1083.7h1V1083.7h1V1083.7h1V1083.7h1V1083.7h1V1083.7h1V1083.7h1V1083.7h1V1083.7h1V1083.7h1V1083.7h1V1083.7h1V1083.7h1V1083.7h1V1083.7h1V1083.7h1V1083.7h1V1083.7h1V1079.9h1V1083.7h1V1083.7h1V1079.9h1V1083.7h1V1083.7h1V1083.7h1V1083.7h1V1083.7h1V1083.7h1V1083.7h1V1083.7h1V1083.7h1V1083.7h1V1083.7h1V1083.7h1V1083.7h1V1083.7h1V1083.7h1V1083.7h1V1079.9h1V1083.7h1V1083.7h1V1079.9h1V1083.7h1V1083.7h1V1083.7h1V1083.7h1V1079.9h1V1083.7h1V1083.7h1V1083.7h1V1083.7h1V1083.7h1V1083.7h1V1079.9h1V1083.7h1V1083.7h1V1083.7h1V1083.7h1V1079.9h1V1083.7h1V1083.7h1V1083.7h1V1083.7h1V1083.7h1V1083.7h1V1083.7h1V1083.7h1V1083.7h1V1083.7h1V1083.7h1V1083.7h1V1083.7h1V1083.7h1V1079.9h1V1079.9h1V1083.7h1V1083.7h1V1083.7h1V1083.7h1V1079.9h1V1083.7h1V1083.7h1V1083.7h1V1083.7h1V1083.7h1V1083.7h1V1083.7h1V1083.7h1V1079.9h1V1079.9h1V1083.7h1V1085.1h-1V1085.1h-1V1085.1h-1V1085.1h-1V1088.9h-1V1085.1h-1V1085.1h-1V1085.1h-1V1085.1h-1V1085.1h-1V1085.1h-1V1085.1h-1V1085.1h-1V1085.1h-1V1085.1h-1V1085.1h-1V1085.1h-1V1085.1h-1V1088.9h-1V1088.9h-1V1085.1h-1V1085.1h-1V1085.1h-1V1085.1h-1V1085.1h-1V1085.1h-1V1085.1h-1V1085.1h-1V1085.1h-1V1085.1h-1V1085.1h-1V1085.1h-1V1085.1h-1V1088.9h-1V1085.1h-1V1085.1h-1V1085.1h-1V1085.1h-1V1085.1h-1V1085.1h-1V1085.1h-1V1085.1h-1V1085.1h-1V1088.9h-1V1085.1h-1V1088.9h-1V1085.1h-1V1088.9h-1V1085.1h-1V1085.1h-1V1085.1h-1V1085.1h-1V1088.9h-1V1085.1h-1V1088.9h-1V1085.1h-1V1085.1h-1V1088.9h-1V1085.1h-1V1088.9h-1V1085.1h-1V1085.1h-1V1088.9h-1V1088.9h-1V1085.1h-1V1088.9h-1V1085.1h-1V1088.9h-1V1088.9h-1V1088.9h-1V1088.9h-1V1088.9h-1V1085.1h-1V1085.1h-1V1088.9h-1V1088.9h-1V1088.9h-1V1088.9h-1V1088.9h-1V1088.9h-1V1088.9h-1V1088.9h-1V1088.9h-1V1088.9h-1V1088.9h-1V1088.9h-1V1088.9h-1V1088.9h-1V1088.9h-1V1088.9h-1V1088.9h-1V1088.9h-1V1088.9h-1V1088.9h-1V1088.9h-1V1088.9h-1V1088.9h-1V1088.9h-1V1088.9h-1V1088.9h-1V1088.9h-1V1092.7h-1V1088.9h-1V1088.9h-1V1088.9h-1V1088.9h-1V1088.9h-1V1088.9h-1V1092.7h-1V1088.9h-1V1088.9h-1V1088.9h-1V1088.9h-1V1088.9h-1V1088.9h-1V1088.9h-1V1088.9h-1V1088.9h-1V1088.9h-1V1088.9h-1V1092.7h-1V1088.9h-1V1088.9h-1V1088.9h-1V1092.7h-1V1088.9h-1V1092.7h-1V1088.9h-1V1088.9h-1V1088.9h-1V1092.7h-1V1088.9h-1V1092.7h-1V1092.7h-1V1088.9h-1V1092.7h-1V1092.7h-1V1092.7h-1V1088.9h-1V1088.9h-1V1092.7h-1V1092.7h-1V1088.9h-1V1092.7h-1V1092.7h-1V1092.7h-1V1092.7h-1V1092.7h-1V1092.7h-1V1092.7h-1V1092.7h-1V1092.7h-1V1088.9h-1V1092.7h-1V1092.7h-1V1092.7h-1V1092.7h-1V1092.7h-1V1092.7h-1V1092.7h-1V1092.7h-1V1092.7h-1V1092.7h-1V1092.7h-1V1092.7h-1V1092.7h-1V1092.7h-1V1092.7h-1V1092.7h-1V1092.7h-1V1092.7h-1V1092.7h-1V1092.7h-1V1092.7h-1V1092.7h-1V1092.7h-1V1092.7h-1V1092.7h-1V1092.7h-1V1092.7h-1V1092.7h-1V1092.7h-1V1092.7h-1V1092.7h-1V1092.7h-1V1092.7h-1V1092.7h-1V1092.7h-1V1092.7h-1V1092.7h-1V1092.7h-1V1092.7h-1V1092.7h-1V1092.7h-1V1092.7h-1V1092.7h-1V1092.7h-1V1092.7h-1V1092.7h-1V1092.7h-1V1092.7h-1V1092.7h-1V1092.7h-1V1092.7h-1V1092.7h-1V1092.7h-1V1092.7h-1V1092.7h-1V1092.7h-1V1092.7h-1V1092.7h-1V1092.7h-1V1092.7h-1V1092.7h-1V1092.7h-1V1092.7h-1V1092.7h-1V1092.7h-1V1092.7h-1V1092.7h-1V1092.7h-1V1092.7h-1V1092.7h-1V1092.7h-1V1092.7h-1V1092.7h-1V1092.7h-1V1092.7h-1V1092.7h-1V1092.7h-1V1092.7h-1V1092.7h-1V1092.7h-1V1092.7h-1V1092.7h-1V1092.7h-1V1092.7h-1V1092.7h-1V1096.5h-1V1096.5h-1V1092.7h-1V1092.7h-1V1096.5h-1V1096.5h-1V1096.5h-1V1096.5h-1V1096.5h-1V1096.5h-1V1096.5h-1V1096.5h-1V1096.5h-1V1096.5h-1V1092.7h-1V1096.5h-1V1096.5h-1V1096.5h-1V1096.5h-1V1096.5h-1V1096.5h-1V1096.5h-1V1096.5h-1V1096.5h-1V1096.5h-1V1096.5h-1V1096.5h-1V1096.5h-1V1096.5h-1V1096.5h-1V1096.5h-1V1096.5h-1V1096.5h-1V1096.5h-1V1096.5h-1V1096.5h-1V1096.5h-1V1096.5h-1V1096.5h-1V1100.3h-1V1096.5h-1V1096.5h-1V1096.5h-1V1096.5h-1V1096.5h-1V1100.3h-1V1100.3h-1V1100.3h-1V1096.5h-1V1096.5h-1V1096.5h-1V1100.3h-1V1100.3h-1V1100.3h-1V1096.5h-1V1100.3h-1V1100.3h-1V1100.3h-1V1100.3h-1V1100.3h-1V1100.3h-1V1100.3h-1V1100.3h-1V1100.3h-1V1100.3h-1V1100.3h-1V1100.3h-1V1100.3h-1V1100.3h-1V1100.3h-1V1100.3h-1V1100.3h-1V1100.3h-1V1100.3h-1V1100.3h-1V1100.3h-1V1100.3h-1V1100.3h-1V1100.3h-1V1100.3h-1V1100.3h-1V1104.1h-1V1100.3h-1V1100.3h-1V1100.3h-1V1100.3h-1V1100.3h-1V1100.3h-1V1104.1h-1V1100.3h-1V1100.3h-1V1104.1h-1V1100.3h-1V1100.3h-1V1100.3h-1V1104.1h-1V1104.1h-1V1104.1h-1V1104.1h-1V1104.1h-1V1104.1h-1V1104.1h-1V1100.3h-1V1104.1h-1V1104.1h-1V1104.1h-1V1104.1h-1V1104.1h-1V1104.1h-1V1104.1h-1V1104.1h-1V1104.1h-1V1104.1h-1V1104.1h-1V1104.1h-1V1104.1h-1V1104.1h-1V1104.1h-1V1104.1h-1V1104.1h-1V1104.1h-1V1104.1h-1V1104.1h-1V1104.1h-1V1104.1h-1V1104.1h-1V1104.1h-1V1104.1h-1V1104.1h-1V1107.9h-1V1104.1h-1V1107.9h-1V1107.9h-1V1107.9h-1V1107.9h-1V1107.9h-1V1107.9h-1V1107.9h-1V1104.1h-1V1107.9h-1V1107.9h-1V1104.1h-1V1107.9h-1V1107.9h-1V1104.1h-1V1107.9h-1V1104.1h-1V1107.9h-1V1107.9h-1V1107.9h-1V1107.9h-1V1107.9h-1V1107.9h-1V1107.9h-1V1107.9h-1V1107.9h-1V1107.9h-1V1107.9h-1V1107.9h-1V1107.9h-1V1107.9h-1V1107.9h-1V1107.9h-1V1107.9h-1V1107.9h-1V1107.9h-1V1107.9h-1V1107.9h-1V1107.9h-1V1107.9h-1V1107.9h-1V1107.9h-1V1107.9h-1V1107.9h-1V1107.9h-1V1107.9h-1V1107.9h-1V1107.9h-1V1107.9h-1V1107.9h-1V1107.9h-1V1107.9h-1V1107.9h-1V1107.9h-1V1107.9h-1V1107.9h-1V1107.9h-1V1107.9h-1V1107.9h-1V1107.9h-1V1107.9h-1V1107.9h-1V1107.9h-1V1107.9h-1V1107.9h-1V1107.9h-1V1107.9h-1V1107.9h-1V1107.9h-1V1107.9h-1V1107.9h-1V1107.9h-1V1107.9h-1V1107.9h-1V1107.9h-1V1107.9h-1V1107.9h-1V1107.9h-1V1107.9h-1V1107.9h-1V1107.9h-1V1107.9h-1V1107.9h-1V1107.9h-1V1107.9h-1V1107.9h-1V1107.9h-1V1107.9h-1V1107.9h-1V1107.9h-1V1107.9h-1V1107.9h-1V1107.9h-1V1107.9h-1V1107.9h-1V1107.9h-1V1107.9h-1V1107.9h-1V1107.9h-1V1107.9h-1V1107.9h-1V1107.9h-1V1107.9h-1V1107.9h-1V1107.9h-1V1107.9h-1V1107.9h-1V1107.9h-1V1107.9h-1V1107.9h-1V1107.9h-1V1107.9h-1V1107.9h-1V1107.9h-1V1107.9h-1V1107.9h-1V1107.9h-1V1107.9h-1V1107.9h-1V1107.9h-1V1107.9h-1V1107.9h-1V1107.9h-1V1107.9h-1V1107.9h-1V1107.9h-1V1107.9h-1V1107.9h-1V1107.9h-1V1107.9h-1V1107.9h-1V1107.9h-1V1107.9h-1V1107.9h-1V1107.9h-1V1107.9h-1V1107.9h-1V1107.9h-1V1107.9h-1V1107.9h-1V1107.9h-1V1107.9h-1V1107.9h-1V1107.9h-1V1107.9h-1V1107.9h-1V1107.9h-1V1107.9h-1V1107.9h-1V1107.9h-1V1107.9h-1V1107.9h-1V1107.9h-1V1107.9h-1V1107.9h-1V1107.9h-1V1107.9h-1V1107.9h-1V1107.9h-1V1107.9h-1V1111.7h-1V1107.9h-1V1107.9h-1V1107.9h-1V1107.9h-1V1107.9h-1V1107.9h-1V1107.9h-1V1107.9h-1V1107.9h-1V1107.9h-1V1107.9h-1V1107.9h-1V1107.9h-1V1107.9h-1V1107.9h-1V1111.7h-1V1107.9h-1V1107.9h-1V1107.9h-1V1111.7h-1V1107.9h-1V1107.9h-1V1107.9h-1V1107.9h-1V1107.9h-1V1107.9h-1V1107.9h-1V1107.9h-1V1107.9h-1V1107.9h-1V1107.9h-1V1107.9h-1V1107.9h-1V1107.9h-1V1107.9h-1V1107.9h-1V1107.9h-1V1107.9h-1V1107.9h-1V1107.9h-1V1107.9h-1V1107.9h-1V1107.9h-1V1107.9h-1V1107.9h-1V1107.9h-1V1111.7h-1V1107.9h-1V1107.9h-1V1107.9h-1V1107.9h-1V1107.9h-1V1111.7h-1V1107.9h-1V1107.9h-1V1107.9h-1V1107.9h-1V1107.9h-1V1107.9h-1V1107.9h-1V1107.9h-1V1107.9h-1V1107.9h-1V1107.9h-1V1107.9h-1V1107.9h-1V1107.9h-1V1107.9h-1V1111.7h-1V1107.9h-1V1107.9h-1V1111.7h-1V1107.9h-1V1107.9h-1V1107.9h-1V1111.7h-1V1107.9h-1V1107.9h-1V1107.9h-1V1107.9h-1V1107.9h-1V1107.9h-1V1107.9h-1V1107.9h-1V1107.9h-1V1111.7h-1V1111.7h-1V1107.9h-1V1107.9h-1Z" fill="#0000ff"/>
<path d="M166 1207.9h1V1204.1h1V1207.9h1V1207.9h1V1207.9h1V1207.9h1V1204.1h1V1204.1h1V1207.9h1V1207.9h1V1204.1h1V1207.9h1V1207.9h1V1207.9h1V1207.9h1V1207.9h1V1204.1h1V1204.1h1V1207.9h1V1207.9h1V1204.1h1V1207.9h1V1207.9h1V1204.1h1V1207.9h1V1204.1h1V1207.9h1V1204.1h1V1204.1h1V1204.1h1V1207.9h1V1207.9h1V1207.9h1V1207.9h1V1204.1h1V1207.9h1V1207.9h1V1207.9h1V1204.1h1V1204.1h1V1207.9h1V1204.1h1V1207.9h1V1207.9h1V1207.9h1V1207.9h1V1207.9h1V1207.9h1V1207.9h1V1207.9h1V1207.9h1V1207.9h1V1207.9h1V1207.9h1V1207.9h1V1207.9h1V1207.9h1V1207.9h1V1207.9h1V1207.9h1V1207.9h1V1207.9h1V1207.9h1V1207.9h1V1204.1h1V1207.9h1V1207.9h1V1207.9h1V1207.9h1V1204.1h1V1207.9h1V1207.9h1V1207.9h1V1207.9h1V1207.9h1V1207.9h1V1207.9h1V1207.9h1V1207.9h1V1207.9h1V1207.9h1V1207.9h1V1207.9h1V1207.9h1V1207.9h1V1207.9h1V1207.9h1V1207.9h1V1204.1h1V1207.9h1V1207.9h1V1207.9h1V1207.9h1V1207.9h1V1204.1h1V1207.9h1V1204.1h1V1207.9h1V1207.9h1V1207.9h1V1207.9h1V1207.9h1V1207.9h1V1207.9h1V1204.1h1V1207.9h1V1207.9h1V1207.9h1V1207.9h1V1207.9h1V1207.9h1V1207.9h1V1207.9h1V1207.9h1V1207.9h1V1207.9h1V1207.9h1V1207.9h1V1207.9h1V1207.9h1V1204.1h1V1207.9h1V1207.9h1V1207.9h1V1207.9h1V1207.9h1V1207.9h1V1204.1h1V1207.9h1V1207.9h1V1207.9h1V1207.9h1V1207.9h1V1207.9h1V1207.9h1V1204.1h1V1204.1h1V1207.9h1V1204.1h1V1207.9h1V1207.9h1V1207.9h1V1207.9h1V1207.9h1V1207.9h1V1207.9h1V1207.9h1V1207.9h1V1207.9h1V1207.9h1V1204.1h1V1207.9h1V1207.9h1V1207.9h1V1207.9h1V1207.9h1V1207.9h1V1207.9h1V1207.9h1V1207.9h1V1204.1h1V1207.9h1V1207.9h1V1207.9h1V1207.9h1V1207.9h1V1207.9h1V1207.9h1V1207.9h1V1207.9h1V1207.9h1V1207.9h1V1207.9h1V1207.9h1V1207.9h1V1207.9h1V1207.9h1V1207.9h1V1207.9h1V1207.9h1V1207.9h1V1207.9h1V1207.9h1V1207.9h1V1207.9h1V1207.9h1V1207.9h1V1207.9h1V1207.9h1V1204.1h1V1207.9h1V1207.9h1V1207.9h1V1207.9h1V1207.9h1V1207.9h1V1207.9h1V1207.9h1V1207.9h1V1207.9h1V1207.9h1V1207.9h1V1207.9h1V1207.9h1V1207.9h1V1207.9h1V1207.9h1V1207.9h1V1207.9h1V1207.9h1V1207.9h1V1207.9h1V1207.9h1V1207.9h1V1207.9h1V1207.9h1V1207.9h1V1207.9h1V1207.9h1V1207.9h1V1207.9h1V1207.9h1V1207.9h1V1207.9h1V1207.9h1V1207.9h1V1207.9h1V1207.9h1V1207.9h1V1207.9h1V1207.9h1V1207.9h1V1207.9h1V1207.9h1V1207.9h1V1207.9h1V1207.9h1V1207.9h1V1207.9h1V1207.9h1V1207.9h1V1207.9h1V1207.9h1V1207.9h1V1207.9h1V1207.9h1V1207.9h1V1207.9h1V1207.9h1V1207.9h1V1207.9h1V1207.9h1V1207.9h1V1207.9h1V1207.9h1V1207.9h1V1207.9h1V1207.9h1V1207.9h1V1207.9h1V1207.9h1V1207.9h1V1207.9h1V1207.9h1V1207.9h1V1207.9h1V1207.9h1V1207.9h1V1207.9h1V1207.9h1V1207.9h1V1207.9h1V1207.9h1V1207.9h1V1207.9h1V1207.9h1V1207.9h1V1207.9h1V1207.9h1V1207.9h1V1207.9h1V1207.9h1V1207.9h1V1207.9h1V1207.9h1V1207.9h1V1207.9h1V1207.9h1V1207.9h1V1207.9h1V1207.9h1V1207.9h1V1207.9h1V1207.9h1V1207.9h1V1207.9h1V1207.9h1V1207.9h1V1207.9h1V1207.9h1V1207.9h1V1207.9h1V1207.9h1V1207.9h1V1207.9h1V1207.9h1V1207.9h1V1207.9h1V1207.9h1V1207.9h1V1207.9h1V1207.9h1V1207.9h1V1207.9h1V1207.9h1V1207.9h1V1207.9h1V1207.9h1V1207.9h1V1207.9h1V1207.9h1V1207.9h1V1207.9h1V1207.9h1V1207.9h1V1207.9h1V1207.9h1V1207.9h1V1207.9h1V1207.9h1V1207.9h1V1207.9h1V1207.9h1V1207.9h1V1207.9h1V1207.9h1V1207.9h1V1207.9h1V1207.9h1V1207.9h1V1207.9h1V1207.9h1V1207.9h1V1207.9h1V1207.9h1V1207.9h1V1207.9h1V1207.9h1V1207.9h1V1207.9h1V1207.9h1V1207.9h1V1207.9h1V1207.9h1V1207.9h1V1207.9h1V1207.9h1V1207.9h1V1207.9h1V1213.1h-1V1213.1h-1V1213.1h-1V1213.1h-1V1213.1h-1V1213.1h-1V1213.1h-1V1213.1h-1V1213.1h-1V1213.1h-1V1213.1h-1V1213.1h-1V1213.1h-1V1213.1h-1V1213.1h-1V1213.1h-1V1213.1h-1V1213.1h-1V1213.1h-1V1213.1h-1V1213.1h-1V1213.1h-1V1213.1h-1V1213.1h-1V1213.1h-1V1213.1h-1V1213.1h-1V1213.1h-1V1213.1h-1V1213.1h-1V1213.1h-1V1213.1h-1V1213.1h-1V1213.1h-1V1213.1h-1V1213.1h-1V1213.1h-1V1213.1h-1V1213.1h-1V1213.1h-1V1213.1h-1V1213.1h-1V1209.3h-1V1213.1h-1V1213.1h-1V1213.1h-1V1213.1h-1V1213.1h-1V1213.1h-1V1213.1h-1V1213.1h-1V1213.1h-1V1213.1h-1V1213.1h-1V1213.1h-1V1213.1h-1V1209.3h-1V1213.1h-1V1213.1h-1V1213.1h-1V1213.1h-1V1213.1h-1V1213.1h-1V1213.1h-1V1213.1h-1V1213.1h-1V1209.3h-1V1213.1h-1V1209.3h-1V1213.1h-1V1213.1h-1V1213.1h-1V1213.1h-1V1213.1h-1V1213.1h-1V1213.1h-1V1213.1h-1V1213.1h-1V1213.1h-1V1209.3h-1V1213.1h-1V1213.1h-1V1213.1h-1V1213.1h-1V1213.1h-1V1209.3h-1V1213.1h-1V1213.1h-1V1213.1h-1V1209.3h-1V1213.1h-1V1213.1h-1V1213.1h-1V1213.1h-1V1213.1h-1V1213.1h-1V1209.3h-1V1213.1h-1V1213.1h-1V1213.1h-1V1213.1h-1V1213.1h-1V1213.1h-1V1213.1h-1V1209.3h-1V1209.3h-1V1213.1h-1V1209.3h-1V1213.1h-1V1213.1h-1V1209.3h-1V1209.3h-1V1213.1h-1V1213.1h-1V1213.1h-1V1213.1h-1V1213.1h-1V1213.1h-1V1213.1h-1V1213.1h-1V1209.3h-1V1213.1h-1V1213.1h-1V1213.1h-1V1213.1h-1V1213.1h-1V1209.3h-1V1213.1h-1V1213.1h-1V1213.1h-1V1209.3h-1V1209.3h-1V1209.3h-1V1209.3h-1V1213.1h-1V1209.3h-1V1213.1h-1V1209.3h-1V1209.3h-1V1213.1h-1V1213.1h-1V1209.3h-1V1213.1h-1V1213.1h-1V1209.3h-1V1209.3h-1V1213.1h-1V1209.3h-1V1213.1h-1V1209.3h-1V1209.3h-1V1213.1h-1V1209.3h-1V1209.3h-1V1213.1h-1V1209.3h-1V1209.3h-1V1213.1h-1V1209.3h-1V1209.3h-1V1209.3h-1V1209.3h-1V1209.3h-1V1209.3h-1V1213.1h-1V1213.1h-1V1213.1h-1V1209.3h-1V1213.1h-1V1209.3h-1V1209.3h-1V1209.3h-1V1209.3h-1V1209.3h-1V1213.1h-1V1209.3h-1V1209.3h-1V1209.3h-1V1209.3h-1V1209.3h-1V1209.3h-1V1209.3h-1V1213.1h-1V1213.1h-1V1209.3h-1V1209.3h-1V1213.1h-1V1209.3h-1V1209.3h-1V1209.3h-1V1209.3h-1V1209.3h-1V1209.3h-1V1209.3h-1V1209.3h-1V1209.3h-1V1209.3h-1V1213.1h-1V1209.3h-1V1213.1h-1V1213.1h-1V1209.3h-1V1209.3h-1V1209.3h-1V1209.3h-1V1209.3h-1V1209.3h-1V1209.3h-1V1209.3h-1V1209.3h-1V1209.3h-1V1209.3h-1V1209.3h-1V1209.3h-1V1209.3h-1V1209.3h-1V1209.3h-1V1209.3h-1V1209.3h-1V1209.3h-1V1209.3h-1V1209.3h-1V1209.3h-1V1209.3h-1V1209.3h-1V1213.1h-1V1209.3h-1V1213.1h-1V1209.3h-1V1209.3h-1V1209.3h-1V1213.1h-1V1213.1h-1V1209.3h-1V1209.3h-1V1209.3h-1V1209.3h-1V1209.3h-1V1209.3h-1V1209.3h-1V1209.3h-1V1209.3h-1V1209.3h-1V1209.3h-1V1209.3h-1V1209.3h-1V1209.3h-1V1209.3h-1V1213.1h-1V1209.3h-1V1209.3h-1V1209.3h-1V1209.3h-1V1209.3h-1V1209.3h-1V1209.3h-1V1213.1h-1V1209.3h-1V1209.3h-1V1209.3h-1V1209.3h-1V1209.3h-1V1209.3h-1V1209.3h-1V1209.3h-1V1209.3h-1V1209.3h-1V1209.3h-1V1213.1h-1V1209.3h-1V1209.3h-1V1209.3h-1V1209.3h-1V1209.3h-1V1209.3h-1V1209.3h-1V1209.3h-1V1209.3h-1V1209.3h-1V1209.3h-1V1209.3h-1V1209.3h-1V1209.3h-1V1209.3h-1V1209.3h-1V1209.3h-1V1209.3h-1V1209.3h-1V1209.3h-1V1209.3h-1V1209.3h-1V1209.3h-1V1209.3h-1V1209.3h-1V1209.3h-1V1209.3h-1V1209.3h-1V1209.3h-1V1209.3h-1V1209.3h-1V1209.3h-1V1209.3h-1V1209.3h-1V1209.3h-1V1209.3h-1V1209.3h-1V1209.3h-1V1209.3h-1V1209.3h-1V1209.3h-1V1209.3h-1V1209.3h-1V1209.3h-1V1209.3h-1V1209.3h-1V1209.3h-1V1209.3h-1V1209.3h-1V1209.3h-1V1209.3h-1V1209.3h-1V1209.3h-1V1209.3h-1V1209.3h-1V1209.3h-1V1209.3h-1V1209.3h-1V1209.3h-1V1209.3h-1V1209.3h-1V1209.3h-1V1209.3h-1V1209.3h-1V1209.3h-1V1209.3h-1V1209.3h-1V1209.3h-1V1209.3h-1V1209.3h-1V1209.3h-1V1209.3h-1V1209.3h-1V1209.3h-1V1209.3h-1V1209.3h-1V1209.3h-1V1209.3h-1V1209.3h-1V1209.3h-1V1209.3h-1V1209.3h-1V1209.3h-1V1209.3h-1V1209.3h-1V1213.1h-1V1209.3h-1V1209.3h-1V1213.1h-1V1209.3h-1Z" fill="#00ffff"/>
<path d="M536 1211.7h1V1207.9h1V1211.7h1V1211.7h1V1211.7h1V1207.9h1V1211.7h1V1207.9h1V1211.7h1V1207.9h1V1211.7h1V1211.7h1V1207.9h1V1207.9h1V1211.7h1V1211.7h1V1207.9h1V1211.7h1V1207.9h1V1211.7h1V1211.7h1V1211.7h1V1211.7h1V1211.7h1V1211.7h1V1211.7h1V1211.7h1V1211.7h1V1211.7h1V1207.9h1V1207.9h1V1211.7h1V1211.7h1V1211.7h1V1211.7h1V1207.9h1V1211.7h1V1211.7h1V1207.9h1V1211.7h1V1207.9h1V1211.7h1V1211.7h1V1211.7h1V1211.7h1V1211.7h1V1211.7h1V1207.9h1V1211.7h1V1207.9h1V1211.7h1V1211.7h1V1211.7h1V1211.7h1V1211.7h1V1211.7h1V1211.7h1V1211.7h1V1207.9h1V1211.7h1V1207.9h1V1211.7h1V1211.7h1V1211.7h1V1207.9h1V1207.9h1V1211.7h1V1207.9h1V1211.7h1V1207.9h1V1211.7h1V1211.7h1V1207.9h1V1207.9h1V1207.9h1V1207.9h1V1211.7h1V1211.7h1V1207.9h1V1207.9h1V1211.7h1V1211.7h1V1207.9h1V1211.7h1V1211.7h1V1207.9h1V1211.7h1V1207.9h1V1211.7h1V1211.7h1V1211.7h1V1211.7h1V1211.7h1V1211.7h1V1211.7h1V1207.9h1V1207.9h1V1207.9h1V1211.7h1V1211.7h1V1207.9h1V1207.9h1V1207.9h1V1207.9h1V1207.9h1V1211.7h1V1207.9h1V1211.7h1V1207.9h1V1207.9h1V1211.7h1V1207.9h1V1207.9h1V1211.7h1V1207.9h1V1211.7h1V1211.7h1V1207.9h1V1211.7h1V1207.9h1V1211.7h1V1207.9h1V1207.9h1V1207.9h1V1211.7h1V1207.9h1V1207.9h1V1207.9h1V1211.7h1V1207.9h1V1207.9h1V1207.9h1V1207.9h1V1207.9h1V1207.9h1V1207.9h1V1207.9h1V1207.9h1V1211.7h1V1211.7h1V1207.9h1V1207.9h1V1211.7h1V1207.9h1V1207.9h1V1207.9h1V1207.9h1V1211.7h1V1207.9h1V1207.9h1V1207.9h1V1207.9h1V1207.9h1V1207.9h1V1207.9h1V1207.9h1V1207.9h1V1211.7h1V1207.9h1V1207.9h1V1207.9h1V1207.9h1V1207.9h1V1207.9h1V1207.9h1V1207.9h1V1207.9h1V1207.9h1V1207.9h1V1207.9h1V1207.9h1V1207.9h1V1207.9h1V1207.9h1V1207.9h1V1207.9h1V1207.9h1V1207.9h1V1207.9h1V1207.9h1V1207.9h1V1207.9h1V1207.9h1V1207.9h1V1207.9h1V1207.9h1V1207.9h1V1207.9h1V1207.9h1V1204.1h1V1207.9h1V1207.9h1V1207.9h1V1207.9h1V1207.9h1V1207.9h1V1207.9h1V1207.9h1V1207.9h1V1207.9h1V1207.9h1V1207.9h1V1204.1h1V1207.9h1V1207.9h1V1207.9h1V1207.9h1V1207.9h1V1207.9h1V1207.9h1V1207.9h1V1207.9h1V1207.9h1V1207.9h1V1207.9h1V1207.9h1V1207.9h1V1207.9h1V1207.9h1V1207.9h1V1207.9h1V1207.9h1V1207.9h1V1207.9h1V1207.9h1V1207.9h1V1204.1h1V1207.9h1V1204.1h1V1207.9h1V1207.9h1V1207.9h1V1207.9h1V1207.9h1V1207.9h1V1204.1h1V1207.9h1V1204.1h1V1207.9h1V1204.1h1V1207.9h1V1207.9h1V1207.9h1V1207.9h1V1207.9h1V1207.9h1V1207.9h1V1207.9h1V1207.9h1V1207.9h1V1204.1h1V1207.9h1V1207.9h1V1207.9h1V1207.9h1V1207.9h1V1207.9h1V1204.1h1V1204.1h1V1204.1h1V1204.1h1V1207.9h1V1204.1h1V1204.1h1V1207.9h1V1204.1h1V1207.9h1V1207.9h1V1204.1h1V1207.9h1V1204.1h1V1204.1h1V1207.9h1V1207.9h1V1207.9h1V1207.9h1V1204.1h1V1207.9h1V1207.9h1V1207.9h1V1207.9h1V1207.9h1V1204.1h1V1204.1h1V1207.9h1V1207.9h1V1204.1h1V1204.1h1V1204.1h1V1204.1h1V1204.1h1V1204.1h1V1204.1h1V1204.1h1V1204.1h1V1204.1h1V1204.1h1V1204.1h1V1204.1h1V1204.1h1V1204.1h1V1204.1h1V1204.1h1V1204.1h1V1204.1h1V1204.1h1V1204.1h1V1207.9h1V1204.1h1V1204.1h1V1204.1h1V1204.1h1V1204.1h1V1204.1h1V1204.1h1V1204.1h1V1204.1h1V1204.1h1V1204.1h1V1204.1h1V1204.1h1V1204.1h1V1204.1h1V1204.1h1V1204.1h1V1204.1h1V1204.1h1V1204.1h1V1204.1h1V1204.1h1V1204.1h1V1204.1h1V1204.1h1V1204.1h1V1204.1h1V1204.1h1V1204.1h1V1204.1h1V1204.1h1V1204.1h1V1204.1h1V1204.1h1V1204.1h1V1204.1h1V1204.1h1V1204.1h1V1204.1h1V1204.1h1V1204.1h1V1204.1h1V1204.1h1V1204.1h1V1204.1h1V1204.1h1V1204.1h1V1204.1h1V1204.1h1V1204.1h1V1204.1h1V1200.3h1V1204.1h1V1204.1h1V1204.1h1V1204.1h1V1200.3h1V1204.1h1V1204.1h1V1204.1h1V1204.1h1V1204.1h1V1204.1h1V1200.3h1V1204.1h1V1204.1h1V1204.1h1V1200.3h1V1200.3h1V1204.1h1V1200.3h1V1200.3h1V1200.3h1V1200.3h1V1200.3h1V1200.3h1V1200.3h1V1200.3h1V1200.3h1V1200.3h1V1200.3h1V1200.3h1V1200.3h1V1200.3h1V1200.3h1V1200.3h1V1200.3h1V1200.3h1V1200.3h1V1200.3h1V1200.3h1V1200.3h1V1200.3h1V1200.3h1V1200.3h1V1200.3h1V1200.3h1V1200.3h1V1200.3h1V1200.3h1V1200.3h1V1200.3h1V1200.3h1V1200.3h1V1200.3h1V1200.3h1V1200.3h1V1200.3h1V1200.3h1V1200.3h1V1200.3h1V1200.3h1V1200.3h1V1200.3h1V1200.3h1V1200.3h1V1200.3h1V1200.3h1V1200.3h1V1200.3h1V1196.5h1V1200.3h1V1196.5h1V1196.5h1V1196.5h1V1196.5h1V1196.5h1V1200.3h1V1196.5h1V1196.5h1V1196.5h1V1200.3h1V1196.5h1V1196.5h1V1196.5h1V1200.3h1V1196.5h1V1196.5h1V1196.5h1V1196.5h1V1196.5h1V1200.3h1V1196.5h1V1196.5h1V1196.5h1V1196.5h1V1196.5h1V1196.5h1V1196.5h1V1196.5h1V1196.5h1V1196.5h1V1196.5h1V1196.5h1V1196.5h1V1196.5h1V1196.5h1V1196.5h1V1196.5h1V1196.5h1V1196.5h1V1196.5h1V1196.5h1V1196.5h1V1196.5h1V1196.5h1V1196.5h1V1196.5h1V1196.5h1V1196.5h1V1196.5h1V1196.5h1V1196.5h1V1196.5h1V1196.5h1V1196.5h1V1196.5h1V1196.5h1V1196.5h1V1192.7h1V1196.5h1V1196.5h1V1192.7h1V1196.5h1V1192.7h1V1196.5h1V1196.5h1V1192.7h1V1192.7h1V1192.7h1V1196.5h1V1192.7h1V1196.5h1V1192.7h1V1192.7h1V1192.7h1V1192.7h1V1192.7h1V1192.7h1V1192.7h1V1192.7h1V1196.5h1V1192.7h1V1192.7h1V1192.7h1V1192.7h1V1192.7h1V1192.7h1V1192.7h1V1192.7h1V1192.7h1V1192.7h1V1192.7h1V1192.7h1V1192.7h1V1192.7h1V1192.7h1V1192.7h1V1192.7h1V1192.7h1V1192.7h1V1192.7h1V1192.7h1V1192.7h1V1192.7h1V1192.7h1V1192.7h1V1192.7h1V1192.7h1V1192.7h1V1192.7h1V1192.7h1V1192.7h1V1192.7h1V1192.7h1V1192.7h1V1192.7h1V1192.7h1V1192.7h1V1192.7h1V1192.7h1V1192.7h1V1192.7h1V1192.7h1V1192.7h1V1188.9h1V1192.7h1V1192.7h1V1192.7h1V1192.7h1V1192.7h1V1192.7h1V1192.7h1V1192.7h1V1192.7h1V1192.7h1V1192.7h1V1192.7h1V1192.7h1V1192.7h1V1192.7h1V1192.7h1V1192.7h1V1192.7h1V1192.7h1V1192.7h1V1192.7h1V1192.7h1V1188.9h1V1192.7h1V1188.9h1V1192.7h1V1192.7h1V1192.7h1V1192.7h1V1192.7h1V1192.7h1V1192.7h1V1192.7h1V1192.7h1V1192.7h1V1192.7h1V1192.7h1V1192.7h1V1192.7h1V1188.9h1V1188.9h1V1192.7h1V1192.7h1V1188.9h1V1192.7h1V1188.9h1V1188.9h1V1188.9h1V1188.9h1V1188.9h1V1192.7h1V1188.9h1V1188.9h1V1192.7h1V1192.7h1V1192.7h1V1192.7h1V1192.7h1V1188.9h1V1188.9h1V1192.7h1V1188.9h1V1188.9h1V1192.7h1V1194.1h-1V1194.1h-1V1194.1h-1V1194.1h-1V1194.1h-1V1194.1h-1V1194.1h-1V1194.1h-1V1194.1h-1V1194.1h-1V1194.1h-1V1194.1h-1V1194.1h-1V1194.1h-1V1194.1h-1V1194.1h-1V1194.1h-1V1194.1h-1V1194.1h-1V1194.1h-1V1194.1h-1V1194.1h-1V1194.1h-1V1194.1h-1V1194.1h-1V1194.1h-1V1194.1h-1V1194.1h-1V1194.1h-1V1197.9h-1V1194.1h-1V1194.1h-1V1194.1h-1V1194.1h-1V1197.9h-1V1194.1h-1V1194.1h-1V1194.1h-1V1194.1h-1V1194.1h-1V1194.1h-1V1194.1h-1V1197.9h-1V1194.1h-1V1197.9h-1V1194.1h-1V1194.1h-1V1197.9h-1V1194.1h-1V1194.1h-1V1194.1h-1V1194.1h-1V1194.1h-1V1194.1h-1V1194.1h-1V1197.9h-1V1194.1h-1V1194.1h-1V1194.1h-1V1194.1h-1V1194.1h-1V1194.1h-1V1197.9h-1V1197.9h-1V1194.1h-1V1194.1h-1V1194.1h-1V1194.1h-1V1194.1h-1V1197.9h-1V1194.1h-1V1197.9h-1V1194.1h-1V1197.9h-1V1194.1h-1V1194.1h-1V1197.9h-1V1197.9h-1V1197.9h-1V1197.9h-1V1197.9h-1V1194.1h-1V1197.9h-1V1197.9h-1V1197.9h-1V1197.9h-1V1197.9h-1V1197.9h-1V1197.9h-1V1197.9h-1V1197.9h-1V1197.9h-1V1197.9h-1V1197.9h-1V1197.9h-1V1197.9h-1V1197.9h-1V1197.9h-1V1197.9h-1V1197.9h-1V1197.9h-1V1197.9h-1V1197.9h-1V1197.9h-1V1197.9h-1V1197.9h-1V1197.9h-1V1197.9h-1V1197.9h-1V1197.9h-1V1197.9h-1V1197.9h-1V1197.9h-1V1197.9h-1V1197.9h-1V1197.9h-1V1197.9h-1V1197.9h-1V1197.9h-1V1197.9h-1V1197.9h-1V1197.9h-1V1197.9h-1V1197.9h-1V1197.9h-1V1197.9h-1V1201.7h-1V1197.9h-1V1197.9h-1V1197.9h-1V1197.9h-1V1201.7h-1V1197.9h-1V1197.9h-1V1197.9h-1V1197.9h-1V1197.9h-1V1197.9h-1V1197.9h-1V1197.9h-1V1197.9h-1V1201.7h-1V1201.7h-1V1201.7h-1V1197.9h-1V1197.9h-1V1197.9h-1V1201.7h-1V1201.7h-1V1197.9h-1V1201.7h-1V1201.7h-1V1201.7h-1V1201.7h-1V1201.7h-1V1201.7h-1V1201.7h-1V1201.7h-1V1201.7h-1V1201.7h-1V1201.7h-1V1201.7h-1V1201.7h-1V1201.7h-1V1201.7h-1V1201.7h-1V1201.7h-1V1201.7h-1V1201.7h-1V1201.7h-1V1201.7h-1V1201.7h-1V1201.7h-1V1201.7h-1V1201.7h-1V1201.7h-1V1201.7h-1V1201.7h-1V1201.7h-1V1201.7h-1V1201.7h-1V1201.7h-1V1201.7h-1V1201.7h-1V1201.7h-1V1201.7h-1V1201.7h-1V1201.7h-1V1201.7h-1V1205.5h-1V1201.7h-1V1201.7h-1V1201.7h-1V1201.7h-1V1201.7h-1V1201.7h-1V1201.7h-1V1201.7h-1V1205.5h-1V1201.7h-1V1201.7h-1V1201.7h-1V1201.7h-1V1201.7h-1V1201.7h-1V1201.7h-1V1201.7h-1V1201.7h-1V1205.5h-1V1201.7h-1V1205.5h-1V1205.5h-1V1205.5h-1V1201.7h-1V1205.5h-1V1205.5h-1V1205.5h-1V1205.5h-1V1205.5h-1V1205.5h-1V1205.5h-1V1205.5h-1V1205.5h-1V1205.5h-1V1205.5h-1V1205.5h-1V1205.5h-1V1205.5h-1V1205.5h-1V1205.5h-1V1205.5h-1V1205.5h-1V1205.5h-1V1205.5h-1V1205.5h-1V1205.5h-1V1205.5h-1V1205.5h-1V1205.5h-1V1205.5h-1V1205.5h-1V1205.5h-1V1205.5h-1V1205.5h-1V1205.5h-1V1205.5h-1V1205.5h-1V1205.5h-1V1205.5h-1V1205.5h-1V1205.5h-1V1205.5h-1V1205.5h-1V1205.5h-1V1205.5h-1V1205.5h-1V1205.5h-1V1205.5h-1V1209.3h-1V1205.5h-1V1205.5h-1V1205.5h-1V1205.5h-1V1205.5h-1V1205.5h-1V1205.5h-1V1205.5h-1V1205.5h-1V1209.3h-1V1205.5h-1V1209.3h-1V1209.3h-1V1205.5h-1V1205.5h-1V1209.3h-1V1209.3h-1V1209.3h-1V1205.5h-1V1205.5h-1V1205.5h-1V1205.5h-1V1209.3h-1V1209.3h-1V1209.3h-1V1209.3h-1V1209.3h-1V1209.3h-1V1209.3h-1V1209.3h-1V1209.3h-1V1209.3h-1V1209.3h-1V1209.3h-1V1209.3h-1V1205.5h-1V1209.3h-1V1209.3h-1V1209.3h-1V1209.3h-1V1209.3h-1V1209.3h-1V1209.3h-1V1209.3h-1V1209.3h-1V1209.3h-1V1209.3h-1V1209.3h-1V1209.3h-1V1209.3h-1V1209.3h-1V1209.3h-1V1209.3h-1V1209.3h-1V1209.3h-1V1209.3h-1V1209.3h-1V1209.3h-1V1209.3h-1V1209.3h-1V1209.3h-1V1209.3h-1V1209.3h-1V1209.3h-1V1209.3h-1V1209.3h-1V1209.3h-1V1209.3h-1V1209.3h-1V1209.3h-1V1209.3h-1V1209.3h-1V1209.3h-1V1209.3h-1V1209.3h-1V1209.3h-1V1209.3h-1V1209.3h-1V1209.3h-1V1209.3h-1V1209.3h-1V1209.3h-1V1209.3h-1V1209.3h-1V1209.3h-1V1209.3h-1V1209.3h-1V1209.3h-1V1209.3h-1V1209.3h-1V1209.3h-1V1209.3h-1V1209.3h-1V1209.3h-1V1209.3h-1V1209.3h-1V1209.3h-1V1209.3h-1V1209.3h-1V1209.3h-1V1209.3h-1V1209.3h-1V1209.3h-1V1209.3h-1V1209.3h-1V1209.3h-1V1209.3h-1V1213.1h-1V1209.3h-1V1209.3h-1V1209.3h-1V1209.3h-1V1209.3h-1V1209.3h-1V1209.3h-1V1209.3h-1V1209.3h-1V1209.3h-1V1209.3h-1V1209.3h-1V1209.3h-1V1209.3h-1V1209.3h-1V1209.3h-1V1209.3h-1V1209.3h-1V1209.3h-1V1209.3h-1V1209.3h-1V1209.3h-1V1209.3h-1V1213.1h-1V1209.3h-1V1209.3h-1V1209.3h-1V1209.3h-1V1209.3h-1V1209.3h-1V1209.3h-1V1213.1h-1V1213.1h-1V1209.3h-1V1209.3h-1V1209.3h-1V1209.3h-1V1209.3h-1V1209.3h-1V1209.3h-1V1209.3h-1V1209.3h-1V1209.3h-1V1209.3h-1V1213.1h-1V1213.1h-1V1213.1h-1V1209.3h-1V1209.3h-1V1213.1h-1V1213.1h-1V1209.3h-1V1209.3h-1V1209.3h-1V1213.1h-1V1213.1h-1V1213.1h-1V1213.1h-1V1209.3h-1V1213.1h-1V1213.1h-1V1213.1h-1V1213.1h-1V1213.1h-1V1213.1h-1V1213.1h-1V1213.1h-1V1213.1h-1V1213.1h-1V1213.1h-1V1213.1h-1V1213.1h-1V1213.1h-1V1213.1h-1V1213.1h-1V1213.1h-1V1213.1h-1V1213.1h-1V1213.1h-1V1213.1h-1V1213.1h-1V1213.1h-1V1213.1h-1V1213.1h-1V1213.1h-1V1213.1h-1V1213.1h-1V1213.1h-1V1213.1h-1V1213.1h-1V1213.1h-1V1213.1h-1V1213.1h-1V1213.1h-1V1213.1h-1V1213.1h-1V1213.1h-1V1213.1h-1V1213.1h-1V1213.1h-1V1213.1h-1V1213.1h-1V1213.1h-1V1213.1h-1V1213.1h-1V1213.1h-1V1213.1h-1V1213.1h-1V1213.1h-1V1213.1h-1V1213.1h-1V1213.1h-1V1213.1h-1V1213.1h-1V1213.1h-1V1213.1h-1V1213.1h-1V1213.1h-1V1213.1h-1V1213.1h-1V1213.1h-1V1213.1h-1V1213.1h-1V1213.1h-1V1213.1h-1V1213.1h-1V1213.1h-1V1213.1h-1V1213.1h-1V1213.1h-1V1213.1h-1V1213.1h-1V1213.1h-1V1213.1h-1V1213.1h-1V1213.1h-1V1213.1h-1V1213.1h-1V1213.1h-1V1213.1h-1V1213.1h-1V1213.1h-1V1213.1h-1V1213.1h-1V1213.1h-1V1213.1h-1V1213.1h-1V1213.1h-1V1213.1h-1V1213.1h-1V1213.1h-1V1213.1h-1V1213.1h-1V1213.1h-1V1213.1h-1V1213.1h-1V1213.1h-1V1213.1h-1V1213.1h-1V1213.1h-1V1213.1h-1V1213.1h-1V1213.1h-1V1213.1h-1V1213.1h-1V1213.1h-1V1213.1h-1V1213.1h-1V1213.1h-1V1213.1h-1V1213.1h-1V1213.1h-1V1213.1h-1V1213.1h-1V1213.1h-1V1213.1h-1V1213.1h-1V1213.1h-1V1213.1h-1V1213.1h-1V1213.1h-1V1213.1h-1V1213.1h-1V1213.1h-1V1213.1h-1V1213.1h-1V1213.1h-1V1213.1h-1V1213.1h-1V1213.1h-1V1213.1h-1V1213.1h-1V1213.1h-1V1213.1h-1V1213.1h-1V1213.1h-1V1213.1h-1V1213.1h-1V1213.1h-1V1213.1h-1V1213.1h-1V1213.1h-1V1213.1h-1V1213.1h-1V1213.1h-1V1213.1h-1V1213.1h-1V1213.1h-1V1213.1h-1V1213.1h-1V1213.1h-1V1213.1h-1V1213.1h-1V1213.1h-1V1213.1h-1V1213.1h-1V1213.1h-1V1213.1h-1V1213.1h-1V1213.1h-1V1213.1h-1V1213.1h-1V1213.1h-1V1213.1h-1V1213.1h-1V1213.1h-1V1213.1h-1V1213.1h-1V1213.1h-1V1213.1h-1V1213.1h-1V1213.1h-1V1213.1h-1V1213.1h-1V1213.1h-1V1213.1h-1V1213.1h-1V1213.1h-1V1213.1h-1V1213.1h-1V1213.1h-1V1213.1h-1V1213.1h-1V1213.1h-1V1213.1h-1V1213.1h-1V1213.1h-1V1213.1h-1V1213.1h-1V1213.1h-1V1213.1h-1Z" fill="#00ffff"/>
<path d="M166 1104.5h1V1108.3h1V1104.5h1V1104.5h1V1104.5h1V1104.5h1V1104.5h1V1104.5h1V1104.5h1V1100.7h1V1104.5h1V1100.7h1V1100.7h1V1096.9h1V1100.7h1V1100.7h1V1096.9h1V1100.7h1V1096.9h1V1096.9h1V1096.9h1V1096.9h1V1096.9h1V1096.9h1V1096.9h1V1093.1h1V1096.9h1V1096.9h1V1096.9h1V1096.9h1V1096.9h1V1093.1h1V1093.1h1V1096.9h1V1096.9h1V1093.1h1V1096.9h1V1093.1h1V1093.1h1V1093.1h1V1089.3h1V1093.1h1V1093.1h1V1093.1h1V1096.9h1V1093.1h1V1096.9h1V1093.1h1V1089.3h1V1093.1h1V1093.1h1V1093.1h1V1093.1h1V1093.1h1V1089.3h1V1093.1h1V1096.9h1V1093.1h1V1093.1h1V1093.1h1V1093.1h1V1093.1h1V1093.1h1V1093.1h1V1093.1h1V1093.1h1V1093.1h1V1089.3h1V1096.9h1V1093.1h1V1093.1h1V1093.1h1V1093.1h1V1093.1h1V1093.1h1V1093.1h1V1093.1h1V1089.3h1V1093.1h1V1089.3h1V1093.1h1V1093.1h1V1093.1h1V1093.1h1V1093.1h1V1089.3h1V1093.1h1V1093.1h1V1093.1h1V1093.1h1V1093.1h1V1093.1h1V1093.1h1V1093.1h1V1093.1h1V1093.1h1V1093.1h1V1093.1h1V1093.1h1V1093.1h1V1093.1h1V1093.1h1V1089.3h1V1089.3h1V1093.1h1V1093.1h1V1093.1h1V1089.3h1V1093.1h1V1093.1h1V1093.1h1V1089.3h1V1093.1h1V1093.1h1V1093.1h1V1093.1h1V1093.1h1V1093.1h1V1093.1h1V1093.1h1V1093.1h1V1093.1h1V1089.3h1V1093.1h1V1093.1h1V1093.1h1V1093.1h1V1093.1h1V1096.9h1V1093.1h1V1089.3h1V1093.1h1V1093.1h1V1096.9h1V1093.1h1V1093.1h1V1093.1h1V1093.1h1V1093.1h1V1093.1h1V1093.1h1V1089.3h1V1093.1h1V1093.1h1V1089.3h1V1093.1h1V1093.1h1V1093.1h1V1089.3h1V1093.1h1V1093.1h1V1093.1h1V1093.1h1V1093.1h1V1093.1h1V1093.1h1V1093.1h1V1093.1h1V1093.1h1V1093.1h1V1093.1h1V1093.1h1V1096.9h1V1089.3h1V1093.1h1V1089.3h1V1093.1h1V1093.1h1V1093.1h1V1093.1h1V1093.1h1V1093.1h1V1093.1h1V1089.3h1V1096.9h1V1089.3h1V1089.3h1V1093.1h1V1093.1h1V1093.1h1V1093.1h1V1089.3h1V1093.1h1V1093.1h1V1096.9h1V1093.1h1V1093.1h1V1093.1h1V1093.1h1V1093.1h1V1093.1h1V1093.1h1V1093.1h1V1093.1h1V1093.1h1V1093.1h1V1093.1h1V1093.1h1V1093.1h1V1089.3h1V1093.1h1V1093.1h1V1093.1h1V1093.1h1V1093.1h1V1093.1h1V1093.1h1V1096.9h1V1093.1h1V1093.1h1V1093.1h1V1093.1h1V1093.1h1V1093.1h1V1093.1h1V1093.1h1V1093.1h1V1093.1h1V1093.1h1V1089.3h1V1093.1h1V1093.1h1V1093.1h1V1096.9h1V1093.1h1V1096.9h1V1093.1h1V1093.1h1V1093.1h1V1093.1h1V1093.1h1V1093.1h1V1093.1h1V1093.1h1V1093.1h1V1093.1h1V1093.1h1V1093.1h1V1089.3h1V1093.1h1V1093.1h1V1093.1h1V1093.1h1V1093.1h1V1093.1h1V1093.1h1V1093.1h1V1093.1h1V1093.1h1V1093.1h1V1093.1h1V1093.1h1V1093.1h1V1093.1h1V1093.1h1V1093.1h1V1093.1h1V1093.1h1V1093.1h1V1093.1h1V1096.9h1V1089.3h1V1093.1h1V1089.3h1V1093.1h1V1093.1h1V1093.1h1V1093.1h1V1089.3h1V1093.1h1V1093.1h1V1093.1h1V1089.3h1V1093.1h1V1093.1h1V1093.1h1V1093.1h1V1093.1h1V1093.1h1V1093.1h1V1093.1h1V1093.1h1V1089.3h1V1093.1h1V1093.1h1V1093.1h1V1093.1h1V1093.1h1V1093.1h1V1093.1h1V1093.1h1V1093.1h1V1093.1h1V1089.3h1V1093.1h1V1093.1h1V1093.1h1V1093.1h1V1093.1h1V1093.1h1V1093.1h1V1093.1h1V1093.1h1V1093.1h1V1093.1h1V1093.1h1V1093.1h1V1093.1h1V1093.1h1V1093.1h1V1096.9h1V1089.3h1V1093.1h1V1093.1h1V1093.1h1V1093.1h1V1093.1h1V1093.1h1V1093.1h1V1093.1h1V1093.1h1V1093.1h1V1093.1h1V1093.1h1V1093.1h1V1089.3h1V1089.3h1V1093.1h1V1093.1h1V1093.1h1V1093.1h1V1093.1h1V1093.1h1V1093.1h1V1093.1h1V1093.1h1V1089.3h1V1093.1h1V1093.1h1V1093.1h1V1093.1h1V1093.1h1V1093.1h1V1093.1h1V1089.3h1V1093.1h1V1093.1h1V1093.1h1V1093.1h1V1096.9h1V1089.3h1V1093.1h1V1093.1h1V1093.1h1V1093.1h1V1093.1h1V1093.1h1V1093.1h1V1093.1h1V1102.5h-1V1102.5h-1V1098.7h-1V1098.7h-1V1098.7h-1V1102.5h-1V1098.7h-1V1102.5h-1V1098.7h-1V1102.5h-1V1102.5h-1V1098.7h-1V1098.7h-1V1098.7h-1V1098.7h-1V1102.5h-1V1098.7h-1V1102.5h-1V1098.7h-1V1102.5h-1V1098.7h-1V1098.7h-1V1098.7h-1V1102.5h-1V1098.7h-1V1102.5h-1V1098.7h-1V1098.7h-1V1098.7h-1V1098.7h-1V1098.7h-1V1098.7h-1V1098.7h-1V1098.7h-1V1098.7h-1V1098.7h-1V1102.5h-1V1102.5h-1V1102.5h-1V1098.7h-1V1098.7h-1V1098.7h-1V1098.7h-1V1098.7h-1V1102.5h-1V1102.5h-1V1098.7h-1V1102.5h-1V1098.7h-1V1098.7h-1V1102.5h-1V1098.7h-1V1098.7h-1V1098.7h-1V1098.7h-1V1102.5h-1V1098.7h-1V1098.7h-1V1102.5h-1V1102.5h-1V1098.7h-1V1098.7h-1V1098.7h-1V1102.5h-1V1098.7h-1V1098.7h-1V1102.5h-1V1102.5h-1V1098.7h-1V1098.7h-1V1098.7h-1V1098.7h-1V1102.5h-1V1098.7h-1V1102.5h-1V1098.7h-1V1098.7h-1V1098.7h-1V1098.7h-1V1098.7h-1V1098.7h-1V1102.5h-1V1098.7h-1V1098.7h-1V1098.7h-1V1098.7h-1V1102.5h-1V1102.5h-1V1098.7h-1V1098.7h-1V1098.7h-1V1098.7h-1V1102.5h-1V1098.7h-1V1098.7h-1V1098.7h-1V1098.7h-1V1098.7h-1V1098.7h-1V1098.7h-1V1102.5h-1V1098.7h-1V1098.7h-1V1098.7h-1V1102.5h-1V1098.7h-1V1098.7h-1V1098.7h-1V1098.7h-1V1098.7h-1V1098.7h-1V1098.7h-1V1098.7h-1V1098.7h-1V1102.5h-1V1098.7h-1V1098.7h-1V1098.7h-1V1102.5h-1V1098.7h-1V1098.7h-1V1098.7h-1V1098.7h-1V1098.7h-1V1098.7h-1V1098.7h-1V1102.5h-1V1098.7h-1V1098.7h-1V1098.7h-1V1098.7h-1V1098.7h-1V1098.7h-1V1102.5h-1V1098.7h-1V1098.7h-1V1098.7h-1V1098.7h-1V1098.7h-1V1102.5h-1V1102.5h-1V1098.7h-1V1098.7h-1V1102.5h-1V1098.7h-1V1098.7h-1V1098.7h-1V1098.7h-1V1098.7h-1V1098.7h-1V1098.7h-1V1102.5h-1V1098.7h-1V1102.5h-1V1098.7h-1V1098.7h-1V1098.7h-1V1098.7h-1V1098.7h-1V1094.9h-1V1102.5h-1V1102.5h-1V1098.7h-1V1102.5h-1V1102.5h-1V1098.7h-1V1098.7h-1V1098.7h-1V1098.7h-1V1098.7h-1V1098.7h-1V1102.5h-1V1098.7h-1V1098.7h-1V1102.5h-1V1102.5h-1V1098.7h-1V1102.5h-1V1098.7h-1V1098.7h-1V1102.5h-1V1102.5h-1V1098.7h-1V1102.5h-1V1102.5h-1V1102.5h-1V1098.7h-1V1098.7h-1V1102.5h-1V1098.7h-1V1098.7h-1V1102.5h-1V1098.7h-1V1098.7h-1V1102.5h-1V1098.7h-1V1102.5h-1V1098.7h-1V1098.7h-1V1098.7h-1V1102.5h-1V1102.5h-1V1098.7h-1V1098.7h-1V1098.7h-1V1098.7h-1V1098.7h-1V1098.7h-1V1098.7h-1V1098.7h-1V1102.5h-1V1098.7h-1V1102.5h-1V1098.7h-1V1102.5h-1V1098.7h-1V1102.5h-1V1098.7h-1V1102.5h-1V1098.7h-1V1098.7h-1V1098.7h-1V1098.7h-1V1098.7h-1V1098.7h-1V1098.7h-1V1098.7h-1V1098.7h-1V1098.7h-1V1098.7h-1V1098.7h-1V1102.5h-1V1098.7h-1V1098.7h-1V1102.5h-1V1098.7h-1V1098.7h-1V1098.7h-1V1102.5h-1V1102.5h-1V1098.7h-1V1102.5h-1V1098.7h-1V1098.7h-1V1098.7h-1V1098.7h-1V1098.7h-1V1098.7h-1V1098.7h-1V1098.7h-1V1098.7h-1V1098.7h-1V1102.5h-1V1102.5h-1V1102.5h-1V1098.7h-1V1102.5h-1V1098.7h-1V1098.7h-1V1102.5h-1V1102.5h-1V1098.7h-1V1102.5h-1V1098.7h-1V1098.7h-1V1102.5h-1V1102.5h-1V1098.7h-1V1102.5h-1V1098.7h-1V1098.7h-1V1098.7h-1V1098.7h-1V1098.7h-1V1098.7h-1V1098.7h-1V1098.7h-1V1098.7h-1V1102.5h-1V1098.7h-1V1102.5h-1V1098.7h-1V1098.7h-1V1098.7h-1V1098.7h-1V1098.7h-1V1098.7h-1V1098.7h-1V1098.7h-1V1098.7h-1V1098.7h-1V1098.7h-1V1098.7h-1V1098.7h-1V1098.7h-1V1098.7h-1V1102.5h-1V1102.5h-1V1102.5h-1V1098.7h-1V1102.5h-1V1102.5h-1V1098.7h-1V1102.5h-1V1098.7h-1V1098.7h-1V1098.7h-1V1094.9h-1V1102.5h-1V1102.5h-1V1102.5h-1V1102.5h-1V1102.5h-1V1098.7h-1V1102.5h-1V1098.7h-1V1098.7h-1V1102.5h-1V1102.5h-1V1102.5h-1V1102.5h-1V1102.5h-1V1106.3h-1V1106.3h-1V1102.5h-1V1102.5h-1V1102.5h-1V1106.3h-1V1102.5h-1V1102.5h-1V1102.5h-1V1102.5h-1V1106.3h-1V1102.5h-1V1106.3h-1V1102.5h-1V1106.3h-1V1106.3h-1V1106.3h-1V1102.5h-1V1106.3h-1V1106.3h-1V1106.3h-1V1106.3h-1V1106.3h-1V1110.1h-1V1110.1h-1V1106.3h-1V1110.1h-1V1110.1h-1V1110.1h-1V1110.1h-1V1110.1h-1V1113.9h-1V1110.1h-1V1113.9h-1V1113.9h-1V1117.7h-1V1113.9h-1Z" fill="#00ff00"/>
<path d="M536 1093.1h1V1093.1h1V1093.1h1V1093.1h1V1093.1h1V1093.1h1V1093.1h1V1093.1h1V1093.1h1V1093.1h1V1093.1h1V1093.1h1V1093.1h1V1093.1h1V1089.3h1V1089.3h1V1089.3h1V1093.1h1V1089.3h1V1093.1h1V1093.1h1V1093.1h1V1093.1h1V1089.3h1V1093.1h1V1089.3h1V1093.1h1V1093.1h1V1089.3h1V1093.1h1V1089.3h1V1093.1h1V1089.3h1V1089.3h1V1093.1h1V1089.3h1V1089.3h1V1093.1h1V1093.1h1V1093.1h1V1093.1h1V1089.3h1V1089.3h1V1093.1h1V1093.1h1V1093.1h1V1093.1h1V1089.3h1V1089.3h1V1093.1h1V1089.3h1V1093.1h1V1089.3h1V1093.1h1V1089.3h1V1093.1h1V1093.1h1V1093.1h1V1093.1h1V1093.1h1V1089.3h1V1093.1h1V1089.3h1V1089.3h1V1093.1h1V1093.1h1V1093.1h1V1093.1h1V1093.1h1V1093.1h1V1093.1h1V1093.1h1V1093.1h1V1089.3h1V1093.1h1V1093.1h1V1093.1h1V1089.3h1V1093.1h1V1093.1h1V1093.1h1V1093.1h1V1089.3h1V1089.3h1V1093.1h1V1089.3h1V1093.1h1V1089.3h1V1093.1h1V1089.3h1V1093.1h1V1089.3h1V1089.3h1V1089.3h1V1089.3h1V1089.3h1V1093.1h1V1089.3h1V1089.3h1V1089.3h1V1089.3h1V1089.3h1V1093.1h1V1089.3h1V1089.3h1V1093.1h1V1093.1h1V1093.1h1V1089.3h1V1093.1h1V1089.3h1V1089.3h1V1093.1h1V1089.3h1V1089.3h1V1089.3h1V1089.3h1V1089.3h1V1089.3h1V1089.3h1V1093.1h1V1089.3h1V1093.1h1V1093.1h1V1089.3h1V1093.1h1V1089.3h1V1089.3h1V1093.1h1V1093.1h1V1093.1h1V1089.3h1V1093.1h1V1089.3h1V1093.1h1V1089.3h1V1089.3h1V1089.3h1V1089.3h1V1089.3h1V1089.3h1V1093.1h1V1089.3h1V1089.3h1V1089.3h1V1089.3h1V1093.1h1V1089.3h1V1089.3h1V1089.3h1V1093.1h1V1089.3h1V1093.1h1V1089.3h1V1089.3h1V1089.3h1V1089.3h1V1093.1h1V1089.3h1V1085.5h1V1089.3h1V1093.1h1V1089.3h1V1089.3h1V1089.3h1V1089.3h1V1089.3h1V1089.3h1V1089.3h1V1089.3h1V1089.3h1V1089.3h1V1085.5h1V1089.3h1V1093.1h1V1089.3h1V1089.3h1V1089.3h1V1085.5h1V1089.3h1V1089.3h1V1089.3h1V1089.3h1V1093.1h1V1089.3h1V1089.3h1V1089.3h1V1089.3h1V1093.1h1V1089.3h1V1089.3h1V1089.3h1V1089.3h1V1089.3h1V1089.3h1V1089.3h1V1089.3h1V1089.3h1V1089.3h1V1089.3h1V1089.3h1V1089.3h1V1089.3h1V1085.5h1V1089.3h1V1089.3h1V1085.5h1V1089.3h1V1089.3h1V1089.3h1V1089.3h1V1089.3h1V1089.3h1V1089.3h1V1089.3h1V1089.3h1V1089.3h1V1089.3h1V1089.3h1V1085.5h1V1085.5h1V1085.5h1V1089.3h1V1089.3h1V1089.3h1V1089.3h1V1085.5h1V1089.3h1V1089.3h1V1085.5h1V1085.5h1V1089.3h1V1085.5h1V1081.7h1V1089.3h1V1081.7h1V1085.5h1V1085.5h1V1089.3h1V1085.5h1V1089.3h1V1085.5h1V1085.5h1V1085.5h1V1085.5h1V1089.3h1V1089.3h1V1085.5h1V1085.5h1V1089.3h1V1085.5h1V1085.5h1V1085.5h1V1085.5h1V1085.5h1V1085.5h1V1085.5h1V1085.5h1V1081.7h1V1085.5h1V1081.7h1V1085.5h1V1085.5h1V1085.5h1V1081.7h1V1085.5h1V1085.5h1V1081.7h1V1081.7h1V1085.5h1V1089.3h1V1085.5h1V1085.5h1V1081.7h1V1085.5h1V1085.5h1V1081.7h1V1085.5h1V1085.5h1V1085.5h1V1081.7h1V1085.5h1V1085.5h1V1081.7h1V1085.5h1V1081.7h1V1081.7h1V1081.7h1V1085.5h1V1085.5h1V1085.5h1V1081.7h1V1085.5h1V1081.7h1V1085.5h1V1085.5h1V1081.7h1V1085.5h1V1085.5h1V1081.7h1V1081.7h1V1081.7h1V1081.7h1V1081.7h1V1081.7h1V1081.7h1V1077.9h1V1081.7h1V1081.7h1V1081.7h1V1085.5h1V1081.7h1V1081.7h1V1081.7h1V1081.7h1V1077.9h1V1081.7h1V1081.7h1V1081.7h1V1081.7h1V1081.7h1V1081.7h1V1081.7h1V1081.7h1V1081.7h1V1081.7h1V1081.7h1V1085.5h1V1081.7h1V1081.7h1V1081.7h1V1081.7h1V1077.9h1V1081.7h1V1081.7h1V1081.7h1V1081.7h1V1077.9h1V1081.7h1V1077.9h1V1081.7h1V1081.7h1V1077.9h1V1077.9h1V1081.7h1V1077.9h1V1081.7h1V1081.7h1V1081.7h1V1077.9h1V1081.7h1V1077.9h1V1081.7h1V1077.9h1V1077.9h1V1077.9h1V1077.9h1V1077.9h1V1077.9h1V1077.9h1V1077.9h1V1077.9h1V1077.9h1V1074.1h1V1077.9h1V1077.9h1V1077.9h1V1077.9h1V1077.9h1V1081.7h1V1081.7h1V1077.9h1V1077.9h1V1077.9h1V1077.9h1V1081.7h1V1081.7h1V1077.9h1V1081.7h1V1077.9h1V1077.9h1V1077.9h1V1077.9h1V1077.9h1V1077.9h1V1077.9h1V1077.9h1V1081.7h1V1077.9h1V1077.9h1V1077.9h1V1077.9h1V1077.9h1V1081.7h1V1077.9h1V1077.9h1V1077.9h1V1077.9h1V1077.9h1V1077.9h1V1077.9h1V1077.9h1V1077.9h1V1077.9h1V1077.9h1V1077.9h1V1077.9h1V1077.9h1V1077.9h1V1077.9h1V1077.9h1V1077.9h1V1077.9h1V1077.9h1V1077.9h1V1077.9h1V1077.9h1V1081.7h1V1077.9h1V1077.9h1V1077.9h1V1077.9h1V1077.9h1V1077.9h1V1077.9h1V1077.9h1V1077.9h1V1077.9h1V1074.1h1V1077.9h1V1077.9h1V1077.9h1V1077.9h1V1077.9h1V1077.9h1V1077.9h1V1077.9h1V1070.3h1V1077.9h1V1077.9h1V1077.9h1V1077.9h1V1077.9h1V1077.9h1V1074.1h1V1077.9h1V1077.9h1V1077.9h1V1077.9h1V1077.9h1V1077.9h1V1077.9h1V1077.9h1V1077.9h1V1074.1h1V1077.9h1V1077.9h1V1077.9h1V1074.1h1V1074.1h1V1074.1h1V1077.9h1V1077.9h1V1077.9h1V1077.9h1V1077.9h1V1077.9h1V1077.9h1V1077.9h1V1074.1h1V1077.9h1V1074.1h1V1074.1h1V1074.1h1V1077.9h1V1077.9h1V1077.9h1V1074.1h1V1074.1h1V1077.9h1V1077.9h1V1077.9h1V1074.1h1V1074.1h1V1074.1h1V1074.1h1V1074.1h1V1077.9h1V1074.1h1V1077.9h1V1074.1h1V1074.1h1V1074.1h1V1074.1h1V1074.1h1V1077.9h1V1077.9h1V1074.1h1V1077.9h1V1074.1h1V1077.9h1V1074.1h1V1077.9h1V1074.1h1V1074.1h1V1074.1h1V1074.1h1V1074.1h1V1074.1h1V1074.1h1V1074.1h1V1074.1h1V1074.1h1V1074.1h1V1074.1h1V1077.9h1V1074.1h1V1074.1h1V1074.1h1V1074.1h1V1074.1h1V1074.1h1V1074.1h1V1074.1h1V1074.1h1V1074.1h1V1074.1h1V1074.1h1V1074.1h1V1070.3h1V1070.3h1V1074.1h1V1074.1h1V1070.3h1V1074.1h1V1074.1h1V1070.3h1V1074.1h1V1074.1h1V1070.3h1V1074.1h1V1070.3h1V1070.3h1V1070.3h1V1074.1h1V1070.3h1V1070.3h1V1070.3h1V1070.3h1V1070.3h1V1070.3h1V1070.3h1V1070.3h1V1070.3h1V1070.3h1V1070.3h1V1070.3h1V1070.3h1V1066.5h1V1070.3h1V1066.5h1V1070.3h1V1070.3h1V1070.3h1V1070.3h1V1070.3h1V1070.3h1V1070.3h1V1074.1h1V1066.5h1V1070.3h1V1070.3h1V1074.1h1V1074.1h1V1070.3h1V1070.3h1V1070.3h1V1066.5h1V1066.5h1V1070.3h1V1070.3h1V1074.1h1V1070.3h1V1070.3h1V1070.3h1V1074.1h1V1070.3h1V1070.3h1V1070.3h1V1070.3h1V1070.3h1V1070.3h1V1070.3h1V1070.3h1V1070.3h1V1070.3h1V1070.3h1V1070.3h1V1070.3h1V1070.3h1V1070.3h1V1070.3h1V1070.3h1V1066.5h1V1070.3h1V1070.3h1V1070.3h1V1070.3h1V1070.3h1V1066.5h1V1066.5h1V1070.3h1V1066.5h1V1070.3h1V1066.5h1V1070.3h1V1070.3h1V1070.3h1V1075.9h-1V1075.9h-1V1075.9h-1V1075.9h-1V1079.7h-1V1072.1h-1V1075.9h-1V1075.9h-1V1075.9h-1V1075.9h-1V1075.9h-1V1075.9h-1V1075.9h-1V1079.7h-1V1075.9h-1V1075.9h-1V1075.9h-1V1075.9h-1V1075.9h-1V1079.7h-1V1075.9h-1V1075.9h-1V1075.9h-1V1075.9h-1V1075.9h-1V1075.9h-1V1075.9h-1V1075.9h-1V1075.9h-1V1079.7h-1V1075.9h-1V1075.9h-1V1079.7h-1V1079.7h-1V1075.9h-1V1079.7h-1V1075.9h-1V1075.9h-1V1075.9h-1V1075.9h-1V1075.9h-1V1075.9h-1V1075.9h-1V1075.9h-1V1075.9h-1V1075.9h-1V1079.7h-1V1075.9h-1V1075.9h-1V1079.7h-1V1079.7h-1V1075.9h-1V1075.9h-1V1075.9h-1V1079.7h-1V1075.9h-1V1075.9h-1V1079.7h-1V1075.9h-1V1079.7h-1V1075.9h-1V1075.9h-1V1079.7h-1V1075.9h-1V1075.9h-1V1075.9h-1V1075.9h-1V1079.7h-1V1075.9h-1V1075.9h-1V1075.9h-1V1075.9h-1V1079.7h-1V1079.7h-1V1079.7h-1V1079.7h-1V1079.7h-1V1079.7h-1V1075.9h-1V1079.7h-1V1079.7h-1V1079.7h-1V1079.7h-1V1075.9h-1V1075.9h-1V1079.7h-1V1079.7h-1V1075.9h-1V1079.7h-1V1083.5h-1V1079.7h-1V1079.7h-1V1079.7h-1V1083.5h-1V1083.5h-1V1079.7h-1V1079.7h-1V1079.7h-1V1083.5h-1V1079.7h-1V1083.5h-1V1079.7h-1V1079.7h-1V1079.7h-1V1075.9h-1V1079.7h-1V1079.7h-1V1079.7h-1V1079.7h-1V1083.5h-1V1083.5h-1V1083.5h-1V1083.5h-1V1083.5h-1V1083.5h-1V1079.7h-1V1083.5h-1V1087.3h-1V1083.5h-1V1083.5h-1V1079.7h-1V1079.7h-1V1083.5h-1V1079.7h-1V1083.5h-1V1079.7h-1V1083.5h-1V1079.7h-1V1079.7h-1V1083.5h-1V1083.5h-1V1083.5h-1V1087.3h-1V1079.7h-1V1083.5h-1V1083.5h-1V1083.5h-1V1083.5h-1V1083.5h-1V1079.7h-1V1079.7h-1V1083.5h-1V1083.5h-1V1083.5h-1V1083.5h-1V1083.5h-1V1083.5h-1V1083.5h-1V1083.5h-1V1083.5h-1V1083.5h-1V1083.5h-1V1087.3h-1V1083.5h-1V1083.5h-1V1083.5h-1V1083.5h-1V1079.7h-1V1083.5h-1V1083.5h-1V1083.5h-1V1079.7h-1V1083.5h-1V1083.5h-1V1083.5h-1V1083.5h-1V1083.5h-1V1083.5h-1V1083.5h-1V1083.5h-1V1083.5h-1V1083.5h-1V1083.5h-1V1083.5h-1V1083.5h-1V1087.3h-1V1083.5h-1V1083.5h-1V1083.5h-1V1083.5h-1V1083.5h-1V1083.5h-1V1083.5h-1V1087.3h-1V1083.5h-1V1083.5h-1V1087.3h-1V1083.5h-1V1083.5h-1V1083.5h-1V1083.5h-1V1083.5h-1V1087.3h-1V1087.3h-1V1083.5h-1V1083.5h-1V1083.5h-1V1083.5h-1V1087.3h-1V1083.5h-1V1087.3h-1V1083.5h-1V1083.5h-1V1083.5h-1V1087.3h-1V1087.3h-1V1083.5h-1V1083.5h-1V1083.5h-1V1083.5h-1V1087.3h-1V1087.3h-1V1083.5h-1V1083.5h-1V1087.3h-1V1083.5h-1V1087.3h-1V1083.5h-1V1083.5h-1V1083.5h-1V1083.5h-1V1083.5h-1V1083.5h-1V1087.3h-1V1087.3h-1V1083.5h-1V1087.3h-1V1087.3h-1V1087.3h-1V1087.3h-1V1083.5h-1V1083.5h-1V1083.5h-1V1083.5h-1V1087.3h-1V1091.1h-1V1087.3h-1V1087.3h-1V1083.5h-1V1087.3h-1V1083.5h-1V1087.3h-1V1083.5h-1V1083.5h-1V1087.3h-1V1083.5h-1V1087.3h-1V1083.5h-1V1083.5h-1V1087.3h-1V1083.5h-1V1087.3h-1V1087.3h-1V1087.3h-1V1083.5h-1V1083.5h-1V1087.3h-1V1087.3h-1V1087.3h-1V1087.3h-1V1083.5h-1V1087.3h-1V1087.3h-1V1083.5h-1V1083.5h-1V1087.3h-1V1083.5h-1V1087.3h-1V1087.3h-1V1087.3h-1V1083.5h-1V1087.3h-1V1087.3h-1V1087.3h-1V1087.3h-1V1087.3h-1V1087.3h-1V1087.3h-1V1083.5h-1V1087.3h-1V1087.3h-1V1087.3h-1V1087.3h-1V1087.3h-1V1087.3h-1V1091.1h-1V1087.3h-1V1091.1h-1V1087.3h-1V1087.3h-1V1091.1h-1V1087.3h-1V1087.3h-1V1087.3h-1V1087.3h-1V1087.3h-1V1087.3h-1V1087.3h-1V1091.1h-1V1091.1h-1V1091.1h-1V1087.3h-1V1091.1h-1V1087.3h-1V1091.1h-1V1091.1h-1V1087.3h-1V1091.1h-1V1087.3h-1V1091.1h-1V1091.1h-1V1091.1h-1V1091.1h-1V1087.3h-1V1091.1h-1V1091.1h-1V1091.1h-1V1087.3h-1V1091.1h-1V1091.1h-1V1091.1h-1V1091.1h-1V1091.1h-1V1091.1h-1V1091.1h-1V1094.9h-1V1091.1h-1V1091.1h-1V1091.1h-1V1091.1h-1V1091.1h-1V1091.1h-1V1091.1h-1V1094.9h-1V1091.1h-1V1091.1h-1V1091.1h-1V1091.1h-1V1091.1h-1V1091.1h-1V1094.9h-1V1091.1h-1V1091.1h-1V1091.1h-1V1091.1h-1V1091.1h-1V1091.1h-1V1091.1h-1V1091.1h-1V1091.1h-1V1094.9h-1V1094.9h-1V1091.1h-1V1091.1h-1V1094.9h-1V1091.1h-1V1094.9h-1V1094.9h-1V1094.9h-1V1091.1h-1V1091.1h-1V1091.1h-1V1091.1h-1V1094.9h-1V1094.9h-1V1091.1h-1V1091.1h-1V1094.9h-1V1091.1h-1V1094.9h-1V1094.9h-1V1091.1h-1V1094.9h-1V1094.9h-1V1094.9h-1V1094.9h-1V1091.1h-1V1094.9h-1V1094.9h-1V1098.7h-1V1094.9h-1V1094.9h-1V1094.9h-1V1094.9h-1V1091.1h-1V1094.9h-1V1094.9h-1V1091.1h-1V1094.9h-1V1094.9h-1V1091.1h-1V1094.9h-1V1094.9h-1V1094.9h-1V1094.9h-1V1094.9h-1V1091.1h-1V1091.1h-1V1094.9h-1V1094.9h-1V1094.9h-1V1094.9h-1V1098.7h-1V1094.9h-1V1094.9h-1V1094.9h-1V1094.9h-1V1094.9h-1V1094.9h-1V1094.9h-1V1098.7h-1V1094.9h-1V1094.9h-1V1094.9h-1V1094.9h-1V1098.7h-1V1098.7h-1V1098.7h-1V1094.9h-1V1094.9h-1V1094.9h-1V1094.9h-1V1102.5h-1V1098.7h-1V1098.7h-1V1094.9h-1V1094.9h-1V1098.7h-1V1094.9h-1V1094.9h-1V1098.7h-1V1094.9h-1V1098.7h-1V1098.7h-1V1094.9h-1V1094.9h-1V1094.9h-1V1098.7h-1V1094.9h-1V1094.9h-1V1098.7h-1V1094.9h-1V1094.9h-1V1098.7h-1V1098.7h-1V1094.9h-1V1098.7h-1V1098.7h-1V1094.9h-1V1094.9h-1V1098.7h-1V1094.9h-1V1098.7h-1V1094.9h-1V1094.9h-1V1098.7h-1V1094.9h-1V1098.7h-1V1098.7h-1V1098.7h-1V1098.7h-1V1102.5h-1V1098.7h-1V1098.7h-1V1094.9h-1V1098.7h-1V1098.7h-1V1098.7h-1V1098.7h-1V1098.7h-1V1098.7h-1V1098.7h-1V1094.9h-1V1098.7h-1V1098.7h-1V1098.7h-1V1094.9h-1V1098.7h-1V1094.9h-1V1098.7h-1V1098.7h-1V1098.7h-1V1098.7h-1V1098.7h-1V1098.7h-1V1098.7h-1V1098.7h-1V1098.7h-1V1098.7h-1V1098.7h-1V1094.9h-1V1098.7h-1V1098.7h-1V1098.7h-1V1098.7h-1V1098.7h-1V1098.7h-1V1098.7h-1V1098.7h-1V1098.7h-1V1098.7h-1V1098.7h-1V1098.7h-1V1098.7h-1V1098.7h-1V1098.7h-1V1098.7h-1V1094.9h-1V1098.7h-1V1098.7h-1V1098.7h-1V1098.7h-1V1098.7h-1V1098.7h-1V1098.7h-1V1098.7h-1V1098.7h-1V1098.7h-1V1098.7h-1V1094.9h-1V1102.5h-1V1098.7h-1V1098.7h-1V1098.7h-1V1094.9h-1V1098.7h-1V1098.7h-1V1098.7h-1V1098.7h-1V1098.7h-1V1094.9h-1V1098.7h-1V1102.5h-1V1102.5h-1V1094.9h-1V1098.7h-1V1098.7h-1V1102.5h-1V1098.7h-1V1098.7h-1V1098.7h-1V1098.7h-1V1098.7h-1V1098.7h-1V1102.5h-1V1098.7h-1V1098.7h-1V1098.7h-1V1098.7h-1V1098.7h-1V1098.7h-1V1098.7h-1V1098.7h-1V1098.7h-1V1098.7h-1V1098.7h-1V1098.7h-1V1098.7h-1V1098.7h-1V1098.7h-1V1098.7h-1V1098.7h-1V1098.7h-1V1098.7h-1V1098.7h-1V1094.9h-1V1098.7h-1V1098.7h-1V1098.7h-1V1098.7h-1V1098.7h-1V1098.7h-1V1102.5h-1V1098.7h-1V1098.7h-1V1098.7h-1V1098.7h-1V1098.7h-1V1098.7h-1V1098.7h-1V1102.5h-1V1098.7h-1V1098.7h-1V1098.7h-1V1098.7h-1V1098.7h-1V1098.7h-1V1102.5h-1V1098.7h-1V1098.7h-1V1098.7h-1V1098.7h-1V1098.7h-1V1098.7h-1V1098.7h-1V1098.7h-1V1098.7h-1V1098.7h-1V1098.7h-1V1098.7h-1V1098.7h-1V1098.7h-1V1098.7h-1V1098.7h-1V1098.7h-1V1102.5h-1V1098.7h-1V1098.7h-1V1098.7h-1V1098.7h-1V1098.7h-1V1098.7h-1V1098.7h-1V1102.5h-1V1102.5h-1V1098.7h-1V1098.7h-1V1098.7h-1Z" fill="#00ff00"/>
<path d="M166 1201h1V1201h1V1204.8h1V1201h1V1201h1V1201h1V1201h1V1204.8h1V1201h1V1201h1V1201h1V1201h1V1201h1V1201h1V1201h1V1201h1V1201h1V1204.8h1V1201h1V1204.8h1V1201h1V1201h1V1201h1V1201h1V1201h1V1201h1V1201h1V1204.8h1V1201h1V1201h1V1201h1V1201h1V1201h1V1204.8h1V1201h1V1201h1V1204.8h1V1201h1V1201h1V1201h1V1201h1V1201h1V1201h1V1204.8h1V1201h1V1201h1V1201h1V1201h1V1201h1V1201h1V1201h1V1204.8h1V1201h1V1204.8h1V1204.8h1V1201h1V1201h1V1201h1V1204.8h1V1204.8h1V1201h1V1201h1V1204.8h1V1204.8h1V1204.8h1V1201h1V1201h1V1204.8h1V1204.8h1V1201h1V1201h1V1204.8h1V1204.8h1V1204.8h1V1204.8h1V1204.8h1V1204.8h1V1204.8h1V1204.8h1V1201h1V1201h1V1204.8h1V1204.8h1V1204.8h1V1201h1V1204.8h1V1204.8h1V1204.8h1V1204.8h1V1204.8h1V1204.8h1V1204.8h1V1204.8h1V1204.8h1V1204.8h1V1204.8h1V1204.8h1V1204.8h1V1201h1V1204.8h1V1204.8h1V1204.8h1V1204.8h1V1204.8h1V1204.8h1V1204.8h1V1204.8h1V1204.8h1V1204.8h1V1204.8h1V1204.8h1V1204.8h1V1204.8h1V1204.8h1V1204.8h1V1204.8h1V1204.8h1V1204.8h1V1204.8h1V1204.8h1V1208.6h1V1204.8h1V1204.8h1V1204.8h1V1204.8h1V1208.6h1V1208.6h1V1208.6h1V1208.6h1V1208.6h1V1208.6h1V1208.6h1V1208.6h1V1204.8h1V1208.6h1V1208.6h1V1208.6h1V1208.6h1V1208.6h1V1208.6h1V1208.6h1V1208.6h1V1208.6h1V1208.6h1V1208.6h1V1208.6h1V1208.6h1V1208.6h1V1208.6h1V1208.6h1V1208.6h1V1208.6h1V1208.6h1V1208.6h1V1212.4h1V1212.4h1V1208.6h1V1208.6h1V1212.4h1V1208.6h1V1212.4h1V1208.6h1V1208.6h1V1212.4h1V1212.4h1V1208.6h1V1212.4h1V1212.4h1V1212.4h1V1212.4h1V1208.6h1V1212.4h1V1208.6h1V1212.4h1V1212.4h1V1212.4h1V1212.4h1V1212.4h1V1208.6h1V1212.4h1V1212.4h1V1212.4h1V1212.4h1V1212.4h1V1212.4h1V1212.4h1V1208.6h1V1212.4h1V1212.4h1V1212.4h1V1212.4h1V1212.4h1V1212.4h1V1212.4h1V1212.4h1V1212.4h1V1212.4h1V1212.4h1V1212.4h1V1212.4h1V1212.4h1V1212.4h1V1216.2h1V1212.4h1V1212.4h1V1212.4h1V1212.4h1V1212.4h1V1212.4h1V1212.4h1V1212.4h1V1212.4h1V1212.4h1V1212.4h1V1216.2h1V1216.2h1V1212.4h1V1216.2h1V1216.2h1V1216.2h1V1216.2h1V1216.2h1V1216.2h1V1216.2h1V1216.2h1V1216.2h1V1216.2h1V1216.2h1V1216.2h1V1216.2h1V1216.2h1V1216.2h1V1216.2h1V1216.2h1V1216.2h1V1216.2h1V1216.2h1V1216.2h1V1216.2h1V1216.2h1V1216.2h1V1216.2h1V1220h1V1216.2h1V1216.2h1V1216.2h1V1220h1V1220h1V1220h1V1220h1V1220h1V1216.2h1V1220h1V1220h1V1220h1V1216.2h1V1220h1V1220h1V1220h1V1220h1V1220h1V1220h1V1220h1V1220h1V1223.8h1V1220h1V1223.8h1V1220h1V1220h1V1220h1V1220h1V1220h1V1223.8h1V1220h1V1223.8h1V1220h1V1223.8h1V1220h1V1223.8h1V1223.8h1V1223.8h1V1223.8h1V1220h1V1223.8h1V1220h1V1223.8h1V1223.8h1V1223.8h1V1223.8h1V1223.8h1V1223.8h1V1223.8h1V1223.8h1V1223.8h1V1223.8h1V1223.8h1V1223.8h1V1223.8h1V1223.8h1V1220h1V1220h1V1223.8h1V1227.6h1V1223.8h1V1223.8h1V1223.8h1V1223.8h1V1223.8h1V1223.8h1V1223.8h1V1223.8h1V1223.8h1V1223.8h1V1223.8h1V1223.8h1V1223.8h1V1223.8h1V1223.8h1V1223.8h1V1223.8h1V1223.8h1V1223.8h1V1223.8h1V1223.8h1V1223.8h1V1227.6h1V1223.8h1V1223.8h1V1223.8h1V1223.8h1V1223.8h1V1223.8h1V1223.8h1V1223.8h1V1223.8h1V1223.8h1V1223.8h1V1223.8h1V1223.8h1V1223.8h1V1223.8h1V1223.8h1V1223.8h1V1223.8h1V1223.8h1V1223.8h1V1223.8h1V1223.8h1V1223.8h1V1223.8h1V1223.8h1V1223.8h1V1223.8h1V1223.8h1V1223.8h1V1223.8h1V1223.8h1V1223.8h1V1227.6h1V1229h-1V1229h-1V1229h-1V1229h-1V1232.8h-1V1229h-1V1229h-1V1229h-1V1229h-1V1232.8h-1V1229h-1V1229h-1V1229h-1V1229h-1V1232.8h-1V1229h-1V1229h-1V1229h-1V1232.8h-1V1229h-1V1229h-1V1229h-1V1229h-1V1229h-1V1229h-1V1229h-1V1232.8h-1V1229h-1V1229h-1V1229h-1V1229h-1V1229h-1V1229h-1V1229h-1V1232.8h-1V1229h-1V1229h-1V1225.2h-1V1229h-1V1229h-1V1232.8h-1V1229h-1V1229h-1V1229h-1V1229h-1V1229h-1V1229h-1V1229h-1V1229h-1V1229h-1V1229h-1V1229h-1V1229h-1V1229h-1V1229h-1V1229h-1V1229h-1V1229h-1V1229h-1V1229h-1V1229h-1V1229h-1V1229h-1V1229h-1V1229h-1V1229h-1V1229h-1V1229h-1V1225.2h-1V1229h-1V1229h-1V1229h-1V1229h-1V1225.2h-1V1229h-1V1229h-1V1229h-1V1225.2h-1V1229h-1V1229h-1V1229h-1V1225.2h-1V1225.2h-1V1225.2h-1V1229h-1V1225.2h-1V1225.2h-1V1229h-1V1229h-1V1225.2h-1V1225.2h-1V1225.2h-1V1225.2h-1V1225.2h-1V1229h-1V1225.2h-1V1225.2h-1V1225.2h-1V1225.2h-1V1225.2h-1V1225.2h-1V1225.2h-1V1225.2h-1V1221.4h-1V1225.2h-1V1225.2h-1V1225.2h-1V1225.2h-1V1225.2h-1V1225.2h-1V1221.4h-1V1225.2h-1V1221.4h-1V1221.4h-1V1221.4h-1V1225.2h-1V1221.4h-1V1225.2h-1V1221.4h-1V1221.4h-1V1221.4h-1V1221.4h-1V1225.2h-1V1221.4h-1V1221.4h-1V1221.4h-1V1221.4h-1V1225.2h-1V1221.4h-1V1221.4h-1V1221.4h-1V1221.4h-1V1221.4h-1V1217.6h-1V1221.4h-1V1221.4h-1V1221.4h-1V1221.4h-1V1221.4h-1V1221.4h-1V1221.4h-1V1217.6h-1V1221.4h-1V1221.4h-1V1221.4h-1V1217.6h-1V1221.4h-1V1217.6h-1V1217.6h-1V1217.6h-1V1217.6h-1V1217.6h-1V1217.6h-1V1217.6h-1V1217.6h-1V1217.6h-1V1217.6h-1V1221.4h-1V1217.6h-1V1217.6h-1V1217.6h-1V1217.6h-1V1217.6h-1V1217.6h-1V1217.6h-1V1217.6h-1V1217.6h-1V1217.6h-1V1217.6h-1V1217.6h-1V1217.6h-1V1217.6h-1V1213.8h-1V1217.6h-1V1213.8h-1V1217.6h-1V1217.6h-1V1217.6h-1V1217.6h-1V1213.8h-1V1217.6h-1V1213.8h-1V1217.6h-1V1217.6h-1V1217.6h-1V1213.8h-1V1217.6h-1V1217.6h-1V1217.6h-1V1213.8h-1V1217.6h-1V1213.8h-1V1213.8h-1V1217.6h-1V1217.6h-1V1213.8h-1V1217.6h-1V1213.8h-1V1213.8h-1V1213.8h-1V1217.6h-1V1213.8h-1V1217.6h-1V1217.6h-1V1217.6h-1V1217.6h-1V1213.8h-1V1213.8h-1V1213.8h-1V1213.8h-1V1213.8h-1V1213.8h-1V1213.8h-1V1213.8h-1V1213.8h-1V1213.8h-1V1213.8h-1V1213.8h-1V1213.8h-1V1213.8h-1V1213.8h-1V1213.8h-1V1213.8h-1V1217.6h-1V1213.8h-1V1210h-1V1213.8h-1V1213.8h-1V1213.8h-1V1213.8h-1V1213.8h-1V1213.8h-1V1213.8h-1V1210h-1V1213.8h-1V1210h-1V1210h-1V1210h-1V1210h-1V1210h-1V1210h-1V1210h-1V1210h-1V1210h-1V1210h-1V1210h-1V1210h-1V1210h-1V1210h-1V1210h-1V1210h-1V1210h-1V1210h-1V1210h-1V1210h-1V1210h-1V1210h-1V1210h-1V1210h-1V1210h-1V1210h-1V1210h-1V1210h-1V1210h-1V1210h-1V1210h-1V1210h-1V1210h-1V1210h-1V1206.2h-1V1206.2h-1V1210h-1V1206.2h-1V1210h-1V1210h-1V1210h-1V1210h-1V1206.2h-1V1210h-1V1206.2h-1V1210h-1V1210h-1V1210h-1V1210h-1V1206.2h-1V1206.2h-1V1206.2h-1V1206.2h-1V1206.2h-1V1210h-1V1206.2h-1V1210h-1V1210h-1V1210h-1V1210h-1V1210h-1V1210h-1V1210h-1V1206.2h-1V1210h-1V1210h-1V1206.2h-1V1206.2h-1V1206.2h-1V1210h-1V1206.2h-1V1206.2h-1V1206.2h-1V1206.2h-1V1206.2h-1V1206.2h-1V1206.2h-1V1206.2h-1V1206.2h-1V1210h-1V1210h-1V1206.2h-1V1210h-1V1206.2h-1V1206.2h-1V1206.2h-1V1206.2h-1V1210h-1V1206.2h-1V1206.2h-1V1206.2h-1V1210h-1V1210h-1V1206.2h-1V1206.2h-1V1206.2h-1V1206.2h-1V1210h-1V1210h-1V1206.2h-1V1206.2h-1V1206.2h-1V1206.2h-1V1206.2h-1V1210h-1V1206.2h-1V1206.2h-1V1206.2h-1V1206.2h-1V1210h-1V1206.2h-1V1210h-1V1206.2h-1V1206.2h-1V1206.2h-1V1206.2h-1V1206.2h-1V1206.2h-1V1206.2h-1V1206.2h-1V1206.2h-1V1206.2h-1V1206.2h-1V1206.2h-1Z" fill="#ffff00"/>
<path d="M536 1223.8h1V1223.8h1V1223.8h1V1223.8h1V1223.8h1V1223.8h1V1223.8h1V1223.8h1V1223.8h1V1223.8h1V1223.8h1V1223.8h1V1223.8h1V1223.8h1V1223.8h1V1223.8h1V1223.8h1V1223.8h1V1223.8h1V1223.8h1V1223.8h1V1223.8h1V1223.8h1V1223.8h1V1223.8h1V1223.8h1V1223.8h1V1223.8h1V1223.8h1V1223.8h1V1223.8h1V1223.8h1V1223.8h1V1223.8h1V1227.6h1V1223.8h1V1223.8h1V1223.8h1V1223.8h1V1223.8h1V1223.8h1V1227.6h1V1223.8h1V1223.8h1V1223.8h1V1223.8h1V1223.8h1V1223.8h1V1223.8h1V1223.8h1V1223.8h1V1223.8h1V1223.8h1V1223.8h1V1223.8h1V1223.8h1V1223.8h1V1223.8h1V1223.8h1V1223.8h1V1223.8h1V1223.8h1V1227.6h1V1223.8h1V1223.8h1V1223.8h1V1223.8h1V1223.8h1V1223.8h1V1223.8h1V1223.8h1V1223.8h1V1227.6h1V1223.8h1V1223.8h1V1223.8h1V1223.8h1V1223.8h1V1223.8h1V1227.6h1V1223.8h1V1223.8h1V1223.8h1V1223.8h1V1223.8h1V1227.6h1V1223.8h1V1223.8h1V1223.8h1V1223.8h1V1223.8h1V1223.8h1V1223.8h1V1223.8h1V1223.8h1V1223.8h1V1223.8h1V1223.8h1V1223.8h1V1223.8h1V1223.8h1V1223.8h1V1223.8h1V1223.8h1V1223.8h1V1223.8h1V1223.8h1V1223.8h1V1223.8h1V1223.8h1V1223.8h1V1227.6h1V1223.8h1V1223.8h1V1223.8h1V1223.8h1V1223.8h1V1223.8h1V1223.8h1V1223.8h1V1223.8h1V1223.8h1V1223.8h1V1223.8h1V1223.8h1V1223.8h1V1223.8h1V1223.8h1V1227.6h1V1223.8h1V1223.8h1V1223.8h1V1223.8h1V1223.8h1V1223.8h1V1223.8h1V1223.8h1V1223.8h1V1223.8h1V1223.8h1V1223.8h1V1223.8h1V1223.8h1V1223.8h1V1223.8h1V1223.8h1V1223.8h1V1223.8h1V1223.8h1V1223.8h1V1223.8h1V1223.8h1V1220h1V1223.8h1V1223.8h1V1223.8h1V1223.8h1V1223.8h1V1223.8h1V1223.8h1V1223.8h1V1223.8h1V1223.8h1V1223.8h1V1220h1V1223.8h1V1223.8h1V1223.8h1V1223.8h1V1223.8h1V1223.8h1V1223.8h1V1220h1V1223.8h1V1223.8h1V1220h1V1223.8h1V1223.8h1V1223.8h1V1223.8h1V1223.8h1V1223.8h1V1220h1V1220h1V1223.8h1V1223.8h1V1223.8h1V1220h1V1220h1V1220h1V1223.8h1V1220h1V1220h1V1220h1V1220h1V1223.8h1V1220h1V1220h1V1220h1V1220h1V1220h1V1220h1V1220h1V1220h1V1220h1V1220h1V1220h1V1216.2h1V1216.2h1V1220h1V1216.2h1V1220h1V1216.2h1V1220h1V1220h1V1220h1V1220h1V1220h1V1220h1V1220h1V1216.2h1V1216.2h1V1220h1V1220h1V1216.2h1V1220h1V1220h1V1216.2h1V1220h1V1216.2h1V1220h1V1220h1V1216.2h1V1216.2h1V1216.2h1V1216.2h1V1216.2h1V1216.2h1V1216.2h1V1216.2h1V1216.2h1V1216.2h1V1216.2h1V1216.2h1V1216.2h1V1216.2h1V1216.2h1V1216.2h1V1216.2h1V1216.2h1V1216.2h1V1212.4h1V1216.2h1V1212.4h1V1216.2h1V1216.2h1V1216.2h1V1216.2h1V1216.2h1V1216.2h1V1212.4h1V1216.2h1V1212.4h1V1212.4h1V1212.4h1V1212.4h1V1212.4h1V1212.4h1V1212.4h1V1212.4h1V1212.4h1V1212.4h1V1212.4h1V1212.4h1V1212.4h1V1212.4h1V1216.2h1V1216.2h1V1212.4h1V1212.4h1V1212.4h1V1212.4h1V1212.4h1V1212.4h1V1212.4h1V1212.4h1V1212.4h1V1212.4h1V1212.4h1V1212.4h1V1212.4h1V1208.6h1V1212.4h1V1212.4h1V1212.4h1V1212.4h1V1212.4h1V1212.4h1V1212.4h1V1208.6h1V1212.4h1V1212.4h1V1212.4h1V1208.6h1V1212.4h1V1208.6h1V1208.6h1V1208.6h1V1212.4h1V1212.4h1V1212.4h1V1212.4h1V1208.6h1V1212.4h1V1208.6h1V1208.6h1V1208.6h1V1208.6h1V1208.6h1V1208.6h1V1208.6h1V1208.6h1V1208.6h1V1208.6h1V1208.6h1V1208.6h1V1208.6h1V1212.4h1V1208.6h1V1208.6h1V1208.6h1V1208.6h1V1208.6h1V1208.6h1V1208.6h1V1208.6h1V1208.6h1V1208.6h1V1208.6h1V1208.6h1V1208.6h1V1208.6h1V1208.6h1V1208.6h1V1208.6h1V1208.6h1V1208.6h1V1208.6h1V1208.6h1V1208.6h1V1208.6h1V1204.8h1V1204.8h1V1208.6h1V1208.6h1V1208.6h1V1204.8h1V1208.6h1V1208.6h1V1204.8h1V1208.6h1V1204.8h1V1204.8h1V1204.8h1V1208.6h1V1204.8h1V1204.8h1V1204.8h1V1208.6h1V1204.8h1V1204.8h1V1204.8h1V1204.8h1V1204.8h1V1204.8h1V1204.8h1V1204.8h1V1204.8h1V1204.8h1V1204.8h1V1204.8h1V1204.8h1V1201h1V1204.8h1V1204.8h1V1201h1V1204.8h1V1204.8h1V1204.8h1V1201h1V1204.8h1V1204.8h1V1201h1V1201h1V1201h1V1204.8h1V1201h1V1204.8h1V1201h1V1201h1V1201h1V1201h1V1201h1V1201h1V1201h1V1201h1V1201h1V1201h1V1201h1V1201h1V1201h1V1201h1V1201h1V1197.2h1V1201h1V1201h1V1201h1V1201h1V1201h1V1201h1V1201h1V1197.2h1V1201h1V1197.2h1V1197.2h1V1197.2h1V1197.2h1V1197.2h1V1197.2h1V1197.2h1V1197.2h1V1197.2h1V1197.2h1V1197.2h1V1197.2h1V1197.2h1V1197.2h1V1197.2h1V1197.2h1V1197.2h1V1197.2h1V1197.2h1V1197.2h1V1197.2h1V1197.2h1V1197.2h1V1197.2h1V1197.2h1V1197.2h1V1197.2h1V1197.2h1V1197.2h1V1197.2h1V1197.2h1V1197.2h1V1197.2h1V1193.4h1V1193.4h1V1193.4h1V1193.4h1V1193.4h1V1193.4h1V1197.2h1V1193.4h1V1193.4h1V1197.2h1V1197.2h1V1197.2h1V1193.4h1V1193.4h1V1193.4h1V1193.4h1V1197.2h1V1193.4h1V1197.2h1V1197.2h1V1193.4h1V1193.4h1V1193.4h1V1193.4h1V1197.2h1V1193.4h1V1193.4h1V1193.4h1V1193.4h1V1193.4h1V1193.4h1V1193.4h1V1193.4h1V1193.4h1V1193.4h1V1193.4h1V1193.4h1V1193.4h1V1193.4h1V1193.4h1V1193.4h1V1193.4h1V1193.4h1V1193.4h1V1193.4h1V1193.4h1V1193.4h1V1193.4h1V1193.4h1V1189.6h1V1189.6h1V1193.4h1V1193.4h1V1189.6h1V1193.4h1V1193.4h1V1189.6h1V1185.8h1V1193.4h1V1193.4h1V1193.4h1V1189.6h1V1189.6h1V1189.6h1V1189.6h1V1189.6h1V1189.6h1V1189.6h1V1189.6h1V1189.6h1V1189.6h1V1189.6h1V1189.6h1V1189.6h1V1185.8h1V1193.4h1V1189.6h1V1189.6h1V1193.4h1V1189.6h1V1189.6h1V1189.6h1V1189.6h1V1185.8h1V1193.4h1V1189.6h1V1189.6h1V1189.6h1V1189.6h1V1189.6h1V1189.6h1V1189.6h1V1189.6h1V1189.6h1V1189.6h1V1189.6h1V1189.6h1V1185.8h1V1189.6h1V1189.6h1V1189.6h1V1189.6h1V1189.6h1V1189.6h1V1189.6h1V1189.6h1V1189.6h1V1189.6h1V1189.6h1V1189.6h1V1189.6h1V1185.8h1V1185.8h1V1189.6h1V1185.8h1V1189.6h1V1189.6h1V1189.6h1V1185.8h1V1189.6h1V1189.6h1V1185.8h1V1185.8h1V1185.8h1V1189.6h1V1189.6h1V1185.8h1V1185.8h1V1189.6h1V1189.6h1V1189.6h1V1185.8h1V1189.6h1V1185.8h1V1189.6h1V1185.8h1V1189.6h1V1185.8h1V1185.8h1V1189.6h1V1185.8h1V1185.8h1V1185.8h1V1185.8h1V1185.8h1V1185.8h1V1189.6h1V1185.8h1V1185.8h1V1189.6h1V1185.8h1V1185.8h1V1189.6h1V1185.8h1V1185.8h1V1185.8h1V1185.8h1V1185.8h1V1185.8h1V1185.8h1V1185.8h1V1185.8h1V1191h-1V1191h-1V1191h-1V1191h-1V1191h-1V1191h-1V1191h-1V1191h-1V1191h-1V1191h-1V1191h-1V1191h-1V1191h-1V1191h-1V1191h-1V1191h-1V1191h-1V1194.8h-1V1191h-1V1191h-1V1194.8h-1V1191h-1V1194.8h-1V1194.8h-1V1194.8h-1V1191h-1V1194.8h-1V1191h-1V1191h-1V1191h-1V1194.8h-1V1191h-1V1191h-1V1191h-1V1194.8h-1V1191h-1V1194.8h-1V1194.8h-1V1194.8h-1V1191h-1V1194.8h-1V1194.8h-1V1194.8h-1V1191h-1V1191h-1V1191h-1V1194.8h-1V1194.8h-1V1191h-1V1194.8h-1V1194.8h-1V1194.8h-1V1194.8h-1V1194.8h-1V1191h-1V1194.8h-1V1194.8h-1V1194.8h-1V1194.8h-1V1194.8h-1V1194.8h-1V1194.8h-1V1194.8h-1V1194.8h-1V1194.8h-1V1194.8h-1V1194.8h-1V1194.8h-1V1194.8h-1V1194.8h-1V1194.8h-1V1194.8h-1V1191h-1V1194.8h-1V1194.8h-1V1194.8h-1V1194.8h-1V1194.8h-1V1194.8h-1V1194.8h-1V1194.8h-1V1194.8h-1V1194.8h-1V1194.8h-1V1194.8h-1V1194.8h-1V1194.8h-1V1194.8h-1V1194.8h-1V1194.8h-1V1194.8h-1V1194.8h-1V1194.8h-1V1194.8h-1V1194.8h-1V1198.6h-1V1194.8h-1V1194.8h-1V1194.8h-1V1194.8h-1V1194.8h-1V1198.6h-1V1198.6h-1V1194.8h-1V1194.8h-1V1194.8h-1V1194.8h-1V1198.6h-1V1194.8h-1V1198.6h-1V1198.6h-1V1198.6h-1V1194.8h-1V1194.8h-1V1198.6h-1V1198.6h-1V1198.6h-1V1194.8h-1V1198.6h-1V1194.8h-1V1194.8h-1V1198.6h-1V1198.6h-1V1198.6h-1V1198.6h-1V1198.6h-1V1198.6h-1V1202.4h-1V1198.6h-1V1198.6h-1V1198.6h-1V1198.6h-1V1198.6h-1V1198.6h-1V1198.6h-1V1198.6h-1V1198.6h-1V1198.6h-1V1198.6h-1V1198.6h-1V1198.6h-1V1198.6h-1V1198.6h-1V1198.6h-1V1202.4h-1V1202.4h-1V1198.6h-1V1198.6h-1V1202.4h-1V1198.6h-1V1198.6h-1V1198.6h-1V1198.6h-1V1198.6h-1V1198.6h-1V1198.6h-1V1202.4h-1V1202.4h-1V1202.4h-1V1202.4h-1V1198.6h-1V1202.4h-1V1202.4h-1V1202.4h-1V1202.4h-1V1202.4h-1V1202.4h-1V1198.6h-1V1202.4h-1V1202.4h-1V1202.4h-1V1202.4h-1V1202.4h-1V1202.4h-1V1202.4h-1V1202.4h-1V1202.4h-1V1202.4h-1V1202.4h-1V1202.4h-1V1202.4h-1V1202.4h-1V1202.4h-1V1206.2h-1V1202.4h-1V1206.2h-1V1202.4h-1V1202.4h-1V1202.4h-1V1202.4h-1V1202.4h-1V1202.4h-1V1206.2h-1V1202.4h-1V1202.4h-1V1202.4h-1V1202.4h-1V1202.4h-1V1206.2h-1V1206.2h-1V1202.4h-1V1202.4h-1V1206.2h-1V1202.4h-1V1206.2h-1V1206.2h-1V1206.2h-1V1206.2h-1V1206.2h-1V1206.2h-1V1206.2h-1V1206.2h-1V1206.2h-1V1206.2h-1V1206.2h-1V1206.2h-1V1206.2h-1V1206.2h-1V1206.2h-1V1206.2h-1V1210h-1V1206.2h-1V1206.2h-1V1206.2h-1V1210h-1V1206.2h-1V1210h-1V1206.2h-1V1210h-1V1206.2h-1V1210h-1V1210h-1V1206.2h-1V1206.2h-1V1210h-1V1210h-1V1210h-1V1210h-1V1210h-1V1210h-1V1210h-1V1210h-1V1210h-1V1206.2h-1V1210h-1V1210h-1V1210h-1V1210h-1V1210h-1V1210h-1V1213.8h-1V1210h-1V1210h-1V1210h-1V1213.8h-1V1213.8h-1V1210h-1V1210h-1V1210h-1V1210h-1V1213.8h-1V1213.8h-1V1213.8h-1V1213.8h-1V1210h-1V1213.8h-1V1213.8h-1V1210h-1V1213.8h-1V1213.8h-1V1213.8h-1V1213.8h-1V1213.8h-1V1213.8h-1V1213.8h-1V1213.8h-1V1213.8h-1V1213.8h-1V1213.8h-1V1213.8h-1V1213.8h-1V1213.8h-1V1213.8h-1V1213.8h-1V1213.8h-1V1213.8h-1V1213.8h-1V1213.8h-1V1213.8h-1V1213.8h-1V1213.8h-1V1217.6h-1V1213.8h-1V1217.6h-1V1217.6h-1V1213.8h-1V1213.8h-1V1213.8h-1V1213.8h-1V1213.8h-1V1217.6h-1V1213.8h-1V1213.8h-1V1213.8h-1V1213.8h-1V1213.8h-1V1213.8h-1V1217.6h-1V1217.6h-1V1213.8h-1V1213.8h-1V1217.6h-1V1217.6h-1V1217.6h-1V1217.6h-1V1213.8h-1V1217.6h-1V1217.6h-1V1213.8h-1V1217.6h-1V1217.6h-1V1217.6h-1V1217.6h-1V1217.6h-1V1217.6h-1V1217.6h-1V1217.6h-1V1217.6h-1V1217.6h-1V1217.6h-1V1217.6h-1V1217.6h-1V1217.6h-1V1217.6h-1V1217.6h-1V1217.6h-1V1217.6h-1V1217.6h-1V1217.6h-1V1217.6h-1V1217.6h-1V1217.6h-1V1217.6h-1V1217.6h-1V1217.6h-1V1217.6h-1V1221.4h-1V1217.6h-1V1217.6h-1V1217.6h-1V1221.4h-1V1217.6h-1V1217.6h-1V1221.4h-1V1217.6h-1V1217.6h-1V1217.6h-1V1221.4h-1V1217.6h-1V1221.4h-1V1221.4h-1V1221.4h-1V1221.4h-1V1221.4h-1V1217.6h-1V1221.4h-1V1221.4h-1V1221.4h-1V1221.4h-1V1221.4h-1V1221.4h-1V1221.4h-1V1221.4h-1V1221.4h-1V1221.4h-1V1221.4h-1V1221.4h-1V1221.4h-1V1221.4h-1V1221.4h-1V1221.4h-1V1221.4h-1V1221.4h-1V1225.2h-1V1221.4h-1V1221.4h-1V1221.4h-1V1221.4h-1V1225.2h-1V1221.4h-1V1221.4h-1V1221.4h-1V1225.2h-1V1221.4h-1V1225.2h-1V1221.4h-1V1221.4h-1V1221.4h-1V1225.2h-1V1221.4h-1V1225.2h-1V1225.2h-1V1225.2h-1V1225.2h-1V1225.2h-1V1225.2h-1V1225.2h-1V1221.4h-1V1225.2h-1V1225.2h-1V1225.2h-1V1225.2h-1V1225.2h-1V1225.2h-1V1225.2h-1V1225.2h-1V1225.2h-1V1225.2h-1V1225.2h-1V1225.2h-1V1229h-1V1229h-1V1229h-1V1225.2h-1V1225.2h-1V1225.2h-1V1225.2h-1V1229h-1V1225.2h-1V1225.2h-1V1225.2h-1V1225.2h-1V1229h-1V1229h-1V1225.2h-1V1225.2h-1V1229h-1V1225.2h-1V1225.2h-1V1225.2h-1V1229h-1V1229h-1V1229h-1V1225.2h-1V1229h-1V1225.2h-1V1229h-1V1225.2h-1V1229h-1V1229h-1V1229h-1V1229h-1V1229h-1V1229h-1V1229h-1V1225.2h-1V1229h-1V1229h-1V1229h-1V1229h-1V1229h-1V1229h-1V1229h-1V1229h-1V1229h-1V1229h-1V1229h-1V1229h-1V1229h-1V1229h-1V1229h-1V1229h-1V1229h-1V1229h-1V1229h-1V1229h-1V1229h-1V1229h-1V1229h-1V1229h-1V1229h-1V1229h-1V1229h-1V1229h-1V1229h-1V1229h-1V1229h-1V1229h-1V1229h-1V1229h-1V1229h-1V1229h-1V1229h-1V1229h-1V1229h-1V1229h-1V1229h-1V1229h-1V1229h-1V1232.8h-1V1229h-1V1229h-1V1229h-1V1229h-1V1229h-1V1229h-1V1232.8h-1V1229h-1V1229h-1V1229h-1V1229h-1V1229h-1V1232.8h-1V1229h-1V1232.8h-1V1229h-1V1229h-1V1229h-1V1229h-1V1229h-1V1229h-1V1229h-1V1232.8h-1V1229h-1V1229h-1V1229h-1V1229h-1V1229h-1V1229h-1V1229h-1V1229h-1V1229h-1V1229h-1V1229h-1V1229h-1V1229h-1V1229h-1V1229h-1V1229h-1V1229h-1V1229h-1V1229h-1V1229h-1V1229h-1V1229h-1V1232.8h-1V1229h-1V1229h-1V1229h-1V1229h-1V1229h-1V1229h-1V1232.8h-1V1229h-1V1232.8h-1V1232.8h-1V1229h-1V1229h-1V1229h-1V1229h-1V1232.8h-1V1229h-1V1229h-1V1229h-1V1229h-1V1229h-1V1229h-1V1229h-1V1232.8h-1V1229h-1V1229h-1V1229h-1V1232.8h-1V1229h-1V1229h-1V1229h-1V1229h-1V1232.8h-1V1229h-1V1229h-1V1232.8h-1V1229h-1V1232.8h-1V1229h-1V1229h-1V1232.8h-1V1229h-1V1229h-1V1229h-1V1229h-1V1229h-1V1229h-1V1229h-1V1229h-1V1229h-1V1229h-1V1229h-1V1229h-1V1229h-1V1229h-1V1229h-1V1229h-1V1232.8h-1V1229h-1V1229h-1V1229h-1V1229h-1V1229h-1V1229h-1V1229h-1V1229h-1V1229h-1V1229h-1V1229h-1V1229h-1V1229h-1V1229h-1V1229h-1Z" fill="#ffff00"/>
</g>
<path d="M165.5 1072.5H1154.5V1233.5H165.5ZM166 1096.5h9.5M1154 1096.5h-9.5M166 1159.5h9.5M1154 1159.5h-9.5M166 1223.5h9.5M1154 1223.5h-9.5M173.5 1073v9.5M173.5 1233v-9.5M460.5 1073v9.5M460.5 1233v-9.5M747.5 1073v9.5M747.5 1233v-9.5M1034.5 1073v9.5M1034.5 1233v-9.5" stroke="#262626" stroke-width="1" fill="none"/>
<text x="156.20" y="1102.80" font-size="21.00" text-anchor="end" fill="#262626" textLength="12.72" lengthAdjust="spacingAndGlyphs">0</text>
<text x="156.20" y="1165.80" font-size="21.00" text-anchor="end" fill="#262626" textLength="19.94" lengthAdjust="spacingAndGlyphs">-5</text>
<text x="156.20" y="1229.80" font-size="21.00" text-anchor="end" fill="#262626" textLength="32.67" lengthAdjust="spacingAndGlyphs">-10</text>
<text x="85.10" y="1153.00" font-size="19.60" font-weight="bold" text-anchor="middle" fill="#262626" textLength="136.77" lengthAdjust="spacingAndGlyphs" transform="rotate(-90 85.10 1153.00)">Temperature</text>
<text x="111.30" y="1152.70" font-size="19.60" font-weight="bold" text-anchor="middle" fill="#262626" textLength="40.00" lengthAdjust="spacingAndGlyphs" transform="rotate(-90 111.30 1152.70)">(°C)</text>
<g transform="translate(1169.70 1175.80) rotate(-90)" font-size="15.40" font-weight="bold" fill="#000"><text x="0.00" y="0" textLength="64.12" lengthAdjust="spacingAndGlyphs">Inboard</text><text x="69.23" y="0" textLength="40.74" lengthAdjust="spacingAndGlyphs">EBox</text></g>
<g transform="translate(1181.80 1192.20) rotate(-90)" font-size="15.40" font-weight="bold" fill="#000"><text x="0.00" y="0" textLength="64.12" lengthAdjust="spacingAndGlyphs">Inboard</text><text x="69.23" y="0" textLength="57.01" lengthAdjust="spacingAndGlyphs">Sensor</text></g>
<g transform="translate(1194.00 1192.20) rotate(-90)" font-size="15.40" font-weight="bold" fill="#000"><text x="0.00" y="0" textLength="78.15" lengthAdjust="spacingAndGlyphs">Outboard</text><text x="83.25" y="0" textLength="40.74" lengthAdjust="spacingAndGlyphs">EBox</text></g>
<g transform="translate(1205.50 1212.20) rotate(-90)" font-size="15.40" font-weight="bold" fill="#000"><text x="0.00" y="0" textLength="78.15" lengthAdjust="spacingAndGlyphs">Outboard</text><text x="83.25" y="0" textLength="57.01" lengthAdjust="spacingAndGlyphs">Sensor</text></g>
<path d="M1168 1233.5V1248.6" stroke="#0000ff" stroke-width="2"/>
<path d="M1180 1234.7V1248.6" stroke="#00ffff" stroke-width="2"/>
<path d="M1192 1234.7V1248.6" stroke="#00ff00" stroke-width="2"/>
<path d="M1203 1234.7V1248.6" stroke="#ffff00" stroke-width="2"/>
<path d="M165 1388.5H1155M412.5 1308V1470M660.5 1308V1470M907.5 1308V1470" stroke="#dfdfdf" stroke-width="1" fill="none"/>
<g clip-path="url(#vlclip)">
<path d="M166 1422.8h1V1423.2h1V1423.5h1V1423.3h1V1423.6h1V1423.6h1V1423.6h1V1423.5h1V1423.2h1V1423.2h1V1423h1V1423.3h1V1422.9h1V1423.4h1V1423.1h1V1422.9h1V1423.3h1V1422.5h1V1423.1h1V1423.6h1V1423h1V1422.9h1V1423.2h1V1423.4h1V1423h1V1423.1h1V1423.1h1V1422.9h1V1423.1h1V1423.6h1V1423.5h1V1423.2h1V1423.1h1V1423h1V1423.3h1V1423h1V1423.4h1V1423.1h1V1422.9h1V1423.6h1V1423.2h1V1423.4h1V1423.1h1V1422.8h1V1422.8h1V1423.5h1V1423.3h1V1423.5h1V1423.4h1V1423h1V1423.3h1V1423.4h1V1422.9h1V1423h1V1423.4h1V1423.1h1V1423.1h1V1422.9h1V1423.4h1V1423.2h1V1423.2h1V1423.6h1V1423.6h1V1423.5h1V1423h1V1422.9h1V1422.9h1V1422.9h1V1423h1V1423.3h1V1423.2h1V1423.6h1V1423.3h1V1423.4h1V1423.5h1V1423.2h1V1422.9h1V1422.9h1V1422.9h1V1423.2h1V1422.9h1V1423.4h1V1422.8h1V1423.5h1V1423.2h1V1423.2h1V1422.8h1V1423.5h1V1423.1h1V1423.2h1V1423.5h1V1422.9h1V1423.4h1V1423.2h1V1422.9h1V1422.9h1V1422.8h1V1423.2h1V1423.1h1V1423.3h1V1423.1h1V1423.4h1V1423h1V1423.3h1V1423.2h1V1423.4h1V1423h1V1423h1V1423.4h1V1422.8h1V1423.5h1V1423.2h1V1423.3h1V1423.2h1V1423.6h1V1423h1V1423.3h1V1423.1h1V1423.5h1V1423h1V1422.9h1V1423.5h1V1422.9h1V1423.6h1V1422.8h1V1423h1V1423.4h1V1423.2h1V1423.3h1V1423.1h1V1423.4h1V1423.1h1V1423.3h1V1422.9h1V1423.2h1V1423.1h1V1423.4h1V1423.3h1V1423.4h1V1423.3h1V1423.3h1V1423h1V1423.2h1V1423.2h1V1423.5h1V1423.3h1V1423.6h1V1423h1V1423.3h1V1423.3h1V1423.6h1V1423.4h1V1423.4h1V1423.1h1V1423h1V1423.4h1V1423.1h1V1423h1V1423h1V1423.4h1V1423h1V1423.5h1V1423.3h1V1422.9h1V1423.5h1V1423.3h1V1423.2h1V1423.4h1V1423.5h1V1423.1h1V1422.9h1V1422.9h1V1423.4h1V1422.9h1V1422.9h1V1423.1h1V1423.4h1V1423.6h1V1423.2h1V1423.2h1V1423.4h1V1423h1V1423.1h1V1423.6h1V1423.2h1V1422.8h1V1423h1V1422.9h1V1423.1h1V1423.1h1V1423.2h1V1423.3h1V1423h1V1423.4h1V1423.2h1V1423.6h1V1423.2h1V1422.8h1V1423.1h1V1423.2h1V1423.3h1V1423.1h1V1422.9h1V1423h1V1423.3h1V1423.4h1V1423h1V1422.9h1V1423h1V1423.6h1V1423.5h1V1423h1V1423.5h1V1423.3h1V1423.1h1V1423.5h1V1423.3h1V1423.4h1V1422.9h1V1423.5h1V1423h1V1423h1V1423.3h1V1423.4h1V1423.5h1V1423.5h1V1423.2h1V1423.1h1V1423h1V1423.5h1V1423.2h1V1423.2h1V1422.9h1V1422.9h1V1423h1V1423.4h1V1423.3h1V1423h1V1423.5h1V1423.6h1V1423h1V1423.5h1V1423h1V1422.9h1V1423.1h1V1423h1V1423.2h1V1423.3h1V1422.8h1V1422.9h1V1423.5h1V1423.3h1V1423.1h1V1423h1V1423.3h1V1423.2h1V1423h1V1423.4h1V1423.4h1V1423.1h1V1422.9h1V1423.3h1V1423.3h1V1423.5h1V1423.6h1V1423h1V1423h1V1423.2h1V1423h1V1423.5h1V1422.9h1V1423.2h1V1423.6h1V1423.3h1V1423.4h1V1423.5h1V1423.3h1V1422.9h1V1423h1V1423.4h1V1422.9h1V1423.5h1V1423.1h1V1423.4h1V1423.1h1V1423.4h1V1422.9h1V1423h1V1423.4h1V1423.5h1V1423.6h1V1423.4h1V1423.3h1V1423.5h1V1423.6h1V1423.3h1V1423.2h1V1423.1h1V1423h1V1423h1V1423.1h1V1422.9h1V1423.4h1V1423.1h1V1423.2h1V1422.9h1V1423.1h1V1423.3h1V1423.4h1V1423.6h1V1423h1V1423.4h1V1423h1V1423.2h1V1423.3h1V1423h1V1423.1h1V1423.4h1V1423h1V1423.2h1V1423.2h1V1423.4h1V1423.1h1V1423.5h1V1423.6h1V1422.9h1V1422.9h1V1423.2h1V1423h1V1423.1h1V1423.4h1V1422.6h1V1423h1V1422.9h1V1423.2h1V1423h1V1423.1h1V1423.6h1V1423.3h1V1423.3h1V1422.9h1V1423.1h1V1422.9h1V1422.8h1V1422.8h1V1422.9h1V1423.1h1V1422.3h1V1423.3h1V1423.1h1V1422.8h1V1423h1V1423.1h1V1423.6h1V1422.9h1V1423.6h1V1422.9h1V1423.1h1V1423.5h1V1422.6h1V1428.4h-1V1427.8h-1V1428.2h-1V1427.8h-1V1427.8h-1V1428.1h-1V1427.7h-1V1428.2h-1V1427.7h-1V1428.4h-1V1427.7h-1V1428.2h-1V1428.3h-1V1428.3h-1V1427.9h-1V1428.4h-1V1427.9h-1V1427.7h-1V1427.9h-1V1428.3h-1V1427.9h-1V1427.8h-1V1428.4h-1V1428.1h-1V1427.7h-1V1427.7h-1V1428.8h-1V1428.3h-1V1428.3h-1V1428h-1V1427.8h-1V1427.9h-1V1428.1h-1V1428h-1V1427.9h-1V1428.4h-1V1428h-1V1428h-1V1428.1h-1V1428.2h-1V1428.3h-1V1428.2h-1V1428.1h-1V1427.8h-1V1428.2h-1V1427.8h-1V1427.7h-1V1427.8h-1V1428.3h-1V1428h-1V1427.9h-1V1428.3h-1V1428.1h-1V1427.7h-1V1428.3h-1V1427.7h-1V1427.7h-1V1428.2h-1V1427.7h-1V1427.9h-1V1428.3h-1V1428.1h-1V1427.8h-1V1427.6h-1V1428h-1V1427.7h-1V1427.8h-1V1428h-1V1427.8h-1V1427.7h-1V1427.8h-1V1428.2h-1V1428.3h-1V1427.7h-1V1428h-1V1427.8h-1V1427.8h-1V1427.9h-1V1427.7h-1V1428.1h-1V1427.9h-1V1428.3h-1V1427.8h-1V1427.9h-1V1427.7h-1V1427.6h-1V1428.1h-1V1428.1h-1V1427.7h-1V1428.1h-1V1427.7h-1V1428h-1V1428.3h-1V1428h-1V1427.9h-1V1428.2h-1V1427.7h-1V1428.4h-1V1428.3h-1V1428h-1V1427.7h-1V1428h-1V1428.1h-1V1427.7h-1V1428h-1V1428.2h-1V1428.1h-1V1427.9h-1V1428.4h-1V1428.2h-1V1427.8h-1V1428.3h-1V1427.7h-1V1428.2h-1V1428h-1V1428.2h-1V1427.7h-1V1428.3h-1V1427.7h-1V1428.1h-1V1427.7h-1V1428h-1V1428.4h-1V1427.9h-1V1428.1h-1V1428.3h-1V1428.1h-1V1427.6h-1V1427.8h-1V1428.1h-1V1428.1h-1V1428.4h-1V1427.7h-1V1427.6h-1V1427.7h-1V1428.1h-1V1427.8h-1V1427.7h-1V1428h-1V1428.1h-1V1428.1h-1V1427.8h-1V1428.1h-1V1428.6h-1V1427.9h-1V1428.4h-1V1427.6h-1V1427.6h-1V1428.2h-1V1428.2h-1V1428.3h-1V1428h-1V1428h-1V1427.9h-1V1427.7h-1V1428.1h-1V1427.8h-1V1427.6h-1V1428.1h-1V1427.9h-1V1427.7h-1V1427.6h-1V1428.1h-1V1427.9h-1V1427.8h-1V1428.3h-1V1427.8h-1V1427.9h-1V1427.9h-1V1427.7h-1V1428.2h-1V1428.1h-1V1428.1h-1V1428.2h-1V1427.8h-1V1428.2h-1V1428.1h-1V1428h-1V1428.2h-1V1427.9h-1V1428h-1V1428.3h-1V1428h-1V1427.7h-1V1428h-1V1427.8h-1V1428h-1V1428.3h-1V1427.9h-1V1428.3h-1V1427.9h-1V1428.4h-1V1427.7h-1V1428.3h-1V1427.7h-1V1428.1h-1V1428.2h-1V1428.2h-1V1427.8h-1V1428.4h-1V1428.3h-1V1428h-1V1428.1h-1V1428.4h-1V1427.8h-1V1428.2h-1V1428.3h-1V1428.2h-1V1427.7h-1V1427.6h-1V1427.7h-1V1428.4h-1V1428.2h-1V1428.2h-1V1427.7h-1V1427.7h-1V1427.6h-1V1428.2h-1V1428.3h-1V1428.1h-1V1427.7h-1V1428h-1V1428.1h-1V1427.6h-1V1428.1h-1V1428.5h-1V1428.2h-1V1428.2h-1V1428.4h-1V1427.7h-1V1428.2h-1V1427.6h-1V1428.3h-1V1427.8h-1V1428.1h-1V1427.7h-1V1428.1h-1V1427.7h-1V1428h-1V1428h-1V1428h-1V1427.8h-1V1428.1h-1V1428h-1V1427.7h-1V1427.8h-1V1428.1h-1V1427.8h-1V1427.7h-1V1427.9h-1V1427.7h-1V1428.4h-1V1428.1h-1V1428.3h-1V1428.2h-1V1428.4h-1V1427.7h-1V1428.3h-1V1427.6h-1V1428.1h-1V1428h-1V1428.2h-1V1427.7h-1V1428.3h-1V1428.1h-1V1427.7h-1V1427.8h-1V1428.3h-1V1427.9h-1V1427.7h-1V1428h-1V1428.3h-1V1428h-1V1427.7h-1V1428.3h-1V1427.7h-1V1428.4h-1V1427.7h-1V1428.1h-1V1428h-1V1427.7h-1V1427.8h-1V1427.8h-1V1428.1h-1V1427.7h-1V1428.3h-1V1428h-1V1428.1h-1V1428.4h-1V1428h-1V1428.2h-1V1428h-1V1427.6h-1V1428.4h-1V1428.3h-1V1427.7h-1V1428.1h-1V1428h-1V1428.8h-1V1427.9h-1V1428.2h-1V1428h-1V1428h-1V1428.2h-1V1427.9h-1V1427.6h-1V1428h-1V1428h-1V1428h-1V1428.1h-1V1428.2h-1V1428.2h-1V1427.9h-1V1427.7h-1V1427.8h-1V1427.6h-1V1428.3h-1V1427.7h-1V1428.2h-1V1427.7h-1V1428.2h-1V1428.1h-1V1428h-1V1428.1h-1V1427.8h-1V1427.9h-1V1428.3h-1V1428.3h-1V1427.7h-1V1428.3h-1V1428.3h-1V1427.6h-1V1428.2h-1V1428.4h-1V1427.8h-1V1428.1h-1V1427.6h-1V1428.2h-1V1428.1h-1V1428.3h-1V1428.1h-1V1428.3h-1V1428.3h-1V1427.9h-1V1428.3h-1V1427.9h-1V1428.2h-1V1427.9h-1V1427.9h-1V1427.9h-1V1427.7h-1V1428.4h-1V1428.3h-1V1427.9h-1V1428.4h-1V1427.7h-1V1428.1h-1V1428h-1V1428.3h-1V1428.4h-1Z" fill="#0000ff"/>
<path d="M536 1423.5h1V1423.1h1V1423h1V1423.1h1V1423.5h1V1423.3h1V1423.5h1V1423h1V1423.5h1V1422.9h1V1423.3h1V1423.4h1V1423.1h1V1423.2h1V1423.2h1V1422.9h1V1423.2h1V1422.9h1V1422.9h1V1423.5h1V1422.9h1V1423h1V1423.6h1V1423.2h1V1423.1h1V1423.2h1V1422.8h1V1423.5h1V1423.2h1V1422.9h1V1423.1h1V1423.2h1V1423.5h1V1423.2h1V1423.4h1V1423.1h1V1423.2h1V1423.1h1V1422.9h1V1423.1h1V1423.5h1V1423.3h1V1423h1V1423.1h1V1422.9h1V1423.2h1V1423.5h1V1423.3h1V1422.8h1V1423h1V1423.5h1V1422.9h1V1423.6h1V1423.2h1V1422.8h1V1423.2h1V1423.5h1V1423.5h1V1423h1V1422.8h1V1423.2h1V1423.4h1V1422.9h1V1422.8h1V1423.6h1V1423.2h1V1423.1h1V1423h1V1423h1V1423.4h1V1423.5h1V1423.3h1V1423.2h1V1423.5h1V1422.9h1V1422.8h1V1423.4h1V1422.8h1V1423.3h1V1423.1h1V1422.9h1V1423.3h1V1423.2h1V1423h1V1422.9h1V1423.2h1V1423.5h1V1423.3h1V1423.4h1V1423.5h1V1423.1h1V1422.9h1V1422.9h1V1423.3h1V1422.8h1V1422.8h1V1423h1V1423.4h1V1423.3h1V1422.3h1V1423.4h1V1423h1V1423.3h1V1423.3h1V1423.1h1V1423h1V1423.5h1V1423.3h1V1423.3h1V1423.6h1V1423h1V1423.4h1V1423.1h1V1423.2h1V1422.9h1V1422.9h1V1423.5h1V1423.3h1V1423.1h1V1423.2h1V1422.8h1V1423h1V1423.6h1V1423.1h1V1423.1h1V1423h1V1423.5h1V1423.5h1V1423.1h1V1423.2h1V1423.4h1V1423.2h1V1423.5h1V1423.2h1V1423.4h1V1422.9h1V1423.3h1V1423.6h1V1423.1h1V1423.3h1V1423.5h1V1423.3h1V1423.3h1V1423.1h1V1423.4h1V1423.3h1V1422.9h1V1423.5h1V1423.6h1V1423.1h1V1423.2h1V1423.5h1V1423h1V1423.3h1V1423.5h1V1423.4h1V1423.2h1V1423.1h1V1422.9h1V1422.8h1V1423.1h1V1423.4h1V1423.6h1V1423.6h1V1423h1V1423h1V1423.4h1V1423.3h1V1423.4h1V1423.4h1V1423.2h1V1423.1h1V1423.2h1V1422.8h1V1423.4h1V1423.2h1V1423.1h1V1423.2h1V1423.2h1V1422.9h1V1422.5h1V1423.5h1V1423.1h1V1423.6h1V1423.4h1V1422.9h1V1423h1V1423.6h1V1423.5h1V1423.4h1V1423.5h1V1423.2h1V1422.8h1V1423.2h1V1422.9h1V1423.1h1V1423.6h1V1423.5h1V1423.1h1V1423.3h1V1423.5h1V1423.4h1V1423.5h1V1428.2h-1V1428.3h-1V1428.3h-1V1427.8h-1V1427.8h-1V1427.9h-1V1427.7h-1V1428.4h-1V1428h-1V1428.2h-1V1428.1h-1V1427.7h-1V1427.7h-1V1427.9h-1V1428.2h-1V1428.1h-1V1427.7h-1V1427.7h-1V1427.8h-1V1427.7h-1V1428.2h-1V1428.3h-1V1428.2h-1V1428.1h-1V1428.3h-1V1428.4h-1V1428.1h-1V1428.3h-1V1427.9h-1V1427.7h-1V1427.9h-1V1427.9h-1V1428.5h-1V1428.4h-1V1428.2h-1V1427.9h-1V1428.2h-1V1428h-1V1428.2h-1V1427.8h-1V1428.4h-1V1427.7h-1V1428.4h-1V1427.9h-1V1428.3h-1V1427.6h-1V1428.3h-1V1427.6h-1V1427.9h-1V1428.4h-1V1427.8h-1V1427.7h-1V1428.1h-1V1427.8h-1V1427.8h-1V1428.3h-1V1428.3h-1V1428h-1V1428h-1V1428.4h-1V1428.1h-1V1428.1h-1V1427.6h-1V1428.4h-1V1428.2h-1V1428.3h-1V1428.3h-1V1427.7h-1V1428h-1V1427.8h-1V1428h-1V1428h-1V1427.9h-1V1428h-1V1427.9h-1V1428h-1V1428h-1V1428h-1V1427.7h-1V1428.2h-1V1428h-1V1427.8h-1V1428.2h-1V1427.8h-1V1427.8h-1V1427.7h-1V1428.1h-1V1428.3h-1V1428h-1V1428.1h-1V1428h-1V1428h-1V1427.9h-1V1428.3h-1V1427.6h-1V1427.7h-1V1427.7h-1V1428.3h-1V1428.2h-1V1428h-1V1427.9h-1V1427.9h-1V1428.2h-1V1428.1h-1V1428.3h-1V1427.8h-1V1428.3h-1V1428.3h-1V1427.7h-1V1428h-1V1428h-1V1428.3h-1V1428.2h-1V1428.3h-1V1428.3h-1V1428.3h-1V1428.3h-1V1428.1h-1V1428.3h-1V1427.7h-1V1428.1h-1V1428h-1V1428h-1V1428.4h-1V1427.9h-1V1427.6h-1V1427.8h-1V1428.2h-1V1428h-1V1427.6h-1V1427.9h-1V1428.4h-1V1427.9h-1V1428.7h-1V1427.7h-1V1427.8h-1V1428.4h-1V1427.9h-1V1428.1h-1V1427.8h-1V1428.1h-1V1427.7h-1V1427.7h-1V1428h-1V1428.2h-1V1428h-1V1427.6h-1V1428h-1V1428h-1V1428h-1V1427.7h-1V1428.4h-1V1428.3h-1V1428.3h-1V1428.1h-1V1428.2h-1V1428.2h-1V1428.3h-1V1428.1h-1V1427.7h-1V1428.2h-1V1427.7h-1V1427.9h-1V1428.2h-1V1428.8h-1V1427.8h-1V1427.9h-1V1427.7h-1V1427.8h-1V1427.7h-1V1428.2h-1V1427.9h-1V1428.1h-1V1428.2h-1V1428.2h-1V1428.1h-1V1428h-1V1427.9h-1V1427.6h-1V1428h-1V1428h-1V1427.7h-1V1427.6h-1V1428h-1V1428h-1V1428.1h-1V1427.7h-1V1428.2h-1V1428.2h-1V1427.9h-1V1427.9h-1V1428.3h-1V1428.2h-1V1428h-1V1428.4h-1V1427.7h-1V1428h-1V1427.8h-1V1428.3h-1V1427.8h-1V1428h-1V1427.7h-1V1427.8h-1Z" fill="#0000ff"/>
<path d="M738 1427H1154M768.5 1423.5V1427M931.5 1423.5V1427M934 1423.5V1427M945 1423.5V1427M1066 1423.5V1427" stroke="#0000ff" stroke-width="1.5"/>
<path d="M168 1383.7h1V1383.4h1V1383.8h1V1383.2h1V1383.5h1V1383.2h1V1383.1h1V1383.2h1V1383.6h1V1383.4h1V1383.1h1V1383.3h1V1383.6h1V1383.6h1V1383.4h1V1383.5h1V1383.4h1V1383.7h1V1383.6h1V1383.8h1V1383.3h1V1383.7h1V1383.6h1V1383.2h1V1383h1V1383h1V1383.2h1V1383.2h1V1383.7h1V1383.4h1V1383.5h1V1383.3h1V1383.3h1V1383.5h1V1383.2h1V1383.4h1V1383.6h1V1383.1h1V1383.5h1V1383.8h1V1383.4h1V1383.3h1V1383.7h1V1383.5h1V1383.2h1V1383.2h1V1383.6h1V1383.7h1V1383.4h1V1383h1V1383.7h1V1383.3h1V1383.2h1V1383.3h1V1383.6h1V1383.6h1V1383.4h1V1383.3h1V1383.2h1V1383.1h1V1383.5h1V1383.6h1V1383.4h1V1383.3h1V1383.7h1V1383.8h1V1383.1h1V1383.3h1V1383.1h1V1382.9h1V1383.5h1V1383.6h1V1383.7h1V1383.1h1V1383.5h1V1383.1h1V1383.7h1V1383.2h1V1383.4h1V1383h1V1383.3h1V1383.1h1V1383.5h1V1383.2h1V1383h1V1383.4h1V1383.1h1V1383.2h1V1383h1V1383.8h1V1383.4h1V1383.5h1V1383.1h1V1383.3h1V1383.6h1V1383.6h1V1383.4h1V1383.5h1V1383.7h1V1383.7h1V1383.6h1V1383.5h1V1383h1V1383.7h1V1383.7h1V1383.8h1V1383.1h1V1383.4h1V1383.2h1V1383.4h1V1383.4h1V1383.5h1V1383.7h1V1383.3h1V1383.6h1V1383.7h1V1383.4h1V1383.3h1V1383.4h1V1383.3h1V1383.3h1V1392.4h-1V1392.2h-1V1392.5h-1V1392.5h-1V1392.3h-1V1392.5h-1V1392.7h-1V1392.6h-1V1392.3h-1V1392.7h-1V1392.7h-1V1392.4h-1V1392h-1V1392.6h-1V1392.5h-1V1392.4h-1V1392.1h-1V1392.3h-1V1392.3h-1V1392.5h-1V1392.1h-1V1392.1h-1V1392.8h-1V1392.2h-1V1392.7h-1V1392.6h-1V1392.1h-1V1392.7h-1V1392.3h-1V1392.3h-1V1392h-1V1392.3h-1V1392.5h-1V1392.6h-1V1392.3h-1V1392.9h-1V1392.7h-1V1392.4h-1V1392.5h-1V1392.5h-1V1392.3h-1V1392.5h-1V1392.6h-1V1392.3h-1V1392.4h-1V1392.7h-1V1392h-1V1392.2h-1V1392.3h-1V1392.5h-1V1392.1h-1V1392.6h-1V1392.4h-1V1392.4h-1V1392.7h-1V1392.5h-1V1392.7h-1V1392.2h-1V1392.3h-1V1392.4h-1V1392.1h-1V1392.3h-1V1392.6h-1V1392.2h-1V1392.3h-1V1392.5h-1V1392.6h-1V1392.3h-1V1392.4h-1V1392.1h-1V1392.8h-1V1392.4h-1V1392.6h-1V1392.1h-1V1392.1h-1V1392.5h-1V1392.4h-1V1392.6h-1V1392.4h-1V1392.6h-1V1392.5h-1V1392.1h-1V1392.4h-1V1392.4h-1V1392.5h-1V1392.7h-1V1392.3h-1V1392.1h-1V1392.1h-1V1392.4h-1V1392.5h-1V1392.5h-1V1392.2h-1V1392h-1V1392.6h-1V1392.7h-1V1392.8h-1V1392.5h-1V1392.7h-1V1392.4h-1V1392.4h-1V1392.3h-1V1392.3h-1V1392.1h-1V1392.4h-1V1392.5h-1V1392.4h-1V1392.1h-1V1392.7h-1V1392.7h-1V1392.3h-1V1392.2h-1V1392.3h-1V1392.1h-1V1392.7h-1V1392.4h-1V1392.2h-1V1392.2h-1V1392.7h-1V1392.2h-1V1392.2h-1Z" fill="#00ffff"/>
<path d="M288 1384.3H525M536 1384.3H1154" stroke="#00ffff" stroke-width="1.2"/>
<path d="M166 1402.6H525M536 1402.6H1154" stroke="#00ff00" stroke-width="1.8" stroke-dasharray="3 1"/>
<path d="M166 1384h1V1384h1V1384h1V1384h1V1384h1V1384h1V1392.3h1V1392.3h1V1392.3h1V1392.3h1V1392.3h1V1392.3h1V1392.3h1V1392.3h1V1384h1V1392.3h1V1392.3h1V1392.3h1V1392.3h1V1392.3h1V1384h1V1392.3h1V1392.3h1V1392.3h1V1392.3h1V1392.3h1V1392.3h1V1384h1V1384h1V1392.3h1V1392.3h1V1384h1V1384h1V1384h1V1384h1V1384h1V1392.3h1V1392.3h1V1392.3h1V1392.3h1V1384h1V1384h1V1384h1V1384h1V1384h1V1384h1V1384h1V1384h1V1384h1V1384h1V1384h1V1392.3h1V1384h1V1384h1V1384h1V1384h1V1384h1V1384h1V1384h1V1392.3h1V1392.3h1V1392.3h1V1384h1V1384h1V1384h1V1384h1V1384h1V1384h1V1384h1V1384h1V1384h1V1384h1V1392.3h1V1392.3h1V1392.3h1V1392.3h1V1384h1V1384h1V1384h1V1384h1V1384h1V1384h1V1384h1V1392.3h1V1392.3h1V1392.3h1V1392.3h1V1392.3h1V1392.3h1V1392.3h1V1384h1V1392.3h1V1392.3h1V1392.3h1V1392.3h1V1392.3h1V1392.3h1V1392.3h1V1392.3h1V1392.3h1V1384h1V1384h1V1384h1V1384h1V1384h1V1384h1V1384h1V1384h1V1384h1V1384h1V1384h1V1392.3h1V1392.3h1V1392.3h1V1384h1V1384h1V1384h1V1384h1V1384h1V1384h1V1384h1V1392.3h1V1392.3h1V1392.3h1V1392.3h1V1392.3h1V1392.3h1V1392.3h1V1384h1V1384h1V1384h1V1384h1V1384h1V1384h1V1384h1V1392.3h1V1392.3h1V1384h1V1384h1V1384h1V1384h1V1384h1V1392.3h1V1392.3h1V1392.3h1V1384h1V1384h1V1384h1V1384h1V1384h1V1384h1V1384h1V1392.3h1V1392.3h1V1392.3h1V1392.3h1V1392.3h1V1384h1V1384h1V1392.3h1V1392.3h1V1392.3h1V1392.3h1V1384h1V1392.3h1V1392.3h1V1384h1V1384h1V1392.3h1V1392.3h1V1392.3h1V1384h1V1392.3h1V1392.3h1V1392.3h1V1392.3h1V1392.3h1V1392.3h1V1392.3h1V1392.3h1V1392.3h1V1384h1V1384h1V1392.3h1V1392.3h1V1384h1V1384h1V1384h1V1384h1V1384h1V1392.3h1V1392.3h1V1384h1V1384h1V1384h1V1384h1V1384h1V1384h1V1384h1V1384h1V1392.3h1V1392.3h1V1392.3h1V1392.3h1V1384h1V1392.3h1V1392.3h1V1392.3h1V1384h1V1392.3h1V1392.3h1V1392.3h1V1392.3h1V1392.3h1V1392.3h1V1392.3h1V1392.3h1V1392.3h1V1392.3h1V1384h1V1384h1V1392.3h1V1392.3h1V1392.3h1V1384h1V1384h1V1384h1V1384h1V1384h1V1384h1V1384h1V1384h1V1384h1V1384h1V1384h1V1384h1V1384h1V1384h1V1392.3h1V1392.3h1V1392.3h1V1392.3h1V1392.3h1V1392.3h1V1392.3h1V1392.3h1V1392.3h1V1384h1V1384h1V1384h1V1384h1V1384h1V1384h1V1384h1V1384h1V1384h1V1384h1V1384h1V1384h1V1384h1V1392.3h1V1392.3h1V1384h1V1392.3h1V1384h1V1384h1V1384h1V1384h1V1384h1V1384h1V1384h1V1384h1V1384h1V1392.3h1V1392.3h1V1392.3h1V1392.3h1V1384h1V1392.3h1V1392.3h1V1392.3h1V1392.3h1V1384h1V1384h1V1392.3h1V1392.3h1V1392.3h1V1384h1V1384h1V1384h1V1384h1V1384h1V1384h1V1384h1V1384h1V1384h1V1384h1V1384h1V1384h1V1384h1V1384h1V1384h1V1384h1V1384h1V1384h1V1392.3h1V1392.3h1V1384h1V1384h1V1384h1V1384h1V1384h1V1392.3h1V1392.3h1V1384h1V1384h1V1384h1V1384h1V1384h1V1384h1V1384h1V1384h1V1384h1V1384h1V1392.3h1V1392.3h1V1384h1V1392.3h1V1392.3h1V1384h1V1384h1V1384h1V1384h1V1384h1V1384h1V1384h1V1384h1V1384h1V1384h1V1384h1V1384h1V1384h1V1384h1V1392.3h1V1392.3h1V1392.3h1V1392.3h1V1392.3h1V1392.3h1V1392.3h1V1384h1V1384h1V1384h1V1384h1V1384h1V1384h1V1384h1V1384h1V1384h1V1401.6h-1V1401.6h-1V1401.6h-1V1401.6h-1V1401.6h-1V1401.6h-1V1401.6h-1V1410h-1V1410h-1V1410h-1V1401.6h-1V1401.6h-1V1401.6h-1V1401.6h-1V1401.6h-1V1401.6h-1V1401.6h-1V1410h-1V1401.6h-1V1401.6h-1V1401.6h-1V1401.6h-1V1401.6h-1V1401.6h-1V1401.6h-1V1401.6h-1V1401.6h-1V1401.6h-1V1401.6h-1V1410h-1V1410h-1V1410h-1V1401.6h-1V1401.6h-1V1401.6h-1V1401.6h-1V1401.6h-1V1401.6h-1V1401.6h-1V1401.6h-1V1410h-1V1401.6h-1V1401.6h-1V1401.6h-1V1401.6h-1V1401.6h-1V1410h-1V1410h-1V1401.6h-1V1401.6h-1V1401.6h-1V1401.6h-1V1401.6h-1V1401.6h-1V1401.6h-1V1401.6h-1V1401.6h-1V1401.6h-1V1401.6h-1V1401.6h-1V1401.6h-1V1401.6h-1V1401.6h-1V1401.6h-1V1401.6h-1V1401.6h-1V1401.6h-1V1401.6h-1V1401.6h-1V1401.6h-1V1401.6h-1V1401.6h-1V1401.6h-1V1401.6h-1V1401.6h-1V1410h-1V1410h-1V1410h-1V1410h-1V1401.6h-1V1401.6h-1V1401.6h-1V1401.6h-1V1410h-1V1401.6h-1V1401.6h-1V1401.6h-1V1410h-1V1410h-1V1401.6h-1V1401.6h-1V1401.6h-1V1401.6h-1V1401.6h-1V1401.6h-1V1401.6h-1V1401.6h-1V1401.6h-1V1401.6h-1V1401.6h-1V1401.6h-1V1401.6h-1V1401.6h-1V1401.6h-1V1401.6h-1V1401.6h-1V1410h-1V1410h-1V1401.6h-1V1401.6h-1V1401.6h-1V1401.6h-1V1401.6h-1V1401.6h-1V1401.6h-1V1401.6h-1V1401.6h-1V1401.6h-1V1401.6h-1V1401.6h-1V1401.6h-1V1401.6h-1V1401.6h-1V1410h-1V1410h-1V1401.6h-1V1401.6h-1V1401.6h-1V1401.6h-1V1401.6h-1V1401.6h-1V1401.6h-1V1401.6h-1V1401.6h-1V1401.6h-1V1410h-1V1410h-1V1410h-1V1401.6h-1V1401.6h-1V1401.6h-1V1401.6h-1V1401.6h-1V1401.6h-1V1401.6h-1V1401.6h-1V1401.6h-1V1401.6h-1V1401.6h-1V1401.6h-1V1401.6h-1V1401.6h-1V1401.6h-1V1401.6h-1V1401.6h-1V1401.6h-1V1401.6h-1V1401.6h-1V1401.6h-1V1401.6h-1V1410h-1V1401.6h-1V1401.6h-1V1401.6h-1V1401.6h-1V1401.6h-1V1401.6h-1V1401.6h-1V1410h-1V1410h-1V1410h-1V1401.6h-1V1401.6h-1V1401.6h-1V1401.6h-1V1401.6h-1V1401.6h-1V1401.6h-1V1401.6h-1V1410h-1V1401.6h-1V1401.6h-1V1410h-1V1401.6h-1V1401.6h-1V1401.6h-1V1401.6h-1V1401.6h-1V1401.6h-1V1401.6h-1V1401.6h-1V1401.6h-1V1401.6h-1V1401.6h-1V1401.6h-1V1401.6h-1V1401.6h-1V1401.6h-1V1401.6h-1V1401.6h-1V1401.6h-1V1401.6h-1V1401.6h-1V1401.6h-1V1401.6h-1V1401.6h-1V1401.6h-1V1401.6h-1V1410h-1V1410h-1V1410h-1V1410h-1V1410h-1V1410h-1V1410h-1V1410h-1V1410h-1V1401.6h-1V1401.6h-1V1410h-1V1410h-1V1410h-1V1410h-1V1410h-1V1410h-1V1410h-1V1401.6h-1V1401.6h-1V1401.6h-1V1401.6h-1V1401.6h-1V1401.6h-1V1401.6h-1V1410h-1V1410h-1V1410h-1V1410h-1V1410h-1V1410h-1V1410h-1V1410h-1V1410h-1V1410h-1V1401.6h-1V1401.6h-1V1410h-1V1410h-1V1410h-1V1401.6h-1V1410h-1V1410h-1V1410h-1V1410h-1V1410h-1V1410h-1V1410h-1V1410h-1V1410h-1V1401.6h-1V1410h-1V1410h-1V1410h-1V1410h-1V1410h-1V1401.6h-1V1401.6h-1V1410h-1V1410h-1V1401.6h-1V1401.6h-1V1410h-1V1410h-1V1410h-1V1410h-1V1410h-1V1410h-1V1401.6h-1V1401.6h-1V1401.6h-1V1410h-1V1410h-1V1410h-1V1410h-1V1410h-1V1410h-1V1410h-1V1410h-1V1410h-1V1401.6h-1V1401.6h-1V1401.6h-1V1410h-1V1410h-1V1401.6h-1V1410h-1V1410h-1V1401.6h-1V1401.6h-1V1401.6h-1V1410h-1V1410h-1V1410h-1V1410h-1V1410h-1V1410h-1V1410h-1V1401.6h-1V1401.6h-1V1401.6h-1V1401.6h-1V1401.6h-1V1401.6h-1V1401.6h-1V1401.6h-1V1401.6h-1V1401.6h-1V1410h-1V1401.6h-1V1401.6h-1V1410h-1V1410h-1V1410h-1V1410h-1V1410h-1V1410h-1V1410h-1V1410h-1V1410h-1V1410h-1V1410h-1V1410h-1V1410h-1V1401.6h-1V1401.6h-1V1410h-1V1401.6h-1V1410h-1V1410h-1V1410h-1V1401.6h-1V1401.6h-1V1401.6h-1V1410h-1V1410h-1V1410h-1V1410h-1V1401.6h-1V1410h-1V1410h-1V1401.6h-1V1401.6h-1V1410h-1V1410h-1V1410h-1V1410h-1V1401.6h-1V1410h-1V1401.6h-1V1410h-1Z" fill="#ffff00"/>
<path d="M536 1392.3h1V1392.3h1V1392.3h1V1392.3h1V1392.3h1V1392.3h1V1392.3h1V1384h1V1384h1V1384h1V1392.3h1V1392.3h1V1392.3h1V1392.3h1V1384h1V1384h1V1384h1V1384h1V1392.3h1V1392.3h1V1392.3h1V1392.3h1V1392.3h1V1392.3h1V1392.3h1V1392.3h1V1392.3h1V1384h1V1384h1V1384h1V1384h1V1384h1V1384h1V1384h1V1384h1V1392.3h1V1392.3h1V1392.3h1V1392.3h1V1392.3h1V1392.3h1V1392.3h1V1384h1V1384h1V1392.3h1V1392.3h1V1392.3h1V1392.3h1V1392.3h1V1392.3h1V1384h1V1384h1V1384h1V1384h1V1384h1V1392.3h1V1392.3h1V1392.3h1V1392.3h1V1384h1V1384h1V1384h1V1384h1V1384h1V1384h1V1384h1V1384h1V1384h1V1384h1V1384h1V1384h1V1384h1V1384h1V1392.3h1V1392.3h1V1392.3h1V1384h1V1392.3h1V1392.3h1V1384h1V1392.3h1V1392.3h1V1392.3h1V1384h1V1384h1V1384h1V1384h1V1392.3h1V1392.3h1V1384h1V1384h1V1392.3h1V1384h1V1384h1V1384h1V1384h1V1392.3h1V1392.3h1V1392.3h1V1384h1V1384h1V1384h1V1392.3h1V1384h1V1384h1V1392.3h1V1392.3h1V1392.3h1V1392.3h1V1392.3h1V1392.3h1V1384h1V1384h1V1384h1V1384h1V1384h1V1384h1V1384h1V1384h1V1392.3h1V1384h1V1384h1V1392.3h1V1392.3h1V1392.3h1V1392.3h1V1392.3h1V1392.3h1V1384h1V1384h1V1384h1V1384h1V1384h1V1384h1V1392.3h1V1392.3h1V1392.3h1V1392.3h1V1392.3h1V1392.3h1V1392.3h1V1392.3h1V1392.3h1V1392.3h1V1392.3h1V1384h1V1384h1V1384h1V1392.3h1V1392.3h1V1392.3h1V1392.3h1V1392.3h1V1392.3h1V1392.3h1V1392.3h1V1392.3h1V1392.3h1V1392.3h1V1384h1V1384h1V1384h1V1392.3h1V1392.3h1V1392.3h1V1392.3h1V1392.3h1V1392.3h1V1392.3h1V1392.3h1V1392.3h1V1392.3h1V1392.3h1V1384h1V1392.3h1V1392.3h1V1392.3h1V1392.3h1V1392.3h1V1392.3h1V1392.3h1V1384h1V1384h1V1392.3h1V1392.3h1V1392.3h1V1392.3h1V1392.3h1V1392.3h1V1392.3h1V1392.3h1V1384h1V1384h1V1384h1V1384h1V1384h1V1384h1V1384h1V1384h1V1384h1V1384h1V1384h1V1384h1V1384h1V1384h1V1384h1V1384h1V1384h1V1384h1V1384h1V1392.3h1V1392.3h1V1392.3h1V1392.3h1V1392.3h1V1392.3h1V1384h1V1384h1V1384h1V1384h1V1384h1V1384h1V1384h1V1384h1V1384h1V1384h1V1392.3h1V1392.3h1V1392.3h1V1392.3h1V1392.3h1V1392.3h1V1392.3h1V1384h1V1384h1V1392.3h1V1392.3h1V1392.3h1V1392.3h1V1392.3h1V1384h1V1384h1V1384h1V1392.3h1V1384h1V1384h1V1384h1V1384h1V1384h1V1392.3h1V1392.3h1V1392.3h1V1392.3h1V1392.3h1V1392.3h1V1392.3h1V1392.3h1V1384h1V1384h1V1384h1V1384h1V1384h1V1384h1V1384h1V1392.3h1V1392.3h1V1392.3h1V1392.3h1V1392.3h1V1392.3h1V1392.3h1V1392.3h1V1392.3h1V1384h1V1392.3h1V1392.3h1V1392.3h1V1392.3h1V1392.3h1V1384h1V1392.3h1V1392.3h1V1392.3h1V1392.3h1V1392.3h1V1392.3h1V1384h1V1384h1V1384h1V1384h1V1384h1V1392.3h1V1384h1V1384h1V1384h1V1384h1V1384h1V1384h1V1392.3h1V1384h1V1384h1V1392.3h1V1392.3h1V1392.3h1V1392.3h1V1384h1V1384h1V1384h1V1384h1V1384h1V1384h1V1384h1V1392.3h1V1392.3h1V1392.3h1V1384h1V1384h1V1392.3h1V1392.3h1V1392.3h1V1392.3h1V1392.3h1V1392.3h1V1392.3h1V1392.3h1V1392.3h1V1392.3h1V1392.3h1V1392.3h1V1392.3h1V1392.3h1V1392.3h1V1392.3h1V1392.3h1V1392.3h1V1392.3h1V1392.3h1V1392.3h1V1392.3h1V1392.3h1V1392.3h1V1384h1V1384h1V1392.3h1V1392.3h1V1384h1V1384h1V1384h1V1384h1V1392.3h1V1392.3h1V1392.3h1V1392.3h1V1392.3h1V1392.3h1V1392.3h1V1392.3h1V1392.3h1V1384h1V1384h1V1384h1V1384h1V1392.3h1V1392.3h1V1392.3h1V1392.3h1V1392.3h1V1392.3h1V1392.3h1V1384h1V1384h1V1384h1V1384h1V1384h1V1384h1V1384h1V1392.3h1V1392.3h1V1384h1V1384h1V1384h1V1384h1V1392.3h1V1392.3h1V1392.3h1V1392.3h1V1384h1V1384h1V1392.3h1V1392.3h1V1392.3h1V1392.3h1V1384h1V1384h1V1384h1V1384h1V1384h1V1384h1V1384h1V1392.3h1V1392.3h1V1392.3h1V1392.3h1V1392.3h1V1392.3h1V1392.3h1V1384h1V1392.3h1V1384h1V1384h1V1384h1V1392.3h1V1384h1V1384h1V1384h1V1384h1V1384h1V1384h1V1384h1V1384h1V1384h1V1384h1V1384h1V1384h1V1384h1V1384h1V1384h1V1384h1V1384h1V1384h1V1384h1V1384h1V1384h1V1384h1V1384h1V1384h1V1384h1V1392.3h1V1392.3h1V1392.3h1V1392.3h1V1392.3h1V1392.3h1V1392.3h1V1392.3h1V1392.3h1V1392.3h1V1392.3h1V1392.3h1V1392.3h1V1392.3h1V1384h1V1384h1V1384h1V1392.3h1V1392.3h1V1384h1V1384h1V1384h1V1384h1V1392.3h1V1392.3h1V1392.3h1V1392.3h1V1392.3h1V1384h1V1384h1V1384h1V1392.3h1V1392.3h1V1392.3h1V1392.3h1V1384h1V1384h1V1384h1V1384h1V1384h1V1392.3h1V1384h1V1384h1V1384h1V1392.3h1V1392.3h1V1392.3h1V1392.3h1V1392.3h1V1392.3h1V1392.3h1V1392.3h1V1392.3h1V1384h1V1384h1V1384h1V1384h1V1384h1V1384h1V1384h1V1384h1V1384h1V1384h1V1384h1V1384h1V1384h1V1384h1V1384h1V1384h1V1384h1V1384h1V1384h1V1384h1V1384h1V1384h1V1384h1V1384h1V1384h1V1384h1V1384h1V1384h1V1392.3h1V1392.3h1V1392.3h1V1392.3h1V1392.3h1V1392.3h1V1392.3h1V1392.3h1V1392.3h1V1392.3h1V1392.3h1V1392.3h1V1392.3h1V1392.3h1V1392.3h1V1392.3h1V1392.3h1V1392.3h1V1392.3h1V1392.3h1V1392.3h1V1392.3h1V1392.3h1V1392.3h1V1392.3h1V1392.3h1V1392.3h1V1392.3h1V1392.3h1V1392.3h1V1392.3h1V1392.3h1V1392.3h1V1392.3h1V1392.3h1V1392.3h1V1392.3h1V1392.3h1V1392.3h1V1392.3h1V1392.3h1V1392.3h1V1392.3h1V1392.3h1V1392.3h1V1392.3h1V1392.3h1V1392.3h1V1384h1V1384h1V1384h1V1392.3h1V1392.3h1V1392.3h1V1384h1V1384h1V1384h1V1384h1V1384h1V1384h1V1384h1V1384h1V1384h1V1384h1V1384h1V1384h1V1384h1V1384h1V1384h1V1384h1V1384h1V1384h1V1392.3h1V1384h1V1384h1V1384h1V1384h1V1384h1V1392.3h1V1392.3h1V1392.3h1V1392.3h1V1392.3h1V1392.3h1V1392.3h1V1392.3h1V1384h1V1384h1V1384h1V1384h1V1384h1V1392.3h1V1392.3h1V1384h1V1384h1V1384h1V1384h1V1384h1V1384h1V1384h1V1401.6h-1V1410h-1V1410h-1V1401.6h-1V1401.6h-1V1401.6h-1V1401.6h-1V1401.6h-1V1401.6h-1V1401.6h-1V1401.6h-1V1401.6h-1V1401.6h-1V1410h-1V1410h-1V1410h-1V1410h-1V1410h-1V1410h-1V1410h-1V1410h-1V1410h-1V1401.6h-1V1401.6h-1V1401.6h-1V1401.6h-1V1410h-1V1410h-1V1410h-1V1410h-1V1410h-1V1410h-1V1410h-1V1401.6h-1V1401.6h-1V1401.6h-1V1401.6h-1V1401.6h-1V1401.6h-1V1401.6h-1V1401.6h-1V1401.6h-1V1401.6h-1V1401.6h-1V1401.6h-1V1401.6h-1V1401.6h-1V1401.6h-1V1401.6h-1V1410h-1V1410h-1V1401.6h-1V1401.6h-1V1401.6h-1V1401.6h-1V1401.6h-1V1401.6h-1V1401.6h-1V1401.6h-1V1401.6h-1V1401.6h-1V1401.6h-1V1401.6h-1V1401.6h-1V1401.6h-1V1401.6h-1V1401.6h-1V1401.6h-1V1401.6h-1V1410h-1V1410h-1V1410h-1V1401.6h-1V1401.6h-1V1410h-1V1410h-1V1401.6h-1V1401.6h-1V1401.6h-1V1410h-1V1410h-1V1410h-1V1401.6h-1V1401.6h-1V1401.6h-1V1401.6h-1V1410h-1V1401.6h-1V1401.6h-1V1401.6h-1V1401.6h-1V1401.6h-1V1401.6h-1V1401.6h-1V1401.6h-1V1401.6h-1V1410h-1V1410h-1V1401.6h-1V1401.6h-1V1401.6h-1V1401.6h-1V1401.6h-1V1401.6h-1V1401.6h-1V1401.6h-1V1410h-1V1410h-1V1410h-1V1401.6h-1V1401.6h-1V1401.6h-1V1410h-1V1410h-1V1410h-1V1410h-1V1410h-1V1401.6h-1V1401.6h-1V1401.6h-1V1401.6h-1V1401.6h-1V1401.6h-1V1401.6h-1V1401.6h-1V1401.6h-1V1401.6h-1V1401.6h-1V1401.6h-1V1401.6h-1V1401.6h-1V1401.6h-1V1401.6h-1V1401.6h-1V1401.6h-1V1410h-1V1410h-1V1410h-1V1410h-1V1401.6h-1V1401.6h-1V1401.6h-1V1410h-1V1410h-1V1410h-1V1410h-1V1410h-1V1410h-1V1410h-1V1401.6h-1V1401.6h-1V1401.6h-1V1401.6h-1V1401.6h-1V1401.6h-1V1401.6h-1V1401.6h-1V1401.6h-1V1401.6h-1V1401.6h-1V1401.6h-1V1401.6h-1V1401.6h-1V1401.6h-1V1410h-1V1401.6h-1V1401.6h-1V1401.6h-1V1401.6h-1V1401.6h-1V1401.6h-1V1401.6h-1V1401.6h-1V1401.6h-1V1401.6h-1V1401.6h-1V1401.6h-1V1401.6h-1V1401.6h-1V1401.6h-1V1401.6h-1V1401.6h-1V1401.6h-1V1401.6h-1V1401.6h-1V1410h-1V1410h-1V1410h-1V1410h-1V1410h-1V1401.6h-1V1401.6h-1V1401.6h-1V1401.6h-1V1401.6h-1V1401.6h-1V1401.6h-1V1410h-1V1410h-1V1410h-1V1401.6h-1V1401.6h-1V1401.6h-1V1401.6h-1V1401.6h-1V1401.6h-1V1401.6h-1V1401.6h-1V1401.6h-1V1401.6h-1V1401.6h-1V1401.6h-1V1401.6h-1V1410h-1V1410h-1V1410h-1V1401.6h-1V1401.6h-1V1401.6h-1V1401.6h-1V1401.6h-1V1401.6h-1V1401.6h-1V1401.6h-1V1410h-1V1401.6h-1V1401.6h-1V1401.6h-1V1401.6h-1V1401.6h-1V1410h-1V1401.6h-1V1401.6h-1V1410h-1V1410h-1V1401.6h-1V1410h-1V1410h-1V1410h-1V1401.6h-1V1401.6h-1V1410h-1V1410h-1V1401.6h-1V1401.6h-1V1401.6h-1V1401.6h-1V1410h-1V1401.6h-1V1401.6h-1V1401.6h-1V1410h-1V1401.6h-1V1401.6h-1V1401.6h-1V1401.6h-1V1401.6h-1V1401.6h-1V1401.6h-1V1401.6h-1V1401.6h-1V1401.6h-1V1401.6h-1V1401.6h-1V1410h-1V1410h-1V1401.6h-1V1401.6h-1V1401.6h-1V1401.6h-1V1401.6h-1V1401.6h-1V1401.6h-1V1401.6h-1V1401.6h-1V1401.6h-1V1401.6h-1V1401.6h-1V1401.6h-1V1410h-1V1401.6h-1V1401.6h-1V1401.6h-1V1401.6h-1V1401.6h-1V1401.6h-1V1401.6h-1V1401.6h-1V1401.6h-1V1401.6h-1V1401.6h-1V1410h-1V1401.6h-1V1401.6h-1V1401.6h-1V1401.6h-1V1401.6h-1V1401.6h-1V1401.6h-1V1401.6h-1V1410h-1V1410h-1V1410h-1V1410h-1V1401.6h-1V1401.6h-1V1401.6h-1V1401.6h-1V1401.6h-1V1401.6h-1V1401.6h-1V1401.6h-1V1410h-1V1401.6h-1V1401.6h-1V1401.6h-1V1401.6h-1V1401.6h-1V1401.6h-1V1410h-1V1410h-1V1410h-1V1401.6h-1V1401.6h-1V1410h-1V1410h-1V1401.6h-1V1401.6h-1V1401.6h-1V1401.6h-1V1401.6h-1V1401.6h-1V1401.6h-1V1401.6h-1V1401.6h-1V1401.6h-1V1401.6h-1V1401.6h-1V1401.6h-1V1401.6h-1V1410h-1V1401.6h-1V1410h-1V1401.6h-1V1401.6h-1V1401.6h-1V1401.6h-1V1401.6h-1V1401.6h-1V1401.6h-1V1401.6h-1V1401.6h-1V1401.6h-1V1401.6h-1V1401.6h-1V1401.6h-1V1410h-1V1401.6h-1V1401.6h-1V1401.6h-1V1401.6h-1V1401.6h-1V1401.6h-1V1401.6h-1V1401.6h-1V1401.6h-1V1401.6h-1V1401.6h-1V1401.6h-1V1401.6h-1V1401.6h-1V1401.6h-1V1401.6h-1V1401.6h-1V1401.6h-1V1401.6h-1V1401.6h-1V1401.6h-1V1401.6h-1V1401.6h-1V1401.6h-1V1401.6h-1V1401.6h-1V1401.6h-1V1401.6h-1V1401.6h-1V1401.6h-1V1401.6h-1V1401.6h-1V1401.6h-1V1401.6h-1V1401.6h-1V1401.6h-1V1401.6h-1V1410h-1V1410h-1V1410h-1V1410h-1V1401.6h-1V1401.6h-1V1401.6h-1V1410h-1V1410h-1V1410h-1V1410h-1V1410h-1V1410h-1V1401.6h-1V1401.6h-1V1401.6h-1V1401.6h-1V1401.6h-1V1401.6h-1V1401.6h-1V1401.6h-1V1401.6h-1V1401.6h-1V1401.6h-1V1401.6h-1V1401.6h-1V1401.6h-1V1401.6h-1V1401.6h-1V1410h-1V1401.6h-1V1401.6h-1V1401.6h-1V1401.6h-1V1401.6h-1V1401.6h-1V1401.6h-1V1401.6h-1V1410h-1V1401.6h-1V1401.6h-1V1401.6h-1V1410h-1V1401.6h-1V1401.6h-1V1401.6h-1V1410h-1V1401.6h-1V1401.6h-1V1410h-1V1401.6h-1V1401.6h-1V1410h-1V1401.6h-1V1401.6h-1V1401.6h-1V1401.6h-1V1401.6h-1V1401.6h-1V1401.6h-1V1401.6h-1V1401.6h-1V1410h-1V1410h-1V1401.6h-1V1401.6h-1V1401.6h-1V1401.6h-1V1401.6h-1V1401.6h-1V1401.6h-1V1401.6h-1V1401.6h-1V1401.6h-1V1401.6h-1V1401.6h-1V1401.6h-1V1401.6h-1V1401.6h-1V1401.6h-1V1401.6h-1V1401.6h-1V1401.6h-1V1410h-1V1410h-1V1410h-1V1401.6h-1V1401.6h-1V1410h-1V1401.6h-1V1401.6h-1V1401.6h-1V1401.6h-1V1410h-1V1401.6h-1V1401.6h-1V1401.6h-1V1401.6h-1V1401.6h-1V1401.6h-1V1401.6h-1V1401.6h-1V1401.6h-1V1401.6h-1V1410h-1V1410h-1V1401.6h-1V1401.6h-1V1401.6h-1V1401.6h-1V1401.6h-1V1401.6h-1V1401.6h-1V1410h-1V1410h-1V1410h-1V1401.6h-1V1401.6h-1V1410h-1V1401.6h-1V1401.6h-1V1401.6h-1V1401.6h-1V1401.6h-1V1401.6h-1V1401.6h-1V1401.6h-1V1401.6h-1V1410h-1V1410h-1V1410h-1V1401.6h-1V1410h-1V1401.6h-1V1401.6h-1V1401.6h-1V1401.6h-1V1401.6h-1V1401.6h-1V1401.6h-1V1401.6h-1V1401.6h-1V1401.6h-1V1401.6h-1V1401.6h-1V1410h-1V1410h-1V1401.6h-1V1401.6h-1V1401.6h-1V1401.6h-1V1401.6h-1V1401.6h-1V1401.6h-1V1401.6h-1V1401.6h-1V1401.6h-1V1401.6h-1V1401.6h-1V1401.6h-1V1401.6h-1V1401.6h-1V1401.6h-1V1401.6h-1V1401.6h-1V1401.6h-1V1401.6h-1V1401.6h-1V1401.6h-1V1401.6h-1V1401.6h-1V1401.6h-1V1401.6h-1V1401.6h-1V1401.6h-1V1401.6h-1V1401.6h-1V1401.6h-1V1401.6h-1V1401.6h-1V1401.6h-1V1401.6h-1V1401.6h-1V1401.6h-1V1401.6h-1V1401.6h-1V1401.6h-1V1401.6h-1V1401.6h-1V1401.6h-1V1401.6h-1V1401.6h-1V1401.6h-1V1401.6h-1V1401.6h-1V1401.6h-1V1401.6h-1V1410h-1V1401.6h-1V1401.6h-1V1401.6h-1V1401.6h-1V1401.6h-1V1401.6h-1V1401.6h-1V1410h-1V1401.6h-1V1401.6h-1V1401.6h-1V1401.6h-1V1401.6h-1V1401.6h-1V1401.6h-1V1401.6h-1V1401.6h-1V1410h-1V1410h-1V1410h-1V1410h-1V1401.6h-1V1401.6h-1V1401.6h-1V1401.6h-1V1401.6h-1Z" fill="#ffff00"/>
<path d="M165.8 1395V1462" stroke="#e0e800" stroke-width="1.6"/>
</g>
<path d="M165.5 1308.5H1154.5V1469.5H165.5ZM166 1388.5h9.5M1154 1388.5h-9.5M412.5 1309v9.5M412.5 1469v-9.5M660.5 1309v9.5M660.5 1469v-9.5M907.5 1309v9.5M907.5 1469v-9.5" stroke="#262626" stroke-width="1" fill="none"/>
<text x="156.20" y="1394.80" font-size="21.00" text-anchor="end" fill="#262626" textLength="12.72" lengthAdjust="spacingAndGlyphs">0</text>
<text x="156.20" y="1314.80" font-size="21.00" text-anchor="end" fill="#262626" textLength="38.17" lengthAdjust="spacingAndGlyphs">100</text>
<text x="156.20" y="1475.80" font-size="21.00" text-anchor="end" fill="#262626" textLength="45.39" lengthAdjust="spacingAndGlyphs">-100</text>
<text x="72.10" y="1389.50" font-size="19.60" font-weight="bold" text-anchor="middle" fill="#262626" textLength="81.23" lengthAdjust="spacingAndGlyphs" transform="rotate(-90 72.10 1389.50)">Voltage</text>
<text x="98.10" y="1389.20" font-size="19.60" font-weight="bold" text-anchor="middle" fill="#262626" textLength="50.97" lengthAdjust="spacingAndGlyphs" transform="rotate(-90 98.10 1389.20)">(mV)</text>
<g transform="translate(1169.70 1438.70) rotate(-90)" font-size="15.40" font-weight="bold" fill="#000"><text x="0.00" y="0" textLength="64.12" lengthAdjust="spacingAndGlyphs">Inboard</text><text x="69.23" y="0" textLength="56.68" lengthAdjust="spacingAndGlyphs">VMon1</text></g>
<g transform="translate(1181.60 1438.70) rotate(-90)" font-size="15.40" font-weight="bold" fill="#000"><text x="0.00" y="0" textLength="64.12" lengthAdjust="spacingAndGlyphs">Inboard</text><text x="69.23" y="0" textLength="56.68" lengthAdjust="spacingAndGlyphs">VMon2</text></g>
<g transform="translate(1193.30 1446.80) rotate(-90)" font-size="15.40" font-weight="bold" fill="#000"><text x="0.00" y="0" textLength="78.15" lengthAdjust="spacingAndGlyphs">Outboard</text><text x="83.25" y="0" textLength="56.68" lengthAdjust="spacingAndGlyphs">VMon1</text></g>
<g transform="translate(1205.10 1446.80) rotate(-90)" font-size="15.40" font-weight="bold" fill="#000"><text x="0.00" y="0" textLength="78.15" lengthAdjust="spacingAndGlyphs">Outboard</text><text x="83.25" y="0" textLength="56.68" lengthAdjust="spacingAndGlyphs">VMon2</text></g>
<path d="M1168 1462.3V1477.8" stroke="#0000ff" stroke-width="2"/>
<path d="M1180 1462.9V1477.8" stroke="#00ffff" stroke-width="2"/>
<path d="M1191.6 1462.9V1477.8" stroke="#00ff00" stroke-width="2"/>
<path d="M1203 1462.9V1477.8" stroke="#ffff00" stroke-width="2"/>
<text x="42.00" y="1499.00" font-size="15.23" font-weight="bold" fill="#000" textLength="45.60" lengthAdjust="spacingAndGlyphs">Time:</text>
<text x="165.50" y="1499.00" font-size="15.23" font-weight="bold" text-anchor="middle" fill="#000" textLength="72.13" lengthAdjust="spacingAndGlyphs">04:29:12</text>
<text x="412.50" y="1499.00" font-size="15.23" font-weight="bold" text-anchor="middle" fill="#000" textLength="72.13" lengthAdjust="spacingAndGlyphs">04:55:03</text>
<text x="660.50" y="1499.00" font-size="15.23" font-weight="bold" text-anchor="middle" fill="#000" textLength="72.13" lengthAdjust="spacingAndGlyphs">05:20:55</text>
<text x="907.50" y="1499.00" font-size="15.23" font-weight="bold" text-anchor="middle" fill="#000" textLength="72.13" lengthAdjust="spacingAndGlyphs">05:46:46</text>
<text x="1154.50" y="1499.00" font-size="15.23" font-weight="bold" text-anchor="middle" fill="#000" textLength="72.13" lengthAdjust="spacingAndGlyphs">06:12:37</text>
<text x="42.00" y="1519.50" font-size="15.23" font-weight="bold" fill="#000" textLength="75.14" lengthAdjust="spacingAndGlyphs">Rad(km):</text>
<text x="165.50" y="1519.50" font-size="15.23" font-weight="bold" text-anchor="middle" fill="#000" textLength="55.95" lengthAdjust="spacingAndGlyphs">7389.3</text>
<text x="412.50" y="1519.50" font-size="15.23" font-weight="bold" text-anchor="middle" fill="#000" textLength="55.95" lengthAdjust="spacingAndGlyphs">7628.9</text>
<text x="660.50" y="1519.50" font-size="15.23" font-weight="bold" text-anchor="middle" fill="#000" textLength="55.95" lengthAdjust="spacingAndGlyphs">6993.7</text>
<text x="907.50" y="1519.50" font-size="15.23" font-weight="bold" text-anchor="middle" fill="#000" textLength="55.95" lengthAdjust="spacingAndGlyphs">6759.3</text>
<text x="1154.50" y="1519.50" font-size="15.23" font-weight="bold" text-anchor="middle" fill="#000" textLength="55.95" lengthAdjust="spacingAndGlyphs">7453.6</text>
<text x="42.00" y="1540.00" font-size="15.23" font-weight="bold" fill="#000" textLength="31.75" lengthAdjust="spacingAndGlyphs">Lat:</text>
<text x="165.50" y="1540.00" font-size="15.23" font-weight="bold" text-anchor="middle" fill="#000" textLength="35.78" lengthAdjust="spacingAndGlyphs">14.7</text>
<text x="412.50" y="1540.00" font-size="15.23" font-weight="bold" text-anchor="middle" fill="#000" textLength="41.79" lengthAdjust="spacingAndGlyphs">-65.7</text>
<text x="660.50" y="1540.00" font-size="15.23" font-weight="bold" text-anchor="middle" fill="#000" textLength="41.79" lengthAdjust="spacingAndGlyphs">-24.4</text>
<text x="907.50" y="1540.00" font-size="15.23" font-weight="bold" text-anchor="middle" fill="#000" textLength="35.78" lengthAdjust="spacingAndGlyphs">75.5</text>
<text x="1154.50" y="1540.00" font-size="15.23" font-weight="bold" text-anchor="middle" fill="#000" textLength="25.69" lengthAdjust="spacingAndGlyphs">6.7</text>
<text x="42.00" y="1560.50" font-size="15.23" font-weight="bold" fill="#000" textLength="35.32" lengthAdjust="spacingAndGlyphs">Lon:</text>
<text x="165.50" y="1560.50" font-size="15.23" font-weight="bold" text-anchor="middle" fill="#000" textLength="41.79" lengthAdjust="spacingAndGlyphs">-99.0</text>
<text x="412.50" y="1560.50" font-size="15.23" font-weight="bold" text-anchor="middle" fill="#000" textLength="41.79" lengthAdjust="spacingAndGlyphs">-82.5</text>
<text x="660.50" y="1560.50" font-size="15.23" font-weight="bold" text-anchor="middle" fill="#000" textLength="35.78" lengthAdjust="spacingAndGlyphs">66.2</text>
<text x="907.50" y="1560.50" font-size="15.23" font-weight="bold" text-anchor="middle" fill="#000" textLength="45.86" lengthAdjust="spacingAndGlyphs">102.0</text>
<text x="1154.50" y="1560.50" font-size="15.23" font-weight="bold" text-anchor="middle" fill="#000" textLength="51.88" lengthAdjust="spacingAndGlyphs">-123.7</text>
<text x="42.00" y="1581.00" font-size="15.23" font-weight="bold" fill="#000" textLength="41.92" lengthAdjust="spacingAndGlyphs">Mlat:</text>
<text x="165.50" y="1581.00" font-size="15.23" font-weight="bold" text-anchor="middle" fill="#000" textLength="35.78" lengthAdjust="spacingAndGlyphs">23.2</text>
<text x="412.50" y="1581.00" font-size="15.23" font-weight="bold" text-anchor="middle" fill="#000" textLength="41.79" lengthAdjust="spacingAndGlyphs">-56.4</text>
<text x="660.50" y="1581.00" font-size="15.23" font-weight="bold" text-anchor="middle" fill="#000" textLength="41.79" lengthAdjust="spacingAndGlyphs">-31.4</text>
<text x="907.50" y="1581.00" font-size="15.23" font-weight="bold" text-anchor="middle" fill="#000" textLength="35.78" lengthAdjust="spacingAndGlyphs">66.1</text>
<text x="1154.50" y="1581.00" font-size="15.23" font-weight="bold" text-anchor="middle" fill="#000" textLength="35.78" lengthAdjust="spacingAndGlyphs">12.5</text>
<text x="42.00" y="1601.50" font-size="15.23" font-weight="bold" fill="#000" textLength="32.13" lengthAdjust="spacingAndGlyphs">Mlt:</text>
<text x="165.50" y="1601.50" font-size="15.23" font-weight="bold" text-anchor="middle" fill="#000" textLength="55.95" lengthAdjust="spacingAndGlyphs">21.856</text>
<text x="412.50" y="1601.50" font-size="15.23" font-weight="bold" text-anchor="middle" fill="#000" textLength="55.95" lengthAdjust="spacingAndGlyphs">23.642</text>
<text x="660.50" y="1601.50" font-size="15.23" font-weight="bold" text-anchor="middle" fill="#000" textLength="45.86" lengthAdjust="spacingAndGlyphs">9.576</text>
<text x="907.50" y="1601.50" font-size="15.23" font-weight="bold" text-anchor="middle" fill="#000" textLength="55.95" lengthAdjust="spacingAndGlyphs">12.737</text>
<text x="1154.50" y="1601.50" font-size="15.23" font-weight="bold" text-anchor="middle" fill="#000" textLength="55.95" lengthAdjust="spacingAndGlyphs">21.888</text>
<g transform="translate(22.00 1640.20)" font-size="15.31" font-weight="bold" fill="#000"><text x="0.00" y="0" textLength="36.44" lengthAdjust="spacingAndGlyphs">MGF</text><text x="41.51" y="0" textLength="80.84" lengthAdjust="spacingAndGlyphs">Quicklook</text><text x="127.43" y="0" textLength="44.87" lengthAdjust="spacingAndGlyphs">using</text><text x="177.38" y="0" textLength="349.69" lengthAdjust="spacingAndGlyphs">MGF_20190509_042912_061236_v2.1.0.lv2</text><text x="532.14" y="0" textLength="20.40" lengthAdjust="spacingAndGlyphs">on</text><text x="557.62" y="0" textLength="104.69" lengthAdjust="spacingAndGlyphs">22-Nov-2021</text><text x="667.39" y="0" textLength="72.53" lengthAdjust="spacingAndGlyphs">16:05:46</text><text x="744.99" y="0" textLength="94.98" lengthAdjust="spacingAndGlyphs">(calibration</text><text x="845.04" y="0" textLength="38.74" lengthAdjust="spacingAndGlyphs">from</text><text x="888.86" y="0" textLength="327.60" lengthAdjust="spacingAndGlyphs">cas_mgf_7day_cal_2019_05_03_v2.1.mat</text><text x="1221.54" y="0" textLength="6.66" lengthAdjust="spacingAndGlyphs">)</text></g>
</svg></body></html>
